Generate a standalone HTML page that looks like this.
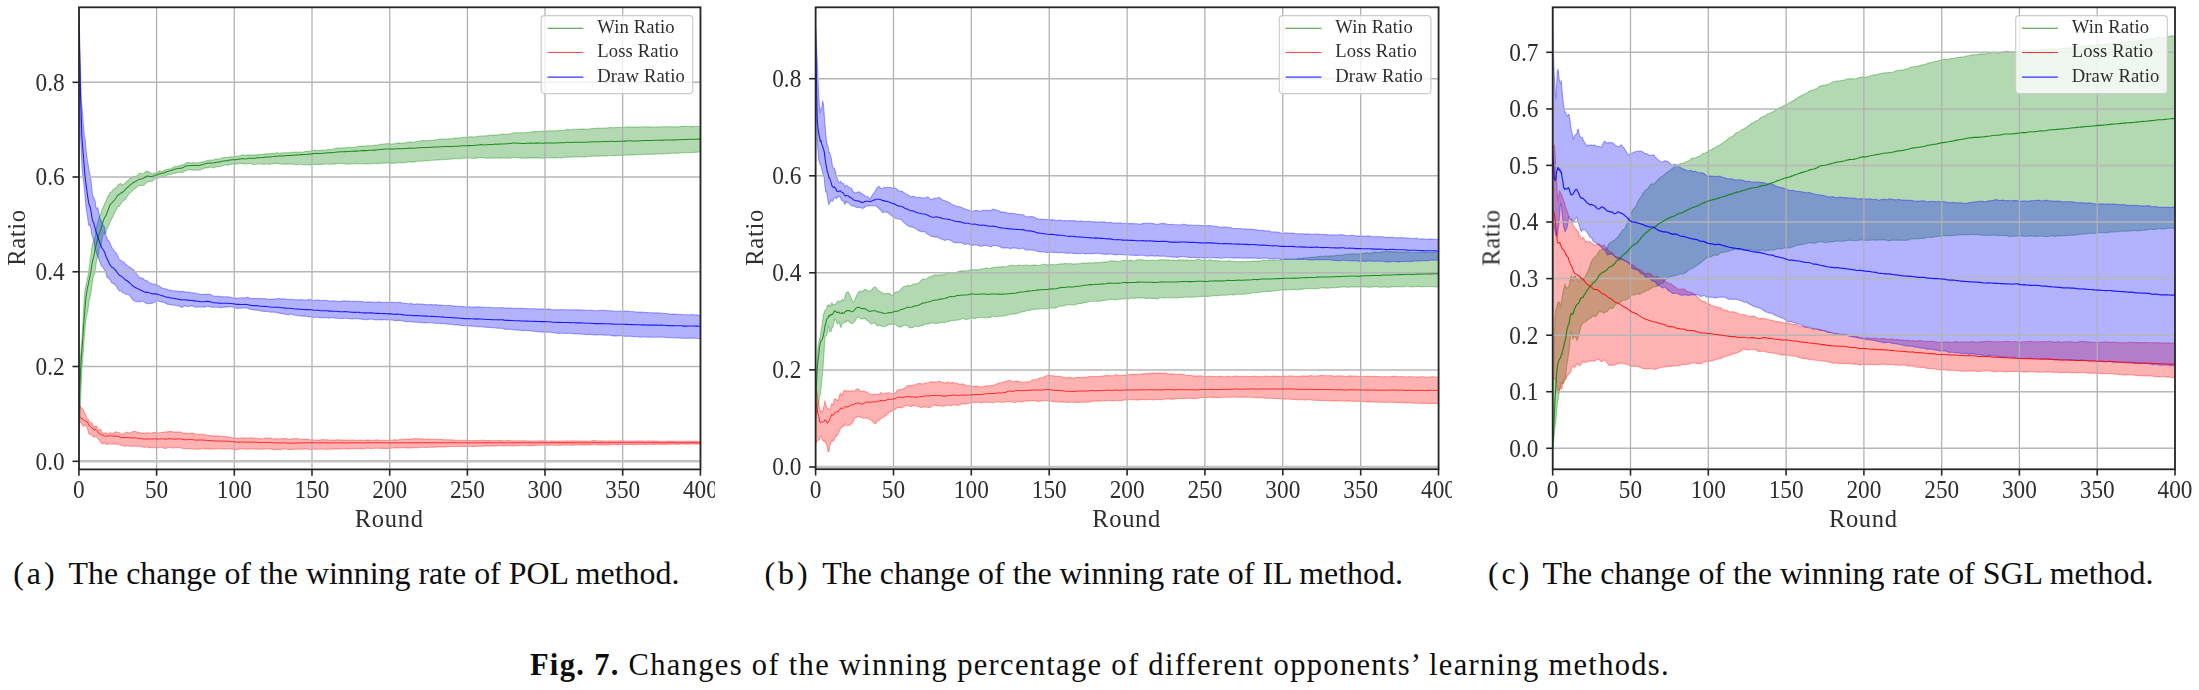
<!DOCTYPE html>
<html><head><meta charset="utf-8"><title>Fig. 7</title>
<style>
html,body{margin:0;padding:0;background:#fff;}
body{width:2199px;height:690px;position:relative;overflow:hidden;font-family:"Liberation Serif",serif;color:#111;}
svg text{font-family:"Liberation Serif",serif;fill:#2e2e2e;}
.tk{font-size:23.3px;}
.al{font-size:24.5px;letter-spacing:0.7px;}
.lg{font-size:18.6px;letter-spacing:0.15px;}
.cap{position:absolute;white-space:pre;font-size:31.9px;line-height:1;color:#0d0d0d;top:557.6px;}
.lab{letter-spacing:3px;}
.main{position:absolute;white-space:pre;font-size:30.5px;line-height:1;color:#0d0d0d;letter-spacing:1.32px;top:649.5px;}
</style></head><body>
<svg width="2199" height="690" viewBox="0 0 2199 690" style="position:absolute;left:0;top:0">
<rect width="100%" height="100%" fill="#fff"/>
<defs><filter id="soft" x="0" y="0" width="100%" height="100%" filterUnits="userSpaceOnUse" color-interpolation-filters="sRGB"><feGaussianBlur stdDeviation="0.45"/></filter></defs>
<g filter="url(#soft)">
<clipPath id="ax1"><rect x="79.0" y="7.3" width="621.5" height="462.1"/></clipPath>
<clipPath id="img1"><rect x="0" y="0" width="715" height="545"/></clipPath>
<g clip-path="url(#img1)">
<g clip-path="url(#ax1)">
<path d="M78.9,419.2 L79.7,379.6 L80.5,356.1 L81.2,347.5 L82.0,338.2 L82.8,324.2 L83.6,308.3 L84.3,296.0 L85.1,289.9 L85.9,286.1 L86.7,282.2 L87.4,277.9 L88.2,275.7 L89.0,269.0 L89.8,263.4 L90.6,258.2 L91.3,250.9 L92.1,245.8 L92.9,242.4 L93.7,239.6 L94.4,238.7 L95.2,236.8 L96.0,231.1 L96.8,225.8 L97.5,222.9 L98.3,220.1 L99.1,217.2 L99.9,215.8 L100.7,214.3 L101.4,211.8 L102.2,209.2 L103.0,207.7 L103.8,205.7 L104.5,204.2 L105.3,202.2 L106.1,201.0 L106.9,198.7 L107.6,196.7 L108.4,195.3 L109.2,194.8 L110.0,192.4 L111.5,191.9 L113.1,189.5 L114.6,188.6 L116.2,187.7 L117.7,185.3 L119.3,184.1 L120.9,183.6 L122.4,185.1 L124.0,184.1 L125.5,182.6 L127.1,181.2 L128.6,180.0 L130.2,178.1 L131.7,177.9 L133.3,176.6 L134.8,176.4 L136.4,176.2 L137.9,174.7 L139.5,173.3 L141.1,173.5 L142.6,174.0 L144.2,172.9 L145.7,171.6 L147.3,171.4 L148.8,171.7 L150.4,172.8 L151.9,173.9 L153.5,173.3 L155.0,173.0 L156.6,173.1 L158.1,172.1 L159.7,170.5 L161.3,171.9 L162.8,171.2 L164.4,170.2 L165.9,169.8 L167.5,169.3 L169.0,169.1 L170.6,169.0 L172.1,168.1 L173.7,166.9 L175.2,166.4 L176.8,166.2 L178.3,166.2 L179.9,165.6 L181.5,165.1 L183.0,164.9 L184.6,164.1 L186.1,163.0 L187.7,162.2 L189.2,162.9 L190.8,162.8 L192.3,162.5 L193.9,162.7 L195.4,163.3 L197.0,162.8 L198.5,162.8 L200.1,162.4 L201.7,161.8 L203.2,162.1 L204.8,161.4 L206.3,160.8 L207.9,160.4 L209.4,160.2 L211.0,160.0 L212.5,160.0 L214.1,159.7 L215.6,159.1 L217.2,158.9 L218.7,159.0 L220.3,158.8 L221.8,157.9 L223.4,157.5 L225.0,157.2 L226.5,157.5 L228.1,157.6 L229.6,156.8 L231.2,156.8 L232.7,156.7 L234.3,156.8 L235.8,156.4 L237.4,156.4 L238.9,156.2 L240.5,155.5 L242.0,155.1 L243.6,155.1 L245.2,155.3 L246.7,155.0 L248.3,155.1 L249.8,155.1 L251.4,155.0 L252.9,155.1 L254.5,155.1 L256.0,155.1 L257.6,154.6 L259.1,154.6 L260.7,154.5 L262.2,154.4 L263.8,154.1 L265.4,153.7 L266.9,153.7 L268.5,153.7 L270.0,153.9 L271.6,153.6 L273.1,153.4 L274.7,153.3 L276.2,152.9 L277.8,152.7 L279.3,153.5 L280.9,153.1 L282.4,152.8 L284.0,152.7 L285.6,152.8 L287.1,152.7 L288.7,152.7 L290.2,152.4 L291.8,152.4 L293.3,152.2 L294.9,152.1 L296.4,151.9 L298.0,152.5 L299.5,152.0 L301.1,152.0 L302.6,152.3 L304.2,151.8 L305.8,151.3 L307.3,151.5 L308.9,151.4 L310.4,151.1 L312.0,150.6 L313.5,150.4 L315.1,150.2 L316.6,150.4 L318.2,150.5 L319.7,150.6 L321.3,150.2 L322.8,150.1 L324.4,150.2 L326.0,150.2 L327.5,149.6 L329.1,149.5 L330.6,149.4 L332.2,149.2 L333.7,149.0 L335.3,148.5 L336.8,148.1 L338.4,148.3 L339.9,148.1 L341.5,148.1 L343.0,147.8 L344.6,147.7 L346.2,147.9 L347.7,147.5 L349.3,147.4 L350.8,147.2 L352.4,147.2 L353.9,147.2 L355.5,147.2 L357.0,146.8 L358.6,146.3 L360.1,146.2 L361.7,146.0 L363.2,146.1 L364.8,146.2 L366.4,146.1 L367.9,145.6 L369.5,145.7 L371.0,145.7 L372.6,145.7 L374.1,145.1 L375.7,145.2 L377.2,145.0 L378.8,144.8 L380.3,144.4 L381.9,144.1 L383.4,144.3 L385.0,143.9 L386.6,143.8 L388.1,143.6 L389.7,143.7 L391.2,144.0 L392.8,143.9 L394.3,143.7 L395.9,143.5 L397.4,143.1 L399.0,142.9 L400.5,143.1 L402.1,143.2 L403.6,143.1 L405.2,142.9 L406.8,142.4 L408.3,142.0 L409.9,142.1 L411.4,142.1 L413.0,142.2 L414.5,142.1 L416.1,141.5 L417.6,141.5 L419.2,141.4 L420.7,140.9 L422.3,140.6 L423.8,140.6 L425.4,140.7 L427.0,140.6 L428.5,140.7 L430.1,140.2 L431.6,140.2 L433.2,140.2 L434.7,139.9 L436.3,139.8 L437.8,139.5 L439.4,139.1 L440.9,139.1 L442.5,139.0 L444.0,139.0 L445.6,138.9 L447.2,139.0 L448.7,138.9 L450.3,138.9 L451.8,138.7 L453.4,138.3 L454.9,138.1 L456.5,138.0 L458.0,138.1 L459.6,138.0 L461.1,137.7 L462.7,137.4 L464.2,137.2 L465.8,137.2 L467.4,137.1 L468.9,136.9 L470.5,136.9 L472.0,136.8 L473.6,137.0 L475.1,136.9 L476.7,136.5 L478.2,136.2 L479.8,136.0 L481.3,136.0 L482.9,136.0 L484.4,135.9 L486.0,136.0 L487.5,135.6 L489.1,135.4 L490.7,135.4 L492.2,135.1 L493.8,135.1 L495.3,135.0 L496.9,135.2 L498.4,134.8 L500.0,134.8 L501.5,134.2 L503.1,134.1 L504.6,134.2 L506.2,134.4 L507.7,134.3 L509.3,133.9 L510.9,133.7 L512.4,133.3 L514.0,132.8 L515.5,132.8 L517.1,132.8 L518.6,132.8 L520.2,132.8 L521.7,132.8 L523.3,132.7 L524.8,132.8 L526.4,132.5 L527.9,132.3 L529.5,132.2 L531.1,132.0 L532.6,131.7 L534.2,131.6 L535.7,131.6 L537.3,131.5 L538.8,131.4 L540.4,131.2 L541.9,131.3 L543.5,131.3 L545.0,131.3 L546.6,131.1 L548.1,130.8 L549.7,130.8 L551.3,130.9 L552.8,130.8 L554.4,130.8 L555.9,130.9 L557.5,130.6 L559.0,130.3 L560.6,130.3 L562.1,130.5 L563.7,130.5 L565.2,129.9 L566.8,129.4 L568.3,129.6 L569.9,129.9 L571.5,129.8 L573.0,129.3 L574.6,129.3 L576.1,129.3 L577.7,129.1 L579.2,129.2 L580.8,129.1 L582.3,129.1 L583.9,129.1 L585.4,129.2 L587.0,129.0 L588.5,129.0 L590.1,129.0 L591.7,128.5 L593.2,128.4 L594.8,128.6 L596.3,128.4 L597.9,128.0 L599.4,128.3 L601.0,128.3 L602.5,128.1 L604.1,128.0 L605.6,128.0 L607.2,128.0 L608.7,127.8 L610.3,127.6 L611.9,127.5 L613.4,127.7 L615.0,127.5 L616.5,127.6 L618.1,127.4 L619.6,127.5 L621.2,127.3 L622.7,127.3 L624.3,127.3 L625.8,127.3 L627.4,126.9 L628.9,126.9 L630.5,127.0 L632.1,127.1 L633.6,127.1 L635.2,126.9 L636.7,127.0 L638.3,127.1 L639.8,127.0 L641.4,127.0 L642.9,126.9 L644.5,126.9 L646.0,126.8 L647.6,126.9 L649.1,126.7 L650.7,126.9 L652.3,127.0 L653.8,126.9 L655.4,127.0 L656.9,127.1 L658.5,126.9 L660.0,127.0 L661.6,126.8 L663.1,126.7 L664.7,126.7 L666.2,126.5 L667.8,126.7 L669.3,126.7 L670.9,126.6 L672.5,126.9 L674.0,126.9 L675.6,126.9 L677.1,126.9 L678.7,126.9 L680.2,126.7 L681.8,126.4 L683.3,126.3 L684.9,126.4 L686.4,126.4 L688.0,126.4 L689.5,126.6 L691.1,126.6 L692.7,126.6 L694.2,126.5 L695.8,126.4 L697.3,126.5 L698.9,126.5 L700.4,126.5 L700.4,152.0 L698.9,152.0 L697.3,152.3 L695.8,152.3 L694.2,152.4 L692.7,152.5 L691.1,152.5 L689.5,152.5 L688.0,152.5 L686.4,152.7 L684.9,152.7 L683.3,152.7 L681.8,152.8 L680.2,153.0 L678.7,153.1 L677.1,153.2 L675.6,153.4 L674.0,153.1 L672.5,153.2 L670.9,153.3 L669.3,153.4 L667.8,153.6 L666.2,153.8 L664.7,153.8 L663.1,153.9 L661.6,153.9 L660.0,153.7 L658.5,153.6 L656.9,153.9 L655.4,154.1 L653.8,154.1 L652.3,154.2 L650.7,154.4 L649.1,154.3 L647.6,154.2 L646.0,154.1 L644.5,154.3 L642.9,154.4 L641.4,154.7 L639.8,154.6 L638.3,154.6 L636.7,154.8 L635.2,154.8 L633.6,154.9 L632.1,154.9 L630.5,154.8 L628.9,154.9 L627.4,154.8 L625.8,155.1 L624.3,155.2 L622.7,155.6 L621.2,155.5 L619.6,155.5 L618.1,155.2 L616.5,155.6 L615.0,155.6 L613.4,155.6 L611.9,155.5 L610.3,155.5 L608.7,155.5 L607.2,155.9 L605.6,155.9 L604.1,155.9 L602.5,156.0 L601.0,156.0 L599.4,156.1 L597.9,156.1 L596.3,156.1 L594.8,156.1 L593.2,156.2 L591.7,156.1 L590.1,156.4 L588.5,156.5 L587.0,156.6 L585.4,157.0 L583.9,156.9 L582.3,156.8 L580.8,156.8 L579.2,157.0 L577.7,156.9 L576.1,157.0 L574.6,157.0 L573.0,156.9 L571.5,157.1 L569.9,157.1 L568.3,157.1 L566.8,157.0 L565.2,157.5 L563.7,157.7 L562.1,157.6 L560.6,157.6 L559.0,157.7 L557.5,157.8 L555.9,157.9 L554.4,157.9 L552.8,157.8 L551.3,157.8 L549.7,158.0 L548.1,157.8 L546.6,157.7 L545.0,157.9 L543.5,158.1 L541.9,158.2 L540.4,158.0 L538.8,157.9 L537.3,157.9 L535.7,157.9 L534.2,157.9 L532.6,157.9 L531.1,157.9 L529.5,157.9 L527.9,157.9 L526.4,157.9 L524.8,158.2 L523.3,158.1 L521.7,158.1 L520.2,157.9 L518.6,157.8 L517.1,157.6 L515.5,157.6 L514.0,157.3 L512.4,157.5 L510.9,158.0 L509.3,158.1 L507.7,158.0 L506.2,158.1 L504.6,158.0 L503.1,157.9 L501.5,157.9 L500.0,158.2 L498.4,158.1 L496.9,158.0 L495.3,157.8 L493.8,158.2 L492.2,158.1 L490.7,158.1 L489.1,158.0 L487.5,158.1 L486.0,158.3 L484.4,158.0 L482.9,157.6 L481.3,157.5 L479.8,157.6 L478.2,157.8 L476.7,158.1 L475.1,158.1 L473.6,158.3 L472.0,158.2 L470.5,158.0 L468.9,157.8 L467.4,158.0 L465.8,158.0 L464.2,158.1 L462.7,158.1 L461.1,158.6 L459.6,158.8 L458.0,158.8 L456.5,158.7 L454.9,158.8 L453.4,159.0 L451.8,159.0 L450.3,159.1 L448.7,159.3 L447.2,159.4 L445.6,159.3 L444.0,159.6 L442.5,159.8 L440.9,159.8 L439.4,159.9 L437.8,160.0 L436.3,159.9 L434.7,160.1 L433.2,160.2 L431.6,160.3 L430.1,160.5 L428.5,160.6 L427.0,160.5 L425.4,160.8 L423.8,160.9 L422.3,161.0 L420.7,161.3 L419.2,161.2 L417.6,161.2 L416.1,161.5 L414.5,161.9 L413.0,161.9 L411.4,162.1 L409.9,161.9 L408.3,161.9 L406.8,162.3 L405.2,162.4 L403.6,162.8 L402.1,162.9 L400.5,162.8 L399.0,162.6 L397.4,162.7 L395.9,162.9 L394.3,163.3 L392.8,163.3 L391.2,163.4 L389.7,163.2 L388.1,162.8 L386.6,163.0 L385.0,163.1 L383.4,163.3 L381.9,163.0 L380.3,163.2 L378.8,163.6 L377.2,163.6 L375.7,163.5 L374.1,163.2 L372.6,163.8 L371.0,163.8 L369.5,163.6 L367.9,163.7 L366.4,163.9 L364.8,163.7 L363.2,163.7 L361.7,163.5 L360.1,163.6 L358.6,163.8 L357.0,163.9 L355.5,163.8 L353.9,163.6 L352.4,163.7 L350.8,164.0 L349.3,164.3 L347.7,164.1 L346.2,164.0 L344.6,163.6 L343.0,163.7 L341.5,163.5 L339.9,163.5 L338.4,163.5 L336.8,163.5 L335.3,163.9 L333.7,163.9 L332.2,164.1 L330.6,164.3 L329.1,164.3 L327.5,163.8 L326.0,164.0 L324.4,164.2 L322.8,164.3 L321.3,164.4 L319.7,164.5 L318.2,164.4 L316.6,164.3 L315.1,164.6 L313.5,164.5 L312.0,164.5 L310.4,164.9 L308.9,164.6 L307.3,164.5 L305.8,164.7 L304.2,164.7 L302.6,164.5 L301.1,164.3 L299.5,164.1 L298.0,164.6 L296.4,164.6 L294.9,164.5 L293.3,164.1 L291.8,164.2 L290.2,163.8 L288.7,164.2 L287.1,164.0 L285.6,164.3 L284.0,164.3 L282.4,164.1 L280.9,164.0 L279.3,164.0 L277.8,163.4 L276.2,163.3 L274.7,163.4 L273.1,163.6 L271.6,163.8 L270.0,164.3 L268.5,164.2 L266.9,163.8 L265.4,164.1 L263.8,164.6 L262.2,164.0 L260.7,164.0 L259.1,164.0 L257.6,163.8 L256.0,164.2 L254.5,164.5 L252.9,164.4 L251.4,163.7 L249.8,163.2 L248.3,163.6 L246.7,164.0 L245.2,163.9 L243.6,163.6 L242.0,163.4 L240.5,163.2 L238.9,163.5 L237.4,163.9 L235.8,164.3 L234.3,163.9 L232.7,164.0 L231.2,164.6 L229.6,164.5 L228.1,165.3 L226.5,165.0 L225.0,164.8 L223.4,165.5 L221.8,166.1 L220.3,166.6 L218.7,166.5 L217.2,166.7 L215.6,167.0 L214.1,167.7 L212.5,167.6 L211.0,166.9 L209.4,167.2 L207.9,167.8 L206.3,167.9 L204.8,167.8 L203.2,168.7 L201.7,169.3 L200.1,169.9 L198.5,170.1 L197.0,170.2 L195.4,170.2 L193.9,169.9 L192.3,170.2 L190.8,169.6 L189.2,169.6 L187.7,170.1 L186.1,170.7 L184.6,171.1 L183.0,172.4 L181.5,172.8 L179.9,172.3 L178.3,172.2 L176.8,172.8 L175.2,173.5 L173.7,173.3 L172.1,173.9 L170.6,174.5 L169.0,174.7 L167.5,174.9 L165.9,175.9 L164.4,177.4 L162.8,176.8 L161.3,177.2 L159.7,177.5 L158.1,178.1 L156.6,177.8 L155.0,178.7 L153.5,180.0 L151.9,181.2 L150.4,181.5 L148.8,181.4 L147.3,181.8 L145.7,183.3 L144.2,185.0 L142.6,185.6 L141.1,185.3 L139.5,185.6 L137.9,186.2 L136.4,187.7 L134.8,188.8 L133.3,189.6 L131.7,191.6 L130.2,192.6 L128.6,194.5 L127.1,196.6 L125.5,199.4 L124.0,200.3 L122.4,201.5 L120.9,203.6 L119.3,206.5 L117.7,206.8 L116.2,209.9 L114.6,212.7 L113.1,216.0 L111.5,219.3 L110.0,222.1 L109.2,224.4 L108.4,225.4 L107.6,228.1 L106.9,228.7 L106.1,232.2 L105.3,233.6 L104.5,234.4 L103.8,233.1 L103.0,234.6 L102.2,239.1 L101.4,243.5 L100.7,246.3 L99.9,247.5 L99.1,248.9 L98.3,254.3 L97.5,258.1 L96.8,258.8 L96.0,264.2 L95.2,270.5 L94.4,274.4 L93.7,275.6 L92.9,278.3 L92.1,284.4 L91.3,289.6 L90.6,295.1 L89.8,297.9 L89.0,301.3 L88.2,308.2 L87.4,311.8 L86.7,315.8 L85.9,319.1 L85.1,327.2 L84.3,337.1 L83.6,346.9 L82.8,358.6 L82.0,367.8 L81.2,385.0 L80.5,404.5 L79.7,425.4 L78.9,442.2Z" fill="#008000" fill-opacity="0.3" stroke="#008000" stroke-opacity="0.35" stroke-width="1.1" stroke-linejoin="round"/>
<path d="M78.9,401.8 L79.7,404.4 L80.5,406.6 L81.2,407.5 L82.0,408.6 L82.8,408.9 L83.6,411.0 L84.3,412.5 L85.1,413.7 L85.9,415.7 L86.7,418.2 L87.4,419.1 L88.2,419.3 L89.0,422.2 L89.8,421.6 L90.6,422.3 L91.3,422.9 L92.1,423.3 L92.9,425.5 L93.7,425.7 L94.4,427.5 L95.2,426.7 L96.0,425.8 L96.8,426.5 L97.5,428.7 L98.3,430.4 L99.1,429.7 L99.9,429.7 L100.7,429.2 L101.4,431.6 L102.2,432.5 L103.0,433.5 L103.8,433.1 L104.5,433.0 L105.3,432.9 L106.1,432.8 L106.9,434.0 L107.6,433.9 L108.4,433.9 L109.2,433.1 L110.0,432.7 L111.5,433.0 L113.1,433.2 L114.6,432.4 L116.2,431.8 L117.7,432.5 L119.3,432.7 L120.9,434.0 L122.4,434.5 L124.0,433.5 L125.5,432.7 L127.1,432.1 L128.6,433.0 L130.2,432.7 L131.7,432.3 L133.3,431.5 L134.8,431.3 L136.4,431.9 L137.9,432.3 L139.5,432.6 L141.1,433.1 L142.6,433.0 L144.2,433.1 L145.7,433.0 L147.3,432.8 L148.8,433.0 L150.4,433.3 L151.9,433.0 L153.5,432.6 L155.0,432.3 L156.6,432.7 L158.1,433.1 L159.7,432.8 L161.3,432.5 L162.8,432.1 L164.4,432.2 L165.9,431.8 L167.5,431.9 L169.0,431.6 L170.6,431.6 L172.1,431.5 L173.7,432.2 L175.2,431.9 L176.8,432.1 L178.3,432.0 L179.9,431.9 L181.5,432.2 L183.0,432.9 L184.6,433.5 L186.1,433.0 L187.7,433.5 L189.2,433.3 L190.8,433.0 L192.3,432.9 L193.9,433.6 L195.4,434.3 L197.0,434.4 L198.5,434.5 L200.1,434.2 L201.7,434.2 L203.2,434.2 L204.8,434.6 L206.3,435.3 L207.9,435.2 L209.4,435.5 L211.0,435.6 L212.5,435.8 L214.1,436.1 L215.6,436.1 L217.2,435.8 L218.7,435.9 L220.3,436.3 L221.8,436.5 L223.4,436.6 L225.0,436.8 L226.5,436.5 L228.1,436.7 L229.6,437.0 L231.2,437.6 L232.7,437.8 L234.3,437.9 L235.8,438.3 L237.4,438.1 L238.9,438.2 L240.5,437.9 L242.0,438.0 L243.6,437.9 L245.2,438.1 L246.7,438.3 L248.3,438.2 L249.8,437.8 L251.4,437.7 L252.9,438.1 L254.5,438.3 L256.0,438.2 L257.6,438.2 L259.1,438.6 L260.7,438.9 L262.2,438.7 L263.8,438.5 L265.4,438.0 L266.9,438.1 L268.5,438.2 L270.0,438.1 L271.6,438.5 L273.1,439.0 L274.7,438.9 L276.2,438.5 L277.8,438.7 L279.3,438.9 L280.9,438.8 L282.4,438.7 L284.0,438.5 L285.6,438.6 L287.1,438.9 L288.7,439.2 L290.2,439.1 L291.8,438.7 L293.3,438.9 L294.9,438.5 L296.4,438.5 L298.0,438.7 L299.5,439.0 L301.1,439.2 L302.6,439.3 L304.2,439.4 L305.8,439.3 L307.3,439.4 L308.9,439.5 L310.4,439.8 L312.0,440.0 L313.5,439.9 L315.1,440.0 L316.6,440.0 L318.2,440.1 L319.7,440.1 L321.3,439.8 L322.8,439.6 L324.4,439.7 L326.0,439.9 L327.5,439.8 L329.1,440.0 L330.6,440.0 L332.2,440.1 L333.7,440.0 L335.3,440.1 L336.8,439.9 L338.4,439.8 L339.9,439.9 L341.5,440.1 L343.0,440.1 L344.6,440.1 L346.2,440.1 L347.7,440.0 L349.3,440.2 L350.8,440.0 L352.4,440.0 L353.9,440.1 L355.5,440.3 L357.0,440.4 L358.6,440.4 L360.1,440.1 L361.7,440.2 L363.2,440.4 L364.8,440.3 L366.4,440.1 L367.9,440.1 L369.5,440.1 L371.0,440.2 L372.6,440.4 L374.1,440.2 L375.7,440.0 L377.2,439.9 L378.8,440.1 L380.3,440.2 L381.9,440.3 L383.4,440.2 L385.0,440.3 L386.6,440.4 L388.1,440.5 L389.7,440.4 L391.2,440.3 L392.8,440.0 L394.3,439.8 L395.9,439.9 L397.4,440.0 L399.0,439.7 L400.5,439.5 L402.1,439.3 L403.6,439.3 L405.2,439.3 L406.8,439.1 L408.3,439.2 L409.9,439.1 L411.4,439.0 L413.0,438.7 L414.5,438.8 L416.1,438.6 L417.6,438.8 L419.2,438.8 L420.7,438.9 L422.3,438.9 L423.8,439.1 L425.4,439.2 L427.0,439.2 L428.5,439.1 L430.1,439.2 L431.6,439.2 L433.2,439.4 L434.7,439.5 L436.3,439.4 L437.8,439.4 L439.4,439.5 L440.9,439.4 L442.5,439.6 L444.0,439.7 L445.6,439.8 L447.2,439.7 L448.7,439.8 L450.3,439.9 L451.8,439.9 L453.4,439.9 L454.9,440.2 L456.5,440.3 L458.0,440.3 L459.6,440.2 L461.1,440.2 L462.7,440.3 L464.2,440.3 L465.8,440.4 L467.4,440.4 L468.9,440.5 L470.5,440.5 L472.0,440.5 L473.6,440.6 L475.1,440.5 L476.7,440.5 L478.2,440.4 L479.8,440.5 L481.3,440.4 L482.9,440.4 L484.4,440.4 L486.0,440.5 L487.5,440.6 L489.1,440.6 L490.7,440.6 L492.2,440.7 L493.8,440.7 L495.3,440.5 L496.9,440.5 L498.4,440.5 L500.0,440.6 L501.5,440.6 L503.1,440.8 L504.6,440.8 L506.2,440.8 L507.7,440.5 L509.3,440.5 L510.9,440.7 L512.4,440.9 L514.0,440.8 L515.5,440.9 L517.1,440.7 L518.6,440.8 L520.2,440.8 L521.7,440.7 L523.3,440.7 L524.8,440.7 L526.4,440.9 L527.9,440.9 L529.5,440.9 L531.1,441.0 L532.6,441.1 L534.2,441.0 L535.7,441.0 L537.3,440.9 L538.8,440.9 L540.4,440.9 L541.9,440.7 L543.5,440.9 L545.0,441.0 L546.6,441.1 L548.1,441.0 L549.7,441.0 L551.3,440.9 L552.8,441.0 L554.4,441.0 L555.9,441.0 L557.5,441.2 L559.0,441.1 L560.6,441.0 L562.1,441.0 L563.7,441.0 L565.2,441.0 L566.8,440.8 L568.3,440.9 L569.9,441.1 L571.5,440.9 L573.0,440.8 L574.6,440.9 L576.1,440.9 L577.7,440.9 L579.2,441.0 L580.8,440.8 L582.3,441.0 L583.9,441.1 L585.4,441.0 L587.0,441.1 L588.5,441.2 L590.1,441.0 L591.7,440.7 L593.2,440.5 L594.8,440.6 L596.3,440.8 L597.9,441.0 L599.4,440.9 L601.0,441.1 L602.5,440.9 L604.1,441.0 L605.6,441.0 L607.2,441.0 L608.7,441.1 L610.3,440.9 L611.9,441.0 L613.4,440.9 L615.0,441.0 L616.5,441.0 L618.1,440.9 L619.6,440.8 L621.2,440.9 L622.7,440.8 L624.3,441.0 L625.8,441.1 L627.4,441.2 L628.9,441.0 L630.5,441.0 L632.1,441.1 L633.6,441.1 L635.2,441.1 L636.7,441.1 L638.3,440.9 L639.8,440.9 L641.4,441.0 L642.9,441.0 L644.5,441.3 L646.0,441.2 L647.6,440.9 L649.1,440.9 L650.7,441.0 L652.3,441.1 L653.8,441.0 L655.4,441.1 L656.9,441.1 L658.5,441.2 L660.0,441.3 L661.6,441.3 L663.1,441.2 L664.7,441.2 L666.2,441.2 L667.8,441.1 L669.3,441.1 L670.9,441.2 L672.5,441.1 L674.0,441.2 L675.6,441.4 L677.1,441.4 L678.7,441.2 L680.2,441.2 L681.8,441.3 L683.3,441.3 L684.9,441.2 L686.4,441.4 L688.0,441.4 L689.5,441.4 L691.1,441.3 L692.7,441.3 L694.2,441.3 L695.8,441.3 L697.3,441.6 L698.9,441.5 L700.4,441.4 L700.4,443.9 L698.9,444.1 L697.3,444.1 L695.8,444.1 L694.2,444.0 L692.7,443.9 L691.1,443.9 L689.5,444.1 L688.0,444.2 L686.4,444.2 L684.9,444.1 L683.3,444.0 L681.8,444.0 L680.2,444.1 L678.7,444.3 L677.1,444.4 L675.6,444.2 L674.0,444.2 L672.5,444.2 L670.9,444.2 L669.3,444.2 L667.8,444.3 L666.2,444.4 L664.7,444.4 L663.1,444.4 L661.6,444.4 L660.0,444.4 L658.5,444.3 L656.9,444.2 L655.4,444.4 L653.8,444.4 L652.3,444.4 L650.7,444.3 L649.1,444.3 L647.6,444.4 L646.0,444.6 L644.5,444.4 L642.9,444.5 L641.4,444.5 L639.8,444.5 L638.3,444.5 L636.7,444.7 L635.2,444.7 L633.6,444.8 L632.1,444.7 L630.5,444.5 L628.9,444.5 L627.4,444.7 L625.8,444.6 L624.3,444.6 L622.7,444.5 L621.2,444.6 L619.6,444.7 L618.1,444.9 L616.5,444.8 L615.0,444.7 L613.4,444.6 L611.9,444.8 L610.3,444.8 L608.7,445.0 L607.2,445.1 L605.6,445.0 L604.1,445.0 L602.5,444.9 L601.0,444.8 L599.4,444.9 L597.9,445.0 L596.3,444.6 L594.8,444.5 L593.2,444.6 L591.7,444.9 L590.1,444.9 L588.5,444.9 L587.0,445.0 L585.4,445.1 L583.9,444.9 L582.3,444.9 L580.8,444.9 L579.2,444.9 L577.7,445.0 L576.1,445.0 L574.6,445.1 L573.0,445.3 L571.5,445.2 L569.9,445.0 L568.3,445.0 L566.8,445.0 L565.2,445.0 L563.7,444.9 L562.1,445.0 L560.6,445.4 L559.0,445.3 L557.5,445.1 L555.9,445.1 L554.4,445.2 L552.8,445.0 L551.3,445.0 L549.7,445.1 L548.1,445.1 L546.6,445.4 L545.0,445.3 L543.5,445.2 L541.9,445.1 L540.4,445.2 L538.8,445.3 L537.3,445.3 L535.7,445.4 L534.2,445.5 L532.6,445.6 L531.1,445.6 L529.5,445.6 L527.9,445.5 L526.4,445.6 L524.8,445.5 L523.3,445.3 L521.7,445.3 L520.2,445.4 L518.6,445.7 L517.1,445.6 L515.5,445.8 L514.0,446.0 L512.4,445.9 L510.9,445.8 L509.3,445.7 L507.7,445.7 L506.2,445.8 L504.6,445.9 L503.1,446.0 L501.5,445.7 L500.0,445.7 L498.4,445.8 L496.9,445.9 L495.3,446.0 L493.8,445.9 L492.2,445.9 L490.7,445.9 L489.1,446.1 L487.5,445.9 L486.0,445.7 L484.4,445.9 L482.9,446.1 L481.3,446.2 L479.8,446.2 L478.2,446.0 L476.7,446.2 L475.1,446.4 L473.6,446.4 L472.0,446.5 L470.5,446.3 L468.9,446.3 L467.4,446.4 L465.8,446.4 L464.2,446.3 L462.7,446.4 L461.1,446.4 L459.6,446.4 L458.0,446.4 L456.5,446.4 L454.9,446.6 L453.4,446.5 L451.8,446.4 L450.3,446.5 L448.7,446.6 L447.2,446.7 L445.6,446.9 L444.0,446.9 L442.5,446.8 L440.9,446.9 L439.4,447.0 L437.8,446.9 L436.3,447.1 L434.7,447.2 L433.2,447.2 L431.6,447.1 L430.1,447.2 L428.5,447.3 L427.0,447.4 L425.4,447.4 L423.8,447.3 L422.3,447.3 L420.7,447.3 L419.2,447.5 L417.6,447.7 L416.1,447.7 L414.5,447.6 L413.0,447.5 L411.4,447.9 L409.9,447.8 L408.3,447.9 L406.8,447.9 L405.2,447.7 L403.6,447.7 L402.1,447.8 L400.5,447.8 L399.0,448.0 L397.4,447.9 L395.9,447.8 L394.3,447.9 L392.8,448.0 L391.2,448.2 L389.7,448.3 L388.1,448.4 L386.6,448.3 L385.0,448.4 L383.4,448.4 L381.9,448.4 L380.3,448.3 L378.8,448.3 L377.2,448.2 L375.7,448.3 L374.1,448.3 L372.6,448.5 L371.0,448.6 L369.5,448.4 L367.9,448.1 L366.4,448.3 L364.8,448.5 L363.2,448.8 L361.7,448.8 L360.1,448.4 L358.6,448.6 L357.0,448.8 L355.5,448.8 L353.9,448.7 L352.4,448.5 L350.8,448.5 L349.3,448.9 L347.7,448.9 L346.2,449.0 L344.6,448.7 L343.0,448.8 L341.5,449.0 L339.9,448.9 L338.4,448.8 L336.8,448.9 L335.3,448.9 L333.7,449.0 L332.2,449.1 L330.6,449.0 L329.1,449.3 L327.5,449.3 L326.0,449.4 L324.4,449.2 L322.8,449.0 L321.3,449.0 L319.7,449.3 L318.2,449.5 L316.6,449.1 L315.1,449.0 L313.5,449.2 L312.0,449.4 L310.4,449.5 L308.9,449.3 L307.3,449.2 L305.8,449.0 L304.2,448.9 L302.6,449.1 L301.1,449.3 L299.5,449.3 L298.0,449.3 L296.4,449.1 L294.9,449.0 L293.3,449.5 L291.8,449.3 L290.2,449.4 L288.7,449.5 L287.1,449.3 L285.6,449.0 L284.0,449.0 L282.4,449.3 L280.9,449.4 L279.3,449.6 L277.8,449.4 L276.2,449.2 L274.7,449.6 L273.1,449.5 L271.6,449.1 L270.0,448.9 L268.5,449.0 L266.9,449.0 L265.4,449.0 L263.8,449.1 L262.2,449.1 L260.7,449.3 L259.1,449.2 L257.6,449.1 L256.0,449.1 L254.5,449.1 L252.9,448.9 L251.4,449.0 L249.8,449.1 L248.3,449.0 L246.7,449.1 L245.2,449.3 L243.6,448.7 L242.0,448.6 L240.5,448.6 L238.9,449.2 L237.4,449.4 L235.8,449.7 L234.3,449.4 L232.7,448.9 L231.2,448.9 L229.6,448.8 L228.1,448.6 L226.5,448.8 L225.0,449.0 L223.4,448.9 L221.8,448.7 L220.3,448.7 L218.7,448.7 L217.2,448.7 L215.6,449.0 L214.1,449.0 L212.5,448.9 L211.0,448.9 L209.4,449.2 L207.9,449.0 L206.3,449.0 L204.8,448.6 L203.2,448.3 L201.7,448.6 L200.1,449.1 L198.5,449.1 L197.0,449.3 L195.4,449.3 L193.9,449.0 L192.3,448.8 L190.8,448.8 L189.2,448.5 L187.7,449.0 L186.1,448.8 L184.6,448.6 L183.0,448.4 L181.5,448.0 L179.9,447.7 L178.3,447.6 L176.8,447.7 L175.2,447.7 L173.7,448.0 L172.1,447.9 L170.6,447.5 L169.0,447.1 L167.5,448.0 L165.9,448.2 L164.4,448.4 L162.8,447.6 L161.3,447.2 L159.7,447.1 L158.1,447.9 L156.6,448.1 L155.0,447.6 L153.5,447.8 L151.9,447.8 L150.4,447.6 L148.8,447.5 L147.3,446.9 L145.7,447.0 L144.2,447.5 L142.6,447.0 L141.1,446.7 L139.5,446.2 L137.9,446.1 L136.4,446.1 L134.8,446.1 L133.3,446.1 L131.7,446.5 L130.2,446.1 L128.6,445.7 L127.1,445.5 L125.5,446.2 L124.0,446.0 L122.4,445.6 L120.9,444.9 L119.3,444.5 L117.7,444.3 L116.2,443.9 L114.6,444.1 L113.1,444.1 L111.5,443.7 L110.0,444.0 L109.2,444.0 L108.4,443.9 L107.6,444.0 L106.9,444.5 L106.1,444.4 L105.3,443.9 L104.5,442.4 L103.8,442.6 L103.0,444.0 L102.2,443.6 L101.4,443.0 L100.7,442.2 L99.9,441.4 L99.1,439.6 L98.3,439.3 L97.5,438.2 L96.8,436.9 L96.0,435.5 L95.2,436.6 L94.4,437.3 L93.7,436.5 L92.9,436.7 L92.1,434.8 L91.3,435.1 L90.6,434.7 L89.8,434.2 L89.0,433.9 L88.2,430.8 L87.4,429.2 L86.7,426.3 L85.9,426.1 L85.1,424.2 L84.3,425.4 L83.6,426.5 L82.8,425.4 L82.0,424.7 L81.2,422.3 L80.5,421.7 L79.7,422.3 L78.9,423.3Z" fill="#ff0000" fill-opacity="0.3" stroke="#ff0000" stroke-opacity="0.35" stroke-width="1.1" stroke-linejoin="round"/>
<path d="M78.9,9.5 L79.7,39.0 L80.5,72.3 L81.2,100.2 L82.0,107.5 L82.8,116.8 L83.6,127.3 L84.3,135.6 L85.1,138.8 L85.9,147.6 L86.7,155.8 L87.4,160.4 L88.2,164.8 L89.0,170.4 L89.8,174.3 L90.6,176.9 L91.3,183.3 L92.1,191.7 L92.9,196.9 L93.7,197.1 L94.4,198.9 L95.2,201.5 L96.0,207.8 L96.8,208.9 L97.5,207.6 L98.3,209.8 L99.1,213.7 L99.9,218.4 L100.7,219.7 L101.4,221.1 L102.2,223.8 L103.0,225.3 L103.8,225.7 L104.5,227.3 L105.3,232.9 L106.1,236.2 L106.9,237.1 L107.6,240.6 L108.4,240.3 L109.2,241.5 L110.0,242.9 L111.5,247.0 L113.1,249.3 L114.6,251.4 L116.2,252.9 L117.7,256.0 L119.3,259.6 L120.9,260.5 L122.4,261.4 L124.0,262.0 L125.5,264.3 L127.1,265.3 L128.6,266.6 L130.2,267.5 L131.7,268.5 L133.3,270.0 L134.8,271.0 L136.4,273.5 L137.9,275.7 L139.5,277.5 L141.1,277.9 L142.6,278.1 L144.2,279.6 L145.7,280.7 L147.3,280.7 L148.8,282.5 L150.4,283.1 L151.9,284.0 L153.5,283.9 L155.0,284.1 L156.6,284.8 L158.1,285.5 L159.7,286.3 L161.3,287.8 L162.8,288.3 L164.4,288.7 L165.9,288.8 L167.5,289.6 L169.0,290.5 L170.6,290.1 L172.1,290.8 L173.7,290.8 L175.2,290.9 L176.8,291.1 L178.3,291.6 L179.9,291.4 L181.5,291.6 L183.0,291.2 L184.6,291.8 L186.1,292.1 L187.7,292.0 L189.2,292.0 L190.8,292.7 L192.3,292.7 L193.9,293.0 L195.4,292.9 L197.0,293.7 L198.5,293.9 L200.1,294.3 L201.7,294.6 L203.2,294.4 L204.8,294.4 L206.3,293.9 L207.9,294.4 L209.4,294.4 L211.0,294.8 L212.5,295.7 L214.1,296.3 L215.6,296.2 L217.2,296.3 L218.7,296.1 L220.3,296.9 L221.8,296.6 L223.4,296.8 L225.0,296.8 L226.5,296.7 L228.1,296.8 L229.6,297.1 L231.2,297.2 L232.7,297.7 L234.3,298.1 L235.8,298.1 L237.4,298.0 L238.9,298.0 L240.5,297.8 L242.0,297.7 L243.6,298.1 L245.2,297.7 L246.7,297.3 L248.3,297.4 L249.8,298.2 L251.4,298.7 L252.9,298.6 L254.5,298.6 L256.0,298.5 L257.6,298.5 L259.1,298.6 L260.7,298.6 L262.2,298.5 L263.8,298.7 L265.4,298.5 L266.9,299.0 L268.5,299.2 L270.0,299.1 L271.6,299.5 L273.1,299.1 L274.7,299.1 L276.2,298.8 L277.8,298.8 L279.3,298.6 L280.9,299.1 L282.4,298.7 L284.0,298.8 L285.6,299.3 L287.1,299.2 L288.7,299.6 L290.2,299.5 L291.8,299.4 L293.3,299.6 L294.9,299.7 L296.4,299.7 L298.0,299.9 L299.5,299.9 L301.1,299.5 L302.6,299.7 L304.2,300.0 L305.8,300.0 L307.3,299.8 L308.9,299.6 L310.4,299.6 L312.0,300.1 L313.5,300.6 L315.1,300.3 L316.6,300.1 L318.2,300.0 L319.7,300.4 L321.3,300.5 L322.8,300.3 L324.4,300.3 L326.0,300.5 L327.5,300.6 L329.1,301.1 L330.6,301.0 L332.2,300.9 L333.7,300.8 L335.3,301.1 L336.8,301.2 L338.4,301.3 L339.9,301.6 L341.5,301.3 L343.0,300.9 L344.6,300.8 L346.2,301.0 L347.7,301.1 L349.3,301.0 L350.8,301.4 L352.4,301.6 L353.9,301.1 L355.5,301.3 L357.0,301.4 L358.6,301.4 L360.1,301.6 L361.7,301.5 L363.2,301.8 L364.8,302.2 L366.4,302.1 L367.9,301.9 L369.5,301.8 L371.0,302.2 L372.6,302.0 L374.1,302.2 L375.7,302.3 L377.2,302.1 L378.8,301.8 L380.3,302.1 L381.9,302.2 L383.4,302.5 L385.0,302.2 L386.6,302.2 L388.1,302.3 L389.7,302.3 L391.2,302.3 L392.8,302.4 L394.3,302.4 L395.9,302.7 L397.4,302.4 L399.0,302.4 L400.5,302.6 L402.1,302.9 L403.6,303.5 L405.2,303.4 L406.8,303.5 L408.3,303.7 L409.9,303.8 L411.4,303.5 L413.0,304.1 L414.5,304.4 L416.1,303.9 L417.6,303.9 L419.2,304.2 L420.7,304.0 L422.3,304.1 L423.8,304.3 L425.4,304.6 L427.0,304.5 L428.5,304.7 L430.1,304.6 L431.6,304.6 L433.2,304.7 L434.7,304.7 L436.3,304.6 L437.8,304.9 L439.4,305.1 L440.9,305.1 L442.5,305.2 L444.0,305.5 L445.6,305.5 L447.2,305.7 L448.7,305.4 L450.3,305.5 L451.8,305.8 L453.4,306.1 L454.9,306.1 L456.5,306.3 L458.0,306.3 L459.6,306.4 L461.1,306.6 L462.7,306.6 L464.2,306.8 L465.8,306.9 L467.4,306.8 L468.9,306.7 L470.5,306.9 L472.0,307.0 L473.6,307.1 L475.1,306.9 L476.7,307.0 L478.2,306.7 L479.8,306.9 L481.3,307.0 L482.9,307.4 L484.4,307.4 L486.0,307.5 L487.5,307.5 L489.1,307.4 L490.7,307.6 L492.2,307.8 L493.8,307.7 L495.3,307.7 L496.9,307.7 L498.4,307.8 L500.0,307.7 L501.5,307.6 L503.1,307.7 L504.6,308.0 L506.2,308.1 L507.7,307.9 L509.3,308.0 L510.9,308.1 L512.4,308.2 L514.0,308.4 L515.5,308.4 L517.1,308.5 L518.6,308.4 L520.2,308.4 L521.7,308.3 L523.3,308.5 L524.8,308.5 L526.4,308.6 L527.9,308.7 L529.5,308.7 L531.1,308.8 L532.6,308.8 L534.2,308.8 L535.7,308.8 L537.3,309.1 L538.8,309.1 L540.4,309.0 L541.9,308.9 L543.5,309.0 L545.0,308.9 L546.6,309.1 L548.1,309.1 L549.7,309.1 L551.3,309.6 L552.8,309.7 L554.4,309.7 L555.9,309.9 L557.5,309.9 L559.0,309.8 L560.6,309.7 L562.1,309.6 L563.7,309.7 L565.2,309.8 L566.8,309.8 L568.3,309.7 L569.9,309.8 L571.5,309.9 L573.0,309.8 L574.6,309.9 L576.1,309.9 L577.7,309.8 L579.2,310.1 L580.8,309.9 L582.3,310.0 L583.9,310.1 L585.4,310.3 L587.0,310.3 L588.5,310.3 L590.1,310.2 L591.7,310.3 L593.2,310.6 L594.8,310.7 L596.3,310.7 L597.9,310.7 L599.4,310.4 L601.0,310.3 L602.5,310.3 L604.1,310.4 L605.6,310.4 L607.2,310.7 L608.7,310.8 L610.3,310.8 L611.9,310.8 L613.4,311.0 L615.0,311.2 L616.5,311.3 L618.1,311.2 L619.6,311.3 L621.2,311.0 L622.7,311.0 L624.3,311.1 L625.8,311.2 L627.4,311.1 L628.9,311.4 L630.5,311.5 L632.1,311.6 L633.6,311.7 L635.2,311.8 L636.7,312.2 L638.3,312.1 L639.8,312.1 L641.4,312.1 L642.9,312.3 L644.5,312.4 L646.0,312.5 L647.6,312.6 L649.1,312.7 L650.7,312.8 L652.3,312.7 L653.8,312.9 L655.4,312.9 L656.9,312.8 L658.5,313.1 L660.0,313.0 L661.6,313.0 L663.1,313.2 L664.7,313.4 L666.2,313.5 L667.8,313.7 L669.3,313.9 L670.9,314.2 L672.5,314.1 L674.0,314.0 L675.6,314.1 L677.1,314.2 L678.7,314.3 L680.2,314.4 L681.8,314.5 L683.3,314.7 L684.9,314.7 L686.4,314.8 L688.0,314.9 L689.5,314.7 L691.1,314.6 L692.7,314.8 L694.2,314.8 L695.8,314.9 L697.3,315.1 L698.9,315.3 L700.4,315.5 L700.4,338.6 L698.9,338.5 L697.3,338.5 L695.8,338.3 L694.2,338.2 L692.7,338.2 L691.1,338.1 L689.5,338.1 L688.0,338.3 L686.4,338.5 L684.9,338.2 L683.3,338.3 L681.8,338.2 L680.2,338.0 L678.7,337.8 L677.1,338.0 L675.6,338.0 L674.0,337.8 L672.5,337.7 L670.9,337.7 L669.3,337.8 L667.8,337.8 L666.2,337.5 L664.7,337.3 L663.1,337.2 L661.6,337.1 L660.0,337.0 L658.5,337.1 L656.9,337.1 L655.4,337.3 L653.8,337.3 L652.3,337.2 L650.7,337.1 L649.1,337.1 L647.6,337.3 L646.0,337.1 L644.5,336.8 L642.9,337.0 L641.4,337.1 L639.8,337.1 L638.3,336.8 L636.7,336.7 L635.2,336.6 L633.6,336.7 L632.1,336.4 L630.5,336.3 L628.9,336.2 L627.4,336.3 L625.8,336.4 L624.3,336.2 L622.7,336.0 L621.2,335.6 L619.6,335.8 L618.1,336.0 L616.5,336.0 L615.0,335.9 L613.4,335.9 L611.9,335.6 L610.3,335.3 L608.7,335.1 L607.2,335.1 L605.6,335.0 L604.1,335.1 L602.5,334.9 L601.0,334.8 L599.4,334.8 L597.9,334.9 L596.3,334.9 L594.8,335.0 L593.2,335.0 L591.7,334.8 L590.1,334.4 L588.5,334.4 L587.0,334.6 L585.4,334.5 L583.9,334.3 L582.3,334.3 L580.8,334.0 L579.2,333.9 L577.7,334.0 L576.1,334.0 L574.6,333.7 L573.0,333.6 L571.5,333.4 L569.9,333.3 L568.3,333.3 L566.8,333.4 L565.2,333.4 L563.7,333.3 L562.1,333.1 L560.6,333.2 L559.0,333.4 L557.5,333.3 L555.9,333.0 L554.4,333.0 L552.8,332.8 L551.3,332.6 L549.7,332.1 L548.1,332.0 L546.6,332.1 L545.0,332.1 L543.5,332.1 L541.9,331.9 L540.4,331.9 L538.8,331.6 L537.3,331.6 L535.7,331.5 L534.2,331.3 L532.6,331.1 L531.1,331.0 L529.5,330.8 L527.9,330.6 L526.4,330.5 L524.8,330.4 L523.3,330.6 L521.7,330.4 L520.2,330.2 L518.6,330.0 L517.1,330.1 L515.5,330.0 L514.0,329.8 L512.4,329.7 L510.9,329.5 L509.3,329.1 L507.7,329.2 L506.2,329.4 L504.6,329.1 L503.1,328.5 L501.5,328.3 L500.0,328.3 L498.4,328.3 L496.9,328.1 L495.3,328.0 L493.8,327.8 L492.2,327.8 L490.7,327.6 L489.1,327.5 L487.5,327.4 L486.0,327.3 L484.4,327.1 L482.9,327.0 L481.3,326.7 L479.8,326.8 L478.2,326.5 L476.7,326.7 L475.1,326.3 L473.6,326.3 L472.0,326.1 L470.5,326.1 L468.9,325.9 L467.4,325.8 L465.8,325.7 L464.2,325.8 L462.7,325.6 L461.1,325.4 L459.6,325.2 L458.0,324.9 L456.5,324.8 L454.9,325.0 L453.4,324.8 L451.8,324.3 L450.3,324.2 L448.7,324.3 L447.2,324.3 L445.6,323.8 L444.0,323.7 L442.5,323.6 L440.9,323.8 L439.4,323.3 L437.8,323.2 L436.3,323.4 L434.7,323.3 L433.2,323.0 L431.6,322.8 L430.1,322.8 L428.5,322.7 L427.0,322.6 L425.4,322.9 L423.8,322.6 L422.3,322.6 L420.7,322.4 L419.2,322.4 L417.6,322.2 L416.1,322.1 L414.5,322.1 L413.0,322.2 L411.4,321.6 L409.9,321.6 L408.3,321.8 L406.8,321.7 L405.2,321.4 L403.6,321.3 L402.1,320.7 L400.5,320.4 L399.0,320.4 L397.4,320.4 L395.9,320.7 L394.3,320.4 L392.8,320.0 L391.2,319.7 L389.7,320.0 L388.1,320.0 L386.6,319.9 L385.0,319.6 L383.4,319.7 L381.9,319.9 L380.3,319.9 L378.8,319.4 L377.2,319.8 L375.7,319.9 L374.1,319.8 L372.6,319.2 L371.0,319.1 L369.5,319.2 L367.9,319.4 L366.4,319.6 L364.8,319.6 L363.2,319.4 L361.7,319.1 L360.1,319.1 L358.6,318.8 L357.0,318.7 L355.5,318.8 L353.9,318.8 L352.4,318.9 L350.8,318.8 L349.3,318.6 L347.7,318.4 L346.2,318.3 L344.6,318.3 L343.0,318.4 L341.5,318.5 L339.9,318.8 L338.4,318.3 L336.8,318.1 L335.3,318.2 L333.7,317.8 L332.2,317.8 L330.6,318.0 L329.1,318.2 L327.5,317.8 L326.0,317.6 L324.4,317.5 L322.8,317.6 L321.3,317.6 L319.7,317.7 L318.2,317.2 L316.6,317.0 L315.1,317.3 L313.5,317.5 L312.0,317.1 L310.4,316.8 L308.9,316.9 L307.3,316.5 L305.8,316.1 L304.2,315.9 L302.6,316.2 L301.1,315.9 L299.5,315.8 L298.0,315.8 L296.4,315.3 L294.9,315.2 L293.3,315.0 L291.8,314.3 L290.2,314.2 L288.7,314.6 L287.1,314.6 L285.6,314.2 L284.0,313.9 L282.4,313.7 L280.9,313.4 L279.3,313.1 L277.8,313.0 L276.2,312.2 L274.7,312.3 L273.1,312.0 L271.6,312.1 L270.0,312.1 L268.5,311.8 L266.9,311.3 L265.4,311.4 L263.8,311.5 L262.2,311.1 L260.7,311.1 L259.1,310.5 L257.6,310.3 L256.0,310.3 L254.5,310.0 L252.9,309.7 L251.4,309.4 L249.8,309.3 L248.3,308.5 L246.7,307.9 L245.2,308.0 L243.6,308.0 L242.0,308.3 L240.5,308.2 L238.9,308.1 L237.4,308.5 L235.8,307.9 L234.3,307.3 L232.7,307.3 L231.2,306.8 L229.6,306.7 L228.1,306.9 L226.5,307.1 L225.0,306.9 L223.4,307.3 L221.8,307.4 L220.3,307.7 L218.7,306.9 L217.2,307.3 L215.6,307.1 L214.1,307.3 L212.5,307.4 L211.0,307.0 L209.4,306.4 L207.9,306.2 L206.3,306.3 L204.8,307.2 L203.2,306.9 L201.7,306.7 L200.1,307.0 L198.5,306.7 L197.0,307.2 L195.4,306.9 L193.9,306.7 L192.3,305.6 L190.8,305.9 L189.2,306.4 L187.7,306.5 L186.1,305.9 L184.6,305.7 L183.0,306.7 L181.5,307.4 L179.9,306.2 L178.3,305.8 L176.8,305.8 L175.2,305.6 L173.7,304.8 L172.1,305.0 L170.6,304.6 L169.0,304.4 L167.5,304.3 L165.9,303.4 L164.4,302.6 L162.8,302.0 L161.3,302.1 L159.7,301.5 L158.1,301.0 L156.6,300.5 L155.0,301.8 L153.5,302.8 L151.9,303.3 L150.4,303.4 L148.8,303.6 L147.3,303.4 L145.7,303.1 L144.2,302.1 L142.6,301.0 L141.1,301.3 L139.5,302.1 L137.9,301.8 L136.4,301.7 L134.8,300.9 L133.3,300.2 L131.7,298.4 L130.2,296.2 L128.6,294.7 L127.1,294.2 L125.5,294.3 L124.0,293.1 L122.4,292.4 L120.9,290.5 L119.3,290.7 L117.7,288.8 L116.2,285.9 L114.6,284.3 L113.1,283.4 L111.5,282.6 L110.0,279.3 L109.2,279.2 L108.4,277.1 L107.6,277.9 L106.9,277.0 L106.1,273.8 L105.3,271.2 L104.5,269.4 L103.8,269.0 L103.0,267.3 L102.2,266.0 L101.4,266.0 L100.7,264.0 L99.9,262.0 L99.1,260.1 L98.3,257.6 L97.5,255.9 L96.8,254.1 L96.0,251.7 L95.2,248.8 L94.4,244.5 L93.7,239.9 L92.9,237.8 L92.1,236.2 L91.3,231.9 L90.6,226.8 L89.8,224.3 L89.0,226.0 L88.2,221.9 L87.4,215.4 L86.7,212.0 L85.9,206.3 L85.1,196.4 L84.3,188.1 L83.6,181.1 L82.8,176.3 L82.0,166.5 L81.2,149.4 L80.5,134.3 L79.7,109.9 L78.9,33.6Z" fill="#0000ff" fill-opacity="0.3" stroke="#0000ff" stroke-opacity="0.35" stroke-width="1.1" stroke-linejoin="round"/>
<line x1="78.9" x2="78.9" y1="7.3" y2="469.4" stroke="#b0b0b0" stroke-width="1.25"/>
<line x1="156.6" x2="156.6" y1="7.3" y2="469.4" stroke="#b0b0b0" stroke-width="1.25"/>
<line x1="234.3" x2="234.3" y1="7.3" y2="469.4" stroke="#b0b0b0" stroke-width="1.25"/>
<line x1="312.0" x2="312.0" y1="7.3" y2="469.4" stroke="#b0b0b0" stroke-width="1.25"/>
<line x1="389.7" x2="389.7" y1="7.3" y2="469.4" stroke="#b0b0b0" stroke-width="1.25"/>
<line x1="467.4" x2="467.4" y1="7.3" y2="469.4" stroke="#b0b0b0" stroke-width="1.25"/>
<line x1="545.0" x2="545.0" y1="7.3" y2="469.4" stroke="#b0b0b0" stroke-width="1.25"/>
<line x1="622.7" x2="622.7" y1="7.3" y2="469.4" stroke="#b0b0b0" stroke-width="1.25"/>
<line x1="700.4" x2="700.4" y1="7.3" y2="469.4" stroke="#b0b0b0" stroke-width="1.25"/>
<line x1="79.0" x2="700.5" y1="461.3" y2="461.3" stroke="#c2c2c2" stroke-width="2.4"/>
<line x1="79.0" x2="700.5" y1="366.5" y2="366.5" stroke="#b6b6b6" stroke-width="1.5"/>
<line x1="79.0" x2="700.5" y1="271.8" y2="271.8" stroke="#b6b6b6" stroke-width="1.5"/>
<line x1="79.0" x2="700.5" y1="177.0" y2="177.0" stroke="#b6b6b6" stroke-width="1.5"/>
<line x1="79.0" x2="700.5" y1="82.3" y2="82.3" stroke="#b6b6b6" stroke-width="1.5"/>
<path d="M78.9,435.9 L79.7,391.6 L80.5,372.6 L81.2,360.1 L82.0,349.5 L82.8,338.2 L83.6,326.6 L84.3,316.8 L85.1,308.0 L85.9,297.8 L86.7,292.5 L87.4,288.2 L88.2,285.0 L89.0,280.7 L89.8,276.8 L90.6,273.2 L91.3,268.9 L92.1,263.8 L92.9,259.4 L93.7,256.8 L94.4,253.6 L95.2,249.2 L96.0,245.3 L96.8,241.6 L97.5,239.1 L98.3,236.3 L99.1,233.9 L99.9,232.1 L100.7,230.2 L101.4,227.6 L102.2,224.3 L103.0,221.9 L103.8,219.4 L104.5,218.1 L105.3,216.4 L106.1,215.6 L106.9,213.3 L107.6,211.3 L108.4,209.0 L109.2,207.2 L110.0,204.7 L111.5,203.4 L113.1,201.5 L114.6,199.8 L116.2,197.7 L117.7,195.3 L119.3,194.5 L120.9,192.9 L122.4,192.3 L124.0,190.9 L125.5,189.4 L127.1,187.7 L128.6,186.5 L130.2,184.9 L131.7,183.8 L133.3,182.5 L134.8,181.8 L136.4,181.1 L137.9,180.1 L139.5,179.3 L141.1,179.0 L142.6,178.6 L144.2,177.8 L145.7,176.8 L147.3,176.1 L148.8,176.3 L150.4,176.6 L151.9,176.5 L153.5,176.0 L155.0,175.5 L156.6,174.9 L158.1,174.5 L159.7,173.7 L161.3,173.8 L162.8,173.1 L164.4,173.0 L165.9,172.1 L167.5,171.6 L169.0,171.1 L170.6,170.7 L172.1,170.2 L173.7,169.4 L175.2,169.1 L176.8,168.8 L178.3,168.6 L179.9,168.3 L181.5,168.2 L183.0,167.6 L184.6,166.6 L186.1,166.1 L187.7,165.7 L189.2,165.8 L190.8,165.5 L192.3,165.6 L193.9,165.4 L195.4,165.5 L197.0,165.5 L198.5,165.4 L200.1,165.3 L201.7,164.8 L203.2,164.4 L204.8,163.8 L206.3,163.6 L207.9,163.3 L209.4,163.0 L211.0,162.9 L212.5,162.9 L214.1,162.7 L215.6,162.4 L217.2,162.2 L218.7,162.0 L220.3,161.9 L221.8,161.3 L223.4,160.9 L225.0,160.8 L226.5,160.8 L228.1,160.8 L229.6,160.1 L231.2,160.0 L232.7,159.8 L234.3,159.8 L235.8,159.7 L237.4,159.3 L238.9,159.2 L240.5,158.8 L242.0,158.7 L243.6,158.8 L245.2,158.9 L246.7,158.7 L248.3,158.3 L249.8,158.2 L251.4,158.3 L252.9,158.4 L254.5,158.2 L256.0,158.0 L257.6,157.6 L259.1,157.7 L260.7,157.7 L262.2,157.6 L263.8,157.4 L265.4,157.0 L266.9,157.0 L268.5,156.9 L270.0,156.9 L271.6,156.7 L273.1,156.6 L274.7,156.3 L276.2,156.2 L277.8,156.0 L279.3,156.1 L280.9,156.0 L282.4,156.1 L284.0,155.8 L285.6,155.8 L287.1,155.4 L288.7,155.5 L290.2,155.3 L291.8,155.4 L293.3,155.1 L294.9,155.2 L296.4,154.8 L298.0,154.9 L299.5,154.7 L301.1,154.6 L302.6,154.6 L304.2,154.5 L305.8,154.4 L307.3,154.3 L308.9,154.1 L310.4,154.1 L312.0,153.9 L313.5,153.6 L315.1,153.4 L316.6,153.3 L318.2,153.4 L319.7,153.5 L321.3,153.4 L322.8,153.3 L324.4,153.1 L326.0,153.0 L327.5,152.8 L329.1,152.8 L330.6,152.6 L332.2,152.7 L333.7,152.5 L335.3,152.3 L336.8,152.0 L338.4,152.0 L339.9,151.8 L341.5,151.7 L343.0,151.7 L344.6,151.6 L346.2,151.7 L347.7,151.5 L349.3,151.5 L350.8,151.3 L352.4,151.2 L353.9,151.1 L355.5,151.1 L357.0,151.1 L358.6,150.9 L360.1,150.8 L361.7,150.6 L363.2,150.6 L364.8,150.6 L366.4,150.6 L367.9,150.4 L369.5,150.3 L371.0,150.2 L372.6,150.2 L374.1,150.1 L375.7,150.1 L377.2,149.8 L378.8,149.8 L380.3,149.5 L381.9,149.3 L383.4,149.3 L385.0,149.0 L386.6,149.0 L388.1,148.9 L389.7,149.0 L391.2,149.1 L392.8,149.1 L394.3,149.0 L395.9,148.8 L397.4,148.7 L399.0,148.7 L400.5,148.8 L402.1,148.7 L403.6,148.6 L405.2,148.5 L406.8,148.4 L408.3,148.2 L409.9,148.1 L411.4,148.2 L413.0,148.2 L414.5,148.2 L416.1,147.9 L417.6,147.8 L419.2,147.8 L420.7,147.7 L422.3,147.5 L423.8,147.4 L425.4,147.5 L427.0,147.4 L428.5,147.4 L430.1,147.3 L431.6,147.3 L433.2,147.1 L434.7,147.0 L436.3,147.0 L437.8,146.9 L439.4,146.7 L440.9,146.7 L442.5,146.7 L444.0,146.6 L445.6,146.5 L447.2,146.5 L448.7,146.6 L450.3,146.5 L451.8,146.4 L453.4,146.4 L454.9,146.3 L456.5,146.2 L458.0,146.2 L459.6,146.1 L461.1,146.0 L462.7,145.8 L464.2,145.8 L465.8,145.7 L467.4,145.7 L468.9,145.6 L470.5,145.6 L472.0,145.5 L473.6,145.5 L475.1,145.3 L476.7,145.2 L478.2,144.9 L479.8,144.7 L481.3,144.6 L482.9,144.8 L484.4,144.9 L486.0,144.8 L487.5,144.7 L489.1,144.6 L490.7,144.5 L492.2,144.4 L493.8,144.3 L495.3,144.1 L496.9,144.2 L498.4,144.1 L500.0,144.1 L501.5,143.9 L503.1,143.9 L504.6,143.9 L506.2,143.8 L507.7,143.7 L509.3,143.6 L510.9,143.4 L512.4,143.1 L514.0,143.0 L515.5,143.1 L517.1,143.2 L518.6,143.3 L520.2,143.3 L521.7,143.5 L523.3,143.4 L524.8,143.4 L526.4,143.3 L527.9,143.2 L529.5,143.1 L531.1,143.1 L532.6,143.2 L534.2,143.2 L535.7,143.1 L537.3,143.1 L538.8,143.1 L540.4,143.0 L541.9,143.2 L543.5,143.2 L545.0,143.1 L546.6,143.0 L548.1,143.0 L549.7,143.1 L551.3,143.0 L552.8,142.9 L554.4,142.9 L555.9,142.9 L557.5,142.9 L559.0,142.8 L560.6,142.8 L562.1,142.8 L563.7,142.8 L565.2,142.5 L566.8,142.3 L568.3,142.3 L569.9,142.4 L571.5,142.5 L573.0,142.3 L574.6,142.2 L576.1,142.2 L577.7,142.2 L579.2,142.2 L580.8,142.2 L582.3,142.2 L583.9,142.2 L585.4,142.3 L587.0,142.1 L588.5,142.0 L590.1,141.9 L591.7,141.9 L593.2,141.8 L594.8,141.7 L596.3,141.7 L597.9,141.7 L599.4,141.7 L601.0,141.7 L602.5,141.6 L604.1,141.5 L605.6,141.5 L607.2,141.5 L608.7,141.4 L610.3,141.3 L611.9,141.3 L613.4,141.5 L615.0,141.4 L616.5,141.4 L618.1,141.2 L619.6,141.3 L621.2,141.2 L622.7,141.3 L624.3,141.1 L625.8,141.1 L627.4,140.9 L628.9,140.8 L630.5,140.8 L632.1,140.9 L633.6,140.9 L635.2,140.9 L636.7,140.9 L638.3,140.9 L639.8,140.7 L641.4,140.7 L642.9,140.5 L644.5,140.5 L646.0,140.4 L647.6,140.5 L649.1,140.4 L650.7,140.4 L652.3,140.4 L653.8,140.3 L655.4,140.3 L656.9,140.3 L658.5,140.2 L660.0,140.2 L661.6,140.1 L663.1,140.2 L664.7,140.1 L666.2,140.0 L667.8,140.0 L669.3,140.0 L670.9,139.9 L672.5,139.9 L674.0,139.8 L675.6,139.9 L677.1,139.8 L678.7,139.8 L680.2,139.7 L681.8,139.6 L683.3,139.5 L684.9,139.4 L686.4,139.4 L688.0,139.3 L689.5,139.3 L691.1,139.3 L692.7,139.4 L694.2,139.3 L695.8,139.3 L697.3,139.2 L698.9,139.1 L700.4,139.1" fill="none" stroke="#008000" stroke-width="1.05" stroke-linejoin="round" stroke-opacity="0.85"/>
<path d="M78.9,418.0 L79.7,418.2 L80.5,417.2 L81.2,417.8 L82.0,419.1 L82.8,419.3 L83.6,420.4 L84.3,420.5 L85.1,420.7 L85.9,421.3 L86.7,421.0 L87.4,422.7 L88.2,423.3 L89.0,425.4 L89.8,425.8 L90.6,426.6 L91.3,427.6 L92.1,427.9 L92.9,428.9 L93.7,428.9 L94.4,430.1 L95.2,429.5 L96.0,429.6 L96.8,430.6 L97.5,431.5 L98.3,432.9 L99.1,432.9 L99.9,433.8 L100.7,434.2 L101.4,435.0 L102.2,434.8 L103.0,435.4 L103.8,435.6 L104.5,436.1 L105.3,436.1 L106.1,436.0 L106.9,436.3 L107.6,435.9 L108.4,436.1 L109.2,435.8 L110.0,435.8 L111.5,435.9 L113.1,436.1 L114.6,436.2 L116.2,436.0 L117.7,436.3 L119.3,436.9 L120.9,437.3 L122.4,437.5 L124.0,437.4 L125.5,437.6 L127.1,437.4 L128.6,437.6 L130.2,437.8 L131.7,438.0 L133.3,437.8 L134.8,437.7 L136.4,437.9 L137.9,438.3 L139.5,438.3 L141.1,438.7 L142.6,438.9 L144.2,439.1 L145.7,439.2 L147.3,439.0 L148.8,439.0 L150.4,438.9 L151.9,439.0 L153.5,438.9 L155.0,438.8 L156.6,439.0 L158.1,439.1 L159.7,438.9 L161.3,438.9 L162.8,438.8 L164.4,439.2 L165.9,439.1 L167.5,439.0 L169.0,438.6 L170.6,438.8 L172.1,438.9 L173.7,439.3 L175.2,439.1 L176.8,439.1 L178.3,438.9 L179.9,438.9 L181.5,439.1 L183.0,439.3 L184.6,439.7 L186.1,439.7 L187.7,439.8 L189.2,439.4 L190.8,439.4 L192.3,439.4 L193.9,439.9 L195.4,440.1 L197.0,440.1 L198.5,440.0 L200.1,440.0 L201.7,440.0 L203.2,440.0 L204.8,440.2 L206.3,440.4 L207.9,440.5 L209.4,440.6 L211.0,440.6 L212.5,440.8 L214.1,440.9 L215.6,441.0 L217.2,441.0 L218.7,441.0 L220.3,441.1 L221.8,441.1 L223.4,441.2 L225.0,441.2 L226.5,441.1 L228.1,441.2 L229.6,441.3 L231.2,441.5 L232.7,441.6 L234.3,441.8 L235.8,442.1 L237.4,442.2 L238.9,442.3 L240.5,442.0 L242.0,442.0 L243.6,441.9 L245.2,442.2 L246.7,442.2 L248.3,442.2 L249.8,442.1 L251.4,442.0 L252.9,442.3 L254.5,442.2 L256.0,442.2 L257.6,442.3 L259.1,442.5 L260.7,442.7 L262.2,442.5 L263.8,442.4 L265.4,442.4 L266.9,442.5 L268.5,442.5 L270.0,442.5 L271.6,442.6 L273.1,442.8 L274.7,442.9 L276.2,442.8 L277.8,442.9 L279.3,442.9 L280.9,443.0 L282.4,442.8 L284.0,442.8 L285.6,442.9 L287.1,443.1 L288.7,443.1 L290.2,443.1 L291.8,443.1 L293.3,443.2 L294.9,443.1 L296.4,443.1 L298.0,442.9 L299.5,442.9 L301.1,442.9 L302.6,442.8 L304.2,442.8 L305.8,442.8 L307.3,442.8 L308.9,442.8 L310.4,442.8 L312.0,442.8 L313.5,442.8 L315.1,442.7 L316.6,442.7 L318.2,442.9 L319.7,442.8 L321.3,442.7 L322.8,442.7 L324.4,442.7 L326.0,442.9 L327.5,442.9 L329.1,442.9 L330.6,442.8 L332.2,442.8 L333.7,442.8 L335.3,442.9 L336.8,442.8 L338.4,442.8 L339.9,442.8 L341.5,442.8 L343.0,442.8 L344.6,442.8 L346.2,442.9 L347.7,442.9 L349.3,442.9 L350.8,442.7 L352.4,442.7 L353.9,442.7 L355.5,442.8 L357.0,442.8 L358.6,442.8 L360.1,442.7 L361.7,442.9 L363.2,443.0 L364.8,442.9 L366.4,442.7 L367.9,442.6 L369.5,442.7 L371.0,442.8 L372.6,442.8 L374.1,442.7 L375.7,442.7 L377.2,442.7 L378.8,442.7 L380.3,442.8 L381.9,442.8 L383.4,442.8 L385.0,442.8 L386.6,442.8 L388.1,442.9 L389.7,442.9 L391.2,442.9 L392.8,442.8 L394.3,442.7 L395.9,442.8 L397.4,442.9 L399.0,442.9 L400.5,442.8 L402.1,442.7 L403.6,442.8 L405.2,442.8 L406.8,442.8 L408.3,442.8 L409.9,442.8 L411.4,442.9 L413.0,442.7 L414.5,442.8 L416.1,442.8 L417.6,442.9 L419.2,442.7 L420.7,442.7 L422.3,442.7 L423.8,442.8 L425.4,442.8 L427.0,442.8 L428.5,442.7 L430.1,442.7 L431.6,442.7 L433.2,442.7 L434.7,442.7 L436.3,442.8 L437.8,442.7 L439.4,442.8 L440.9,442.8 L442.5,442.8 L444.0,442.8 L445.6,442.8 L447.2,442.8 L448.7,442.8 L450.3,442.7 L451.8,442.7 L453.4,442.7 L454.9,442.8 L456.5,442.8 L458.0,442.8 L459.6,442.7 L461.1,442.8 L462.7,442.8 L464.2,442.7 L465.8,442.8 L467.4,442.8 L468.9,442.9 L470.5,442.9 L472.0,442.9 L473.6,442.8 L475.1,442.8 L476.7,442.8 L478.2,442.8 L479.8,442.8 L481.3,442.8 L482.9,442.8 L484.4,442.7 L486.0,442.7 L487.5,442.8 L489.1,442.8 L490.7,442.8 L492.2,442.8 L493.8,442.8 L495.3,442.8 L496.9,442.8 L498.4,442.7 L500.0,442.7 L501.5,442.7 L503.1,442.8 L504.6,442.8 L506.2,442.9 L507.7,442.8 L509.3,442.7 L510.9,442.7 L512.4,442.8 L514.0,442.9 L515.5,442.9 L517.1,442.7 L518.6,442.7 L520.2,442.7 L521.7,442.7 L523.3,442.7 L524.8,442.8 L526.4,442.8 L527.9,442.7 L529.5,442.8 L531.1,442.9 L532.6,443.0 L534.2,442.9 L535.7,442.8 L537.3,442.8 L538.8,442.8 L540.4,442.7 L541.9,442.6 L543.5,442.7 L545.0,442.8 L546.6,442.9 L548.1,442.8 L549.7,442.7 L551.3,442.6 L552.8,442.7 L554.4,442.8 L555.9,442.7 L557.5,442.8 L559.0,442.8 L560.6,442.8 L562.1,442.7 L563.7,442.7 L565.2,442.7 L566.8,442.7 L568.3,442.7 L569.9,442.7 L571.5,442.8 L573.0,442.8 L574.6,442.8 L576.1,442.8 L577.7,442.7 L579.2,442.7 L580.8,442.7 L582.3,442.7 L583.9,442.7 L585.4,442.8 L587.0,442.8 L588.5,442.8 L590.1,442.8 L591.7,442.6 L593.2,442.5 L594.8,442.5 L596.3,442.5 L597.9,442.7 L599.4,442.7 L601.0,442.8 L602.5,442.7 L604.1,442.8 L605.6,442.8 L607.2,442.8 L608.7,442.8 L610.3,442.7 L611.9,442.7 L613.4,442.6 L615.0,442.7 L616.5,442.8 L618.1,442.8 L619.6,442.7 L621.2,442.6 L622.7,442.6 L624.3,442.7 L625.8,442.7 L627.4,442.7 L628.9,442.7 L630.5,442.7 L632.1,442.8 L633.6,442.8 L635.2,442.8 L636.7,442.8 L638.3,442.7 L639.8,442.7 L641.4,442.6 L642.9,442.7 L644.5,442.7 L646.0,442.8 L647.6,442.6 L649.1,442.6 L650.7,442.6 L652.3,442.7 L653.8,442.7 L655.4,442.7 L656.9,442.7 L658.5,442.6 L660.0,442.7 L661.6,442.8 L663.1,442.8 L664.7,442.8 L666.2,442.7 L667.8,442.7 L669.3,442.6 L670.9,442.6 L672.5,442.6 L674.0,442.7 L675.6,442.7 L677.1,442.8 L678.7,442.8 L680.2,442.7 L681.8,442.7 L683.3,442.7 L684.9,442.7 L686.4,442.7 L688.0,442.8 L689.5,442.7 L691.1,442.6 L692.7,442.6 L694.2,442.6 L695.8,442.7 L697.3,442.8 L698.9,442.7 L700.4,442.7" fill="none" stroke="#ff0000" stroke-width="0.95" stroke-linejoin="round" stroke-opacity="0.85"/>
<path d="M78.9,18.4 L79.7,56.0 L80.5,92.4 L81.2,115.8 L82.0,139.0 L82.8,148.6 L83.6,158.3 L84.3,168.0 L85.1,177.1 L85.9,183.2 L86.7,189.3 L87.4,194.5 L88.2,199.7 L89.0,204.5 L89.8,206.0 L90.6,209.0 L91.3,213.2 L92.1,218.4 L92.9,221.2 L93.7,222.5 L94.4,225.3 L95.2,228.4 L96.0,231.7 L96.8,233.8 L97.5,236.1 L98.3,238.4 L99.1,240.8 L99.9,243.1 L100.7,244.9 L101.4,247.0 L102.2,248.6 L103.0,249.4 L103.8,250.5 L104.5,252.0 L105.3,254.4 L106.1,256.7 L106.9,258.3 L107.6,260.2 L108.4,261.2 L109.2,263.6 L110.0,264.8 L111.5,267.0 L113.1,267.7 L114.6,269.3 L116.2,271.0 L117.7,273.1 L119.3,275.3 L120.9,275.9 L122.4,277.2 L124.0,278.4 L125.5,280.1 L127.1,280.8 L128.6,282.0 L130.2,283.4 L131.7,284.8 L133.3,286.3 L134.8,287.2 L136.4,288.1 L137.9,288.7 L139.5,289.4 L141.1,290.3 L142.6,290.9 L144.2,291.7 L145.7,292.4 L147.3,292.1 L148.8,292.7 L150.4,293.0 L151.9,293.8 L153.5,293.9 L155.0,293.8 L156.6,293.9 L158.1,294.5 L159.7,295.1 L161.3,295.6 L162.8,295.8 L164.4,296.5 L165.9,296.9 L167.5,297.2 L169.0,297.5 L170.6,297.9 L172.1,298.2 L173.7,298.2 L175.2,298.6 L176.8,298.7 L178.3,299.3 L179.9,299.4 L181.5,299.9 L183.0,299.8 L184.6,299.8 L186.1,299.9 L187.7,300.3 L189.2,300.4 L190.8,300.5 L192.3,300.4 L193.9,300.9 L195.4,300.9 L197.0,301.3 L198.5,301.3 L200.1,301.6 L201.7,301.7 L203.2,301.7 L204.8,301.8 L206.3,301.4 L207.9,301.4 L209.4,301.6 L211.0,302.1 L212.5,302.6 L214.1,302.8 L215.6,302.7 L217.2,303.0 L218.7,302.9 L220.3,303.4 L221.8,303.2 L223.4,303.3 L225.0,303.2 L226.5,303.3 L228.1,303.3 L229.6,303.5 L231.2,303.5 L232.7,303.8 L234.3,303.9 L235.8,304.2 L237.4,304.4 L238.9,304.4 L240.5,304.5 L242.0,304.5 L243.6,304.5 L245.2,304.4 L246.7,304.5 L248.3,304.7 L249.8,305.1 L251.4,305.5 L252.9,305.6 L254.5,305.6 L256.0,305.6 L257.6,305.8 L259.1,306.0 L260.7,306.3 L262.2,306.3 L263.8,306.5 L265.4,306.3 L266.9,306.5 L268.5,306.8 L270.0,307.0 L271.6,307.2 L273.1,307.2 L274.7,307.3 L276.2,307.1 L277.8,307.3 L279.3,307.3 L280.9,307.7 L282.4,307.8 L284.0,307.9 L285.6,308.1 L287.1,308.2 L288.7,308.3 L290.2,308.3 L291.8,308.5 L293.3,308.8 L294.9,309.0 L296.4,309.0 L298.0,309.1 L299.5,309.2 L301.1,309.3 L302.6,309.5 L304.2,309.5 L305.8,309.6 L307.3,309.5 L308.9,309.6 L310.4,309.7 L312.0,309.8 L313.5,310.2 L315.1,310.3 L316.6,310.2 L318.2,310.3 L319.7,310.5 L321.3,310.7 L322.8,310.7 L324.4,310.7 L326.0,310.8 L327.5,310.8 L329.1,311.1 L330.6,311.1 L332.2,311.2 L333.7,311.2 L335.3,311.3 L336.8,311.3 L338.4,311.5 L339.9,311.8 L341.5,311.8 L343.0,311.7 L344.6,311.6 L346.2,311.7 L347.7,311.8 L349.3,312.0 L350.8,312.2 L352.4,312.3 L353.9,312.4 L355.5,312.4 L357.0,312.3 L358.6,312.3 L360.1,312.6 L361.7,312.7 L363.2,312.9 L364.8,312.9 L366.4,312.9 L367.9,313.0 L369.5,312.8 L371.0,312.9 L372.6,312.9 L374.1,313.3 L375.7,313.4 L377.2,313.4 L378.8,313.3 L380.3,313.5 L381.9,313.5 L383.4,313.6 L385.0,313.6 L386.6,313.8 L388.1,313.9 L389.7,313.9 L391.2,313.9 L392.8,314.1 L394.3,314.2 L395.9,314.4 L397.4,314.1 L399.0,314.2 L400.5,314.3 L402.1,314.6 L403.6,314.9 L405.2,315.0 L406.8,315.3 L408.3,315.3 L409.9,315.3 L411.4,315.4 L413.0,315.7 L414.5,315.6 L416.1,315.6 L417.6,315.6 L419.2,315.8 L420.7,315.9 L422.3,316.0 L423.8,315.9 L425.4,316.1 L427.0,316.0 L428.5,316.2 L430.1,316.3 L431.6,316.4 L433.2,316.4 L434.7,316.5 L436.3,316.6 L437.8,316.7 L439.4,316.8 L440.9,317.0 L442.5,316.9 L444.0,317.1 L445.6,317.2 L447.2,317.5 L448.7,317.5 L450.3,317.5 L451.8,317.6 L453.4,317.8 L454.9,317.9 L456.5,318.0 L458.0,318.0 L459.6,318.2 L461.1,318.3 L462.7,318.4 L464.2,318.6 L465.8,318.6 L467.4,318.7 L468.9,318.6 L470.5,318.8 L472.0,318.8 L473.6,319.0 L475.1,318.9 L476.7,319.1 L478.2,318.9 L479.8,319.0 L481.3,319.0 L482.9,319.2 L484.4,319.3 L486.0,319.5 L487.5,319.5 L489.1,319.5 L490.7,319.6 L492.2,319.7 L493.8,319.8 L495.3,319.8 L496.9,319.8 L498.4,319.9 L500.0,319.8 L501.5,319.8 L503.1,319.9 L504.6,320.2 L506.2,320.4 L507.7,320.4 L509.3,320.4 L510.9,320.5 L512.4,320.5 L514.0,320.7 L515.5,320.7 L517.1,320.7 L518.6,320.7 L520.2,320.9 L521.7,321.0 L523.3,321.0 L524.8,321.0 L526.4,321.1 L527.9,321.1 L529.5,321.2 L531.1,321.2 L532.6,321.3 L534.2,321.4 L535.7,321.4 L537.3,321.5 L538.8,321.5 L540.4,321.6 L541.9,321.5 L543.5,321.6 L545.0,321.6 L546.6,321.7 L548.1,321.8 L549.7,321.8 L551.3,322.0 L552.8,322.2 L554.4,322.3 L555.9,322.4 L557.5,322.5 L559.0,322.4 L560.6,322.4 L562.1,322.5 L563.7,322.5 L565.2,322.5 L566.8,322.5 L568.3,322.5 L569.9,322.6 L571.5,322.7 L573.0,322.8 L574.6,322.8 L576.1,322.9 L577.7,322.9 L579.2,322.9 L580.8,322.8 L582.3,323.0 L583.9,323.0 L585.4,323.2 L587.0,323.2 L588.5,323.2 L590.1,323.3 L591.7,323.4 L593.2,323.5 L594.8,323.6 L596.3,323.6 L597.9,323.6 L599.4,323.5 L601.0,323.6 L602.5,323.6 L604.1,323.7 L605.6,323.7 L607.2,323.8 L608.7,323.8 L610.3,323.9 L611.9,324.0 L613.4,324.1 L615.0,324.2 L616.5,324.3 L618.1,324.3 L619.6,324.3 L621.2,324.2 L622.7,324.2 L624.3,324.3 L625.8,324.4 L627.4,324.4 L628.9,324.5 L630.5,324.6 L632.1,324.6 L633.6,324.7 L635.2,324.6 L636.7,324.8 L638.3,324.8 L639.8,324.8 L641.4,324.9 L642.9,324.9 L644.5,324.9 L646.0,325.0 L647.6,325.1 L649.1,325.1 L650.7,325.0 L652.3,325.1 L653.8,325.1 L655.4,325.1 L656.9,325.1 L658.5,325.2 L660.0,325.1 L661.6,325.1 L663.1,325.2 L664.7,325.3 L666.2,325.5 L667.8,325.6 L669.3,325.6 L670.9,325.7 L672.5,325.6 L674.0,325.7 L675.6,325.7 L677.1,325.8 L678.7,325.7 L680.2,325.8 L681.8,325.8 L683.3,326.1 L684.9,326.1 L686.4,326.1 L688.0,326.0 L689.5,326.0 L691.1,326.0 L692.7,326.0 L694.2,326.0 L695.8,326.1 L697.3,326.1 L698.9,326.2 L700.4,326.3" fill="none" stroke="#0000ff" stroke-width="1.1" stroke-linejoin="round" stroke-opacity="0.85"/>
</g>
<rect x="79.0" y="7.3" width="621.5" height="462.1" fill="none" stroke="#262626" stroke-width="1.8"/>
<line x1="78.9" x2="78.9" y1="469.4" y2="475.7" stroke="#262626" stroke-width="1.6"/>
<text class="tk" transform="translate(78.9,497.7) scale(1,1.08)" text-anchor="middle">0</text>
<line x1="156.6" x2="156.6" y1="469.4" y2="475.7" stroke="#262626" stroke-width="1.6"/>
<text class="tk" transform="translate(156.6,497.7) scale(1,1.08)" text-anchor="middle">50</text>
<line x1="234.3" x2="234.3" y1="469.4" y2="475.7" stroke="#262626" stroke-width="1.6"/>
<text class="tk" transform="translate(234.3,497.7) scale(1,1.08)" text-anchor="middle">100</text>
<line x1="312.0" x2="312.0" y1="469.4" y2="475.7" stroke="#262626" stroke-width="1.6"/>
<text class="tk" transform="translate(312.0,497.7) scale(1,1.08)" text-anchor="middle">150</text>
<line x1="389.7" x2="389.7" y1="469.4" y2="475.7" stroke="#262626" stroke-width="1.6"/>
<text class="tk" transform="translate(389.7,497.7) scale(1,1.08)" text-anchor="middle">200</text>
<line x1="467.4" x2="467.4" y1="469.4" y2="475.7" stroke="#262626" stroke-width="1.6"/>
<text class="tk" transform="translate(467.4,497.7) scale(1,1.08)" text-anchor="middle">250</text>
<line x1="545.0" x2="545.0" y1="469.4" y2="475.7" stroke="#262626" stroke-width="1.6"/>
<text class="tk" transform="translate(545.0,497.7) scale(1,1.08)" text-anchor="middle">300</text>
<line x1="622.7" x2="622.7" y1="469.4" y2="475.7" stroke="#262626" stroke-width="1.6"/>
<text class="tk" transform="translate(622.7,497.7) scale(1,1.08)" text-anchor="middle">350</text>
<line x1="700.4" x2="700.4" y1="469.4" y2="475.7" stroke="#262626" stroke-width="1.6"/>
<text class="tk" transform="translate(700.4,497.7) scale(1,1.08)" text-anchor="middle">400</text>
<line x1="72.5" x2="79.0" y1="461.3" y2="461.3" stroke="#262626" stroke-width="1.6"/>
<text class="tk" transform="translate(64.7,469.6) scale(1,1.06)" text-anchor="end">0.0</text>
<line x1="72.5" x2="79.0" y1="366.5" y2="366.5" stroke="#262626" stroke-width="1.6"/>
<text class="tk" transform="translate(64.7,374.8) scale(1,1.06)" text-anchor="end">0.2</text>
<line x1="72.5" x2="79.0" y1="271.8" y2="271.8" stroke="#262626" stroke-width="1.6"/>
<text class="tk" transform="translate(64.7,280.1) scale(1,1.06)" text-anchor="end">0.4</text>
<line x1="72.5" x2="79.0" y1="177.0" y2="177.0" stroke="#262626" stroke-width="1.6"/>
<text class="tk" transform="translate(64.7,185.3) scale(1,1.06)" text-anchor="end">0.6</text>
<line x1="72.5" x2="79.0" y1="82.3" y2="82.3" stroke="#262626" stroke-width="1.6"/>
<text class="tk" transform="translate(64.7,90.6) scale(1,1.06)" text-anchor="end">0.8</text>
<text class="al" x="389.2" y="526.6" text-anchor="middle">Round</text>
<text class="al" transform="translate(25.0,237.5) rotate(-90)" text-anchor="middle">Ratio</text>
<rect x="541.2" y="15.6" width="151.6" height="78" rx="3.5" fill="#fff" fill-opacity="0.8" stroke="#cccccc" stroke-width="1.2"/>
<line x1="547.5" x2="583.4" y1="28.2" y2="28.2" stroke="#008000" stroke-width="1.05" stroke-opacity="0.8"/>
<text class="lg" x="597.2" y="33.2">Win Ratio</text>
<line x1="547.5" x2="583.4" y1="52.4" y2="52.4" stroke="#ff0000" stroke-width="0.95" stroke-opacity="0.8"/>
<text class="lg" x="597.2" y="57.4">Loss Ratio</text>
<line x1="547.5" x2="583.4" y1="77.1" y2="77.1" stroke="#0000ff" stroke-width="1.1" stroke-opacity="0.8"/>
<text class="lg" x="597.2" y="82.1">Draw Ratio</text>
</g>
<clipPath id="ax2"><rect x="815.6" y="7.3" width="623.0" height="461.9"/></clipPath>
<clipPath id="img2"><rect x="722" y="0" width="729.5" height="545"/></clipPath>
<g clip-path="url(#img2)">
<g clip-path="url(#ax2)">
<path d="M815.6,391.6 L816.4,375.2 L817.2,362.5 L817.9,346.3 L818.7,343.3 L819.5,339.5 L820.3,336.2 L821.1,330.4 L821.8,327.4 L822.6,321.3 L823.4,314.1 L824.2,313.1 L824.9,310.3 L825.7,310.6 L826.5,308.9 L827.3,305.4 L828.1,305.8 L828.8,304.6 L829.6,306.0 L830.4,306.6 L831.2,304.0 L832.0,302.4 L832.7,305.3 L833.5,304.2 L834.3,304.3 L835.1,304.3 L835.8,304.2 L836.6,302.5 L837.4,301.9 L838.2,300.6 L839.0,301.5 L839.7,302.3 L840.5,301.4 L841.3,300.8 L842.1,299.4 L842.9,300.3 L843.6,300.2 L844.4,299.6 L845.2,295.6 L846.0,293.3 L846.7,292.2 L848.3,291.9 L849.9,295.0 L851.4,299.0 L853.0,302.3 L854.5,300.9 L856.1,296.7 L857.6,293.3 L859.2,291.6 L860.8,291.4 L862.3,291.6 L863.9,290.0 L865.4,289.1 L867.0,290.7 L868.5,290.9 L870.1,291.3 L871.7,289.8 L873.2,287.8 L874.8,286.9 L876.3,288.0 L877.9,290.4 L879.4,290.9 L881.0,292.2 L882.6,292.9 L884.1,294.1 L885.7,293.6 L887.2,293.3 L888.8,293.2 L890.4,294.2 L891.9,295.2 L893.5,295.3 L895.0,292.6 L896.6,291.7 L898.1,291.8 L899.7,290.6 L901.3,288.7 L902.8,287.3 L904.4,286.5 L905.9,286.2 L907.5,285.1 L909.0,285.9 L910.6,285.7 L912.2,284.7 L913.7,284.0 L915.3,283.9 L916.8,283.6 L918.4,283.2 L919.9,281.7 L921.5,280.0 L923.1,279.1 L924.6,279.3 L926.2,279.2 L927.7,277.9 L929.3,276.9 L930.8,276.7 L932.4,275.6 L934.0,275.3 L935.5,274.8 L937.1,275.0 L938.6,275.1 L940.2,274.9 L941.7,274.9 L943.3,274.4 L944.9,274.4 L946.4,273.5 L948.0,273.0 L949.5,272.7 L951.1,272.3 L952.6,272.8 L954.2,273.0 L955.8,272.7 L957.3,271.9 L958.9,271.4 L960.4,271.1 L962.0,271.1 L963.5,270.9 L965.1,270.7 L966.7,270.7 L968.2,270.7 L969.8,270.0 L971.3,269.5 L972.9,269.5 L974.4,269.8 L976.0,269.6 L977.6,269.9 L979.1,269.7 L980.7,269.0 L982.2,268.8 L983.8,268.7 L985.3,268.3 L986.9,267.9 L988.5,268.5 L990.0,268.8 L991.6,267.8 L993.1,267.6 L994.7,267.4 L996.2,266.9 L997.8,267.0 L999.4,266.9 L1000.9,267.1 L1002.5,266.6 L1004.0,266.7 L1005.6,266.9 L1007.1,266.5 L1008.7,265.8 L1010.3,265.5 L1011.8,265.2 L1013.4,265.4 L1014.9,265.9 L1016.5,265.8 L1018.0,265.0 L1019.6,265.3 L1021.2,265.2 L1022.7,265.5 L1024.3,265.4 L1025.8,264.9 L1027.4,265.2 L1029.0,265.8 L1030.5,265.6 L1032.1,265.2 L1033.6,265.0 L1035.2,265.1 L1036.7,265.3 L1038.3,265.5 L1039.9,265.2 L1041.4,264.8 L1043.0,264.3 L1044.5,264.4 L1046.1,264.6 L1047.6,264.9 L1049.2,264.7 L1050.8,264.6 L1052.3,264.4 L1053.9,264.8 L1055.4,264.8 L1057.0,264.6 L1058.5,264.5 L1060.1,263.8 L1061.7,263.9 L1063.2,263.9 L1064.8,263.6 L1066.3,263.6 L1067.9,263.8 L1069.4,263.7 L1071.0,263.5 L1072.6,264.1 L1074.1,264.1 L1075.7,263.7 L1077.2,263.7 L1078.8,263.9 L1080.3,263.5 L1081.9,263.4 L1083.5,262.8 L1085.0,263.2 L1086.6,263.1 L1088.1,262.9 L1089.7,262.8 L1091.2,263.0 L1092.8,263.1 L1094.4,262.7 L1095.9,262.4 L1097.5,262.7 L1099.0,262.5 L1100.6,262.4 L1102.1,262.0 L1103.7,262.0 L1105.3,262.1 L1106.8,261.8 L1108.4,261.5 L1109.9,261.0 L1111.5,260.9 L1113.0,260.9 L1114.6,261.1 L1116.2,261.4 L1117.7,261.4 L1119.3,261.5 L1120.8,261.0 L1122.4,260.9 L1123.9,260.3 L1125.5,260.5 L1127.1,260.4 L1128.6,260.6 L1130.2,260.2 L1131.7,260.4 L1133.3,260.9 L1134.8,261.0 L1136.4,260.1 L1138.0,259.8 L1139.5,259.7 L1141.1,259.6 L1142.6,260.1 L1144.2,260.4 L1145.7,260.4 L1147.3,260.4 L1148.9,260.5 L1150.4,260.3 L1152.0,260.4 L1153.5,260.4 L1155.1,260.8 L1156.6,260.6 L1158.2,260.1 L1159.8,259.8 L1161.3,259.7 L1162.9,259.8 L1164.4,259.9 L1166.0,260.0 L1167.5,260.1 L1169.1,260.1 L1170.7,260.2 L1172.2,260.2 L1173.8,260.0 L1175.3,260.3 L1176.9,260.5 L1178.5,259.8 L1180.0,259.9 L1181.6,260.0 L1183.1,260.1 L1184.7,260.2 L1186.2,260.1 L1187.8,260.1 L1189.4,260.3 L1190.9,260.3 L1192.5,260.2 L1194.0,260.2 L1195.6,260.0 L1197.1,259.5 L1198.7,259.4 L1200.3,259.8 L1201.8,260.2 L1203.4,260.1 L1204.9,260.3 L1206.5,260.5 L1208.0,260.5 L1209.6,259.8 L1211.2,259.9 L1212.7,260.5 L1214.3,260.7 L1215.8,260.4 L1217.4,260.7 L1218.9,260.6 L1220.5,261.2 L1222.1,261.0 L1223.6,261.0 L1225.2,261.0 L1226.7,261.2 L1228.3,260.7 L1229.8,260.9 L1231.4,261.2 L1233.0,261.2 L1234.5,261.4 L1236.1,261.6 L1237.6,261.7 L1239.2,261.6 L1240.7,261.7 L1242.3,261.4 L1243.9,261.7 L1245.4,261.8 L1247.0,261.4 L1248.5,261.4 L1250.1,261.6 L1251.6,261.4 L1253.2,261.1 L1254.8,261.1 L1256.3,261.2 L1257.9,261.1 L1259.4,261.0 L1261.0,260.8 L1262.5,260.4 L1264.1,260.3 L1265.7,260.3 L1267.2,260.2 L1268.8,260.1 L1270.3,260.0 L1271.9,260.2 L1273.4,260.0 L1275.0,260.0 L1276.6,260.4 L1278.1,260.2 L1279.7,260.0 L1281.2,259.7 L1282.8,259.6 L1284.3,259.3 L1285.9,259.1 L1287.5,259.1 L1289.0,259.2 L1290.6,259.5 L1292.1,259.3 L1293.7,259.2 L1295.2,259.0 L1296.8,258.8 L1298.4,258.4 L1299.9,258.4 L1301.5,258.5 L1303.0,258.1 L1304.6,257.7 L1306.1,257.7 L1307.7,257.7 L1309.3,257.5 L1310.8,257.3 L1312.4,257.2 L1313.9,257.1 L1315.5,257.1 L1317.1,256.9 L1318.6,256.5 L1320.2,256.3 L1321.7,256.4 L1323.3,256.2 L1324.8,256.0 L1326.4,256.0 L1328.0,256.1 L1329.5,256.1 L1331.1,255.8 L1332.6,256.0 L1334.2,255.8 L1335.7,255.6 L1337.3,255.1 L1338.9,255.3 L1340.4,255.4 L1342.0,255.3 L1343.5,254.7 L1345.1,254.4 L1346.6,254.3 L1348.2,254.3 L1349.8,254.1 L1351.3,253.9 L1352.9,253.8 L1354.4,253.9 L1356.0,254.1 L1357.5,254.0 L1359.1,253.9 L1360.7,253.8 L1362.2,253.5 L1363.8,253.2 L1365.3,252.8 L1366.9,252.8 L1368.4,253.3 L1370.0,253.2 L1371.6,252.9 L1373.1,252.3 L1374.7,252.1 L1376.2,252.1 L1377.8,252.5 L1379.3,252.5 L1380.9,252.1 L1382.5,251.8 L1384.0,251.5 L1385.6,251.5 L1387.1,251.7 L1388.7,251.8 L1390.2,251.6 L1391.8,251.6 L1393.4,251.9 L1394.9,251.9 L1396.5,251.7 L1398.0,251.9 L1399.6,252.0 L1401.1,252.0 L1402.7,252.1 L1404.3,252.0 L1405.8,251.9 L1407.4,252.0 L1408.9,251.9 L1410.5,252.3 L1412.0,252.5 L1413.6,252.5 L1415.2,252.3 L1416.7,252.0 L1418.3,252.0 L1419.8,252.1 L1421.4,252.5 L1422.9,252.0 L1424.5,252.1 L1426.1,252.4 L1427.6,252.4 L1429.2,252.5 L1430.7,252.4 L1432.3,252.6 L1433.8,252.3 L1435.4,252.5 L1437.0,252.7 L1438.5,253.0 L1438.5,286.8 L1437.0,286.6 L1435.4,286.9 L1433.8,286.7 L1432.3,286.8 L1430.7,286.5 L1429.2,286.5 L1427.6,286.5 L1426.1,286.5 L1424.5,286.4 L1422.9,286.6 L1421.4,286.9 L1419.8,286.4 L1418.3,286.4 L1416.7,286.4 L1415.2,286.7 L1413.6,286.8 L1412.0,286.9 L1410.5,286.8 L1408.9,286.6 L1407.4,286.3 L1405.8,286.3 L1404.3,286.8 L1402.7,287.0 L1401.1,286.8 L1399.6,286.6 L1398.0,286.7 L1396.5,286.6 L1394.9,286.6 L1393.4,286.7 L1391.8,286.9 L1390.2,287.1 L1388.7,287.3 L1387.1,287.3 L1385.6,286.9 L1384.0,286.8 L1382.5,287.1 L1380.9,287.3 L1379.3,287.1 L1377.8,286.8 L1376.2,286.7 L1374.7,286.8 L1373.1,286.9 L1371.6,287.0 L1370.0,287.3 L1368.4,287.3 L1366.9,286.9 L1365.3,287.0 L1363.8,286.9 L1362.2,286.7 L1360.7,286.7 L1359.1,287.1 L1357.5,286.8 L1356.0,286.9 L1354.4,286.9 L1352.9,286.7 L1351.3,286.9 L1349.8,287.1 L1348.2,287.3 L1346.6,287.2 L1345.1,286.8 L1343.5,286.9 L1342.0,287.1 L1340.4,287.1 L1338.9,287.4 L1337.3,287.4 L1335.7,287.6 L1334.2,287.7 L1332.6,287.7 L1331.1,287.4 L1329.5,288.0 L1328.0,288.3 L1326.4,288.1 L1324.8,287.9 L1323.3,287.7 L1321.7,287.8 L1320.2,288.2 L1318.6,288.4 L1317.1,288.6 L1315.5,288.8 L1313.9,288.7 L1312.4,288.7 L1310.8,288.5 L1309.3,288.4 L1307.7,288.7 L1306.1,288.8 L1304.6,288.8 L1303.0,288.9 L1301.5,289.3 L1299.9,289.4 L1298.4,289.7 L1296.8,289.6 L1295.2,289.2 L1293.7,289.7 L1292.1,289.6 L1290.6,289.7 L1289.0,289.8 L1287.5,289.8 L1285.9,289.9 L1284.3,290.0 L1282.8,290.0 L1281.2,289.9 L1279.7,290.3 L1278.1,290.6 L1276.6,290.7 L1275.0,290.8 L1273.4,291.0 L1271.9,291.1 L1270.3,291.5 L1268.8,291.4 L1267.2,291.4 L1265.7,291.6 L1264.1,291.7 L1262.5,291.7 L1261.0,291.9 L1259.4,292.2 L1257.9,292.5 L1256.3,292.7 L1254.8,292.6 L1253.2,292.8 L1251.6,293.0 L1250.1,293.2 L1248.5,293.7 L1247.0,293.8 L1245.4,294.1 L1243.9,294.2 L1242.3,294.1 L1240.7,294.2 L1239.2,294.1 L1237.6,294.3 L1236.1,294.4 L1234.5,294.8 L1233.0,294.9 L1231.4,294.8 L1229.8,294.7 L1228.3,294.7 L1226.7,295.1 L1225.2,295.2 L1223.6,295.3 L1222.1,295.1 L1220.5,295.5 L1218.9,295.3 L1217.4,295.6 L1215.8,295.4 L1214.3,295.7 L1212.7,295.7 L1211.2,296.0 L1209.6,296.2 L1208.0,296.4 L1206.5,296.4 L1204.9,296.4 L1203.4,296.3 L1201.8,296.4 L1200.3,296.6 L1198.7,296.7 L1197.1,296.5 L1195.6,296.8 L1194.0,297.2 L1192.5,297.2 L1190.9,297.2 L1189.4,297.3 L1187.8,297.0 L1186.2,296.8 L1184.7,297.3 L1183.1,297.5 L1181.6,297.2 L1180.0,297.5 L1178.5,297.6 L1176.9,297.9 L1175.3,298.0 L1173.8,297.8 L1172.2,297.5 L1170.7,297.7 L1169.1,297.8 L1167.5,297.7 L1166.0,297.8 L1164.4,297.9 L1162.9,297.8 L1161.3,297.6 L1159.8,297.8 L1158.2,298.6 L1156.6,298.9 L1155.1,298.4 L1153.5,298.4 L1152.0,298.5 L1150.4,298.1 L1148.9,298.3 L1147.3,298.4 L1145.7,298.6 L1144.2,298.0 L1142.6,297.8 L1141.1,297.9 L1139.5,298.1 L1138.0,298.0 L1136.4,297.9 L1134.8,298.3 L1133.3,298.3 L1131.7,298.1 L1130.2,298.3 L1128.6,299.0 L1127.1,298.6 L1125.5,298.6 L1123.9,298.4 L1122.4,299.1 L1120.8,299.3 L1119.3,299.3 L1117.7,299.3 L1116.2,299.9 L1114.6,299.7 L1113.0,299.6 L1111.5,299.4 L1109.9,299.2 L1108.4,299.6 L1106.8,299.9 L1105.3,300.3 L1103.7,300.5 L1102.1,300.5 L1100.6,301.2 L1099.0,301.3 L1097.5,301.2 L1095.9,301.0 L1094.4,301.3 L1092.8,301.5 L1091.2,301.3 L1089.7,301.3 L1088.1,302.1 L1086.6,302.3 L1085.0,302.4 L1083.5,302.8 L1081.9,303.5 L1080.3,303.4 L1078.8,303.5 L1077.2,304.0 L1075.7,304.6 L1074.1,304.8 L1072.6,305.1 L1071.0,304.8 L1069.4,304.6 L1067.9,304.6 L1066.3,305.0 L1064.8,305.6 L1063.2,306.0 L1061.7,306.1 L1060.1,305.7 L1058.5,306.5 L1057.0,307.3 L1055.4,307.9 L1053.9,308.1 L1052.3,308.0 L1050.8,308.0 L1049.2,308.1 L1047.6,308.7 L1046.1,308.7 L1044.5,309.0 L1043.0,308.8 L1041.4,308.7 L1039.9,308.6 L1038.3,309.2 L1036.7,309.1 L1035.2,309.2 L1033.6,309.4 L1032.1,309.6 L1030.5,310.2 L1029.0,310.4 L1027.4,310.2 L1025.8,310.9 L1024.3,311.4 L1022.7,311.7 L1021.2,312.0 L1019.6,312.7 L1018.0,313.1 L1016.5,313.7 L1014.9,313.9 L1013.4,314.1 L1011.8,314.0 L1010.3,314.3 L1008.7,314.7 L1007.1,315.3 L1005.6,315.4 L1004.0,316.0 L1002.5,316.2 L1000.9,316.0 L999.4,316.1 L997.8,316.5 L996.2,316.6 L994.7,316.7 L993.1,316.1 L991.6,316.6 L990.0,317.4 L988.5,317.6 L986.9,317.7 L985.3,317.6 L983.8,317.7 L982.2,317.5 L980.7,317.2 L979.1,317.5 L977.6,317.8 L976.0,318.2 L974.4,318.8 L972.9,317.7 L971.3,318.0 L969.8,318.5 L968.2,318.9 L966.7,319.6 L965.1,319.3 L963.5,318.5 L962.0,318.8 L960.4,319.4 L958.9,319.8 L957.3,320.1 L955.8,320.3 L954.2,320.4 L952.6,320.5 L951.1,320.8 L949.5,321.4 L948.0,321.4 L946.4,322.0 L944.9,322.8 L943.3,322.5 L941.7,322.5 L940.2,322.4 L938.6,323.1 L937.1,323.4 L935.5,323.3 L934.0,323.4 L932.4,322.8 L930.8,323.1 L929.3,323.4 L927.7,324.2 L926.2,323.7 L924.6,324.4 L923.1,325.4 L921.5,325.6 L919.9,326.2 L918.4,326.6 L916.8,326.3 L915.3,326.1 L913.7,327.0 L912.2,327.8 L910.6,327.6 L909.0,327.4 L907.5,325.5 L905.9,325.3 L904.4,325.3 L902.8,325.7 L901.3,326.9 L899.7,327.1 L898.1,326.2 L896.6,325.2 L895.0,324.5 L893.5,323.8 L891.9,324.1 L890.4,324.8 L888.8,324.1 L887.2,325.6 L885.7,326.2 L884.1,326.5 L882.6,326.7 L881.0,325.9 L879.4,324.8 L877.9,326.0 L876.3,324.9 L874.8,323.1 L873.2,322.8 L871.7,324.1 L870.1,323.2 L868.5,321.0 L867.0,320.6 L865.4,318.7 L863.9,318.4 L862.3,319.0 L860.8,319.0 L859.2,317.1 L857.6,317.1 L856.1,319.0 L854.5,321.6 L853.0,323.2 L851.4,323.5 L849.9,322.5 L848.3,320.8 L846.7,320.5 L846.0,322.2 L845.2,321.2 L844.4,322.6 L843.6,322.9 L842.9,323.0 L842.1,323.4 L841.3,326.9 L840.5,327.2 L839.7,323.5 L839.0,321.7 L838.2,323.3 L837.4,324.1 L836.6,322.4 L835.8,320.4 L835.1,318.5 L834.3,320.7 L833.5,324.5 L832.7,327.3 L832.0,327.9 L831.2,331.1 L830.4,330.9 L829.6,331.8 L828.8,325.7 L828.1,325.9 L827.3,332.6 L826.5,335.2 L825.7,336.2 L824.9,336.8 L824.2,349.8 L823.4,361.9 L822.6,372.8 L821.8,379.5 L821.1,387.2 L820.3,394.9 L819.5,397.1 L818.7,401.8 L817.9,405.9 L817.2,410.8 L816.4,415.5 L815.6,420.4Z" fill="#008000" fill-opacity="0.3" stroke="#008000" stroke-opacity="0.35" stroke-width="1.1" stroke-linejoin="round"/>
<path d="M815.6,388.7 L816.4,388.9 L817.2,393.1 L817.9,399.5 L818.7,401.4 L819.5,409.0 L820.3,411.5 L821.1,410.3 L821.8,412.9 L822.6,411.1 L823.4,407.9 L824.2,405.2 L824.9,400.7 L825.7,404.8 L826.5,406.6 L827.3,408.2 L828.1,409.1 L828.8,408.9 L829.6,409.7 L830.4,408.7 L831.2,405.3 L832.0,403.7 L832.7,404.9 L833.5,403.3 L834.3,399.7 L835.1,398.6 L835.8,399.3 L836.6,400.2 L837.4,399.9 L838.2,400.5 L839.0,397.2 L839.7,394.7 L840.5,393.2 L841.3,395.3 L842.1,394.5 L842.9,393.6 L843.6,391.2 L844.4,390.5 L845.2,390.0 L846.0,391.7 L846.7,391.1 L848.3,390.8 L849.9,391.4 L851.4,390.7 L853.0,391.7 L854.5,390.8 L856.1,389.4 L857.6,388.7 L859.2,390.0 L860.8,391.6 L862.3,391.2 L863.9,391.0 L865.4,391.7 L867.0,392.1 L868.5,393.7 L870.1,393.9 L871.7,394.8 L873.2,394.3 L874.8,394.0 L876.3,394.3 L877.9,394.3 L879.4,394.0 L881.0,392.4 L882.6,393.9 L884.1,393.4 L885.7,393.4 L887.2,392.7 L888.8,392.7 L890.4,393.2 L891.9,393.5 L893.5,394.2 L895.0,393.3 L896.6,391.3 L898.1,389.7 L899.7,389.5 L901.3,389.7 L902.8,389.1 L904.4,388.5 L905.9,387.0 L907.5,385.7 L909.0,385.6 L910.6,385.5 L912.2,385.6 L913.7,385.1 L915.3,384.8 L916.8,383.9 L918.4,383.6 L919.9,383.5 L921.5,383.7 L923.1,383.9 L924.6,383.4 L926.2,382.9 L927.7,382.7 L929.3,382.7 L930.8,381.6 L932.4,381.9 L934.0,382.0 L935.5,381.9 L937.1,382.0 L938.6,381.3 L940.2,381.5 L941.7,382.2 L943.3,382.7 L944.9,383.3 L946.4,382.2 L948.0,382.1 L949.5,382.7 L951.1,382.9 L952.6,382.4 L954.2,382.8 L955.8,383.0 L957.3,383.5 L958.9,384.1 L960.4,384.2 L962.0,383.9 L963.5,384.2 L965.1,385.0 L966.7,385.8 L968.2,385.8 L969.8,385.8 L971.3,386.3 L972.9,386.3 L974.4,386.4 L976.0,386.1 L977.6,386.5 L979.1,386.6 L980.7,386.9 L982.2,387.1 L983.8,386.5 L985.3,386.1 L986.9,385.7 L988.5,385.9 L990.0,385.8 L991.6,385.6 L993.1,385.6 L994.7,385.0 L996.2,384.0 L997.8,383.6 L999.4,383.0 L1000.9,382.7 L1002.5,382.3 L1004.0,382.1 L1005.6,381.3 L1007.1,381.1 L1008.7,380.5 L1010.3,380.4 L1011.8,381.5 L1013.4,381.7 L1014.9,381.4 L1016.5,381.1 L1018.0,381.4 L1019.6,381.5 L1021.2,382.0 L1022.7,382.2 L1024.3,382.2 L1025.8,381.8 L1027.4,382.0 L1029.0,381.9 L1030.5,381.3 L1032.1,380.3 L1033.6,379.6 L1035.2,379.7 L1036.7,379.9 L1038.3,378.7 L1039.9,377.9 L1041.4,378.0 L1043.0,377.4 L1044.5,376.8 L1046.1,375.9 L1047.6,375.4 L1049.2,375.2 L1050.8,375.7 L1052.3,375.8 L1053.9,375.9 L1055.4,376.2 L1057.0,376.2 L1058.5,376.3 L1060.1,376.5 L1061.7,376.7 L1063.2,377.3 L1064.8,377.6 L1066.3,377.9 L1067.9,377.7 L1069.4,377.2 L1071.0,377.4 L1072.6,378.0 L1074.1,378.2 L1075.7,377.5 L1077.2,377.3 L1078.8,377.5 L1080.3,377.6 L1081.9,377.4 L1083.5,377.4 L1085.0,377.1 L1086.6,377.0 L1088.1,376.9 L1089.7,376.6 L1091.2,376.5 L1092.8,376.4 L1094.4,376.5 L1095.9,376.6 L1097.5,376.5 L1099.0,376.3 L1100.6,376.2 L1102.1,376.3 L1103.7,375.9 L1105.3,375.6 L1106.8,375.5 L1108.4,375.6 L1109.9,375.6 L1111.5,376.0 L1113.0,375.8 L1114.6,375.2 L1116.2,374.6 L1117.7,375.2 L1119.3,375.5 L1120.8,375.5 L1122.4,375.4 L1123.9,375.2 L1125.5,375.0 L1127.1,375.0 L1128.6,374.8 L1130.2,374.6 L1131.7,374.3 L1133.3,374.6 L1134.8,374.3 L1136.4,374.4 L1138.0,374.2 L1139.5,374.2 L1141.1,374.0 L1142.6,373.7 L1144.2,373.9 L1145.7,373.6 L1147.3,373.6 L1148.9,373.4 L1150.4,373.2 L1152.0,373.1 L1153.5,373.1 L1155.1,373.1 L1156.6,373.4 L1158.2,372.9 L1159.8,373.1 L1161.3,373.4 L1162.9,373.2 L1164.4,373.1 L1166.0,373.3 L1167.5,373.7 L1169.1,373.9 L1170.7,373.9 L1172.2,373.8 L1173.8,374.1 L1175.3,374.4 L1176.9,374.5 L1178.5,374.4 L1180.0,374.0 L1181.6,374.2 L1183.1,374.4 L1184.7,374.8 L1186.2,375.2 L1187.8,375.5 L1189.4,375.5 L1190.9,375.2 L1192.5,375.7 L1194.0,376.1 L1195.6,376.1 L1197.1,376.1 L1198.7,375.8 L1200.3,375.9 L1201.8,375.9 L1203.4,376.3 L1204.9,376.6 L1206.5,376.6 L1208.0,376.4 L1209.6,376.3 L1211.2,376.3 L1212.7,376.4 L1214.3,376.5 L1215.8,376.5 L1217.4,376.7 L1218.9,376.4 L1220.5,376.2 L1222.1,376.4 L1223.6,376.7 L1225.2,376.7 L1226.7,376.4 L1228.3,376.4 L1229.8,376.5 L1231.4,376.9 L1233.0,376.5 L1234.5,376.1 L1236.1,376.0 L1237.6,376.4 L1239.2,376.6 L1240.7,376.7 L1242.3,376.4 L1243.9,376.5 L1245.4,376.4 L1247.0,376.5 L1248.5,376.6 L1250.1,376.5 L1251.6,376.3 L1253.2,376.2 L1254.8,376.4 L1256.3,376.4 L1257.9,376.6 L1259.4,376.6 L1261.0,376.8 L1262.5,376.5 L1264.1,376.2 L1265.7,376.1 L1267.2,376.3 L1268.8,376.5 L1270.3,376.5 L1271.9,376.2 L1273.4,376.0 L1275.0,376.1 L1276.6,376.4 L1278.1,376.3 L1279.7,376.4 L1281.2,376.6 L1282.8,376.4 L1284.3,376.1 L1285.9,376.2 L1287.5,376.2 L1289.0,376.0 L1290.6,375.9 L1292.1,376.1 L1293.7,376.3 L1295.2,376.3 L1296.8,376.4 L1298.4,376.6 L1299.9,376.3 L1301.5,376.1 L1303.0,375.9 L1304.6,376.0 L1306.1,376.1 L1307.7,376.1 L1309.3,375.9 L1310.8,375.6 L1312.4,375.8 L1313.9,376.0 L1315.5,376.0 L1317.1,375.9 L1318.6,375.9 L1320.2,375.6 L1321.7,375.4 L1323.3,375.5 L1324.8,375.7 L1326.4,375.7 L1328.0,375.8 L1329.5,375.8 L1331.1,375.6 L1332.6,375.9 L1334.2,376.2 L1335.7,376.1 L1337.3,375.9 L1338.9,375.9 L1340.4,375.9 L1342.0,375.9 L1343.5,376.2 L1345.1,376.3 L1346.6,376.5 L1348.2,376.1 L1349.8,375.9 L1351.3,376.1 L1352.9,376.0 L1354.4,376.0 L1356.0,376.1 L1357.5,376.3 L1359.1,376.5 L1360.7,376.6 L1362.2,376.5 L1363.8,376.3 L1365.3,376.3 L1366.9,376.5 L1368.4,376.4 L1370.0,376.3 L1371.6,376.5 L1373.1,376.6 L1374.7,376.4 L1376.2,376.5 L1377.8,376.5 L1379.3,376.5 L1380.9,376.5 L1382.5,376.7 L1384.0,376.9 L1385.6,376.6 L1387.1,376.7 L1388.7,376.7 L1390.2,376.7 L1391.8,376.5 L1393.4,376.3 L1394.9,376.4 L1396.5,376.4 L1398.0,376.6 L1399.6,376.7 L1401.1,376.5 L1402.7,376.7 L1404.3,376.8 L1405.8,376.9 L1407.4,377.0 L1408.9,376.6 L1410.5,376.7 L1412.0,376.9 L1413.6,376.8 L1415.2,376.7 L1416.7,377.0 L1418.3,377.1 L1419.8,376.9 L1421.4,376.8 L1422.9,376.7 L1424.5,377.0 L1426.1,377.3 L1427.6,377.1 L1429.2,377.2 L1430.7,376.9 L1432.3,376.7 L1433.8,376.7 L1435.4,377.0 L1437.0,377.0 L1438.5,376.8 L1438.5,403.6 L1437.0,403.6 L1435.4,403.4 L1433.8,403.2 L1432.3,403.6 L1430.7,403.4 L1429.2,403.5 L1427.6,403.4 L1426.1,403.3 L1424.5,403.3 L1422.9,403.4 L1421.4,403.2 L1419.8,403.2 L1418.3,403.3 L1416.7,403.2 L1415.2,403.3 L1413.6,403.1 L1412.0,402.9 L1410.5,402.6 L1408.9,402.7 L1407.4,403.0 L1405.8,402.9 L1404.3,402.8 L1402.7,402.7 L1401.1,402.6 L1399.6,402.6 L1398.0,402.6 L1396.5,402.3 L1394.9,402.5 L1393.4,402.5 L1391.8,402.3 L1390.2,402.2 L1388.7,402.2 L1387.1,402.3 L1385.6,402.5 L1384.0,402.4 L1382.5,402.2 L1380.9,402.3 L1379.3,402.2 L1377.8,402.1 L1376.2,402.3 L1374.7,402.3 L1373.1,402.0 L1371.6,401.8 L1370.0,401.9 L1368.4,401.9 L1366.9,401.9 L1365.3,401.6 L1363.8,401.5 L1362.2,401.4 L1360.7,401.5 L1359.1,401.5 L1357.5,401.3 L1356.0,401.3 L1354.4,401.4 L1352.9,401.2 L1351.3,401.1 L1349.8,401.0 L1348.2,400.9 L1346.6,401.0 L1345.1,401.3 L1343.5,401.3 L1342.0,401.0 L1340.4,400.7 L1338.9,400.7 L1337.3,401.0 L1335.7,400.9 L1334.2,400.9 L1332.6,401.0 L1331.1,400.7 L1329.5,400.6 L1328.0,400.5 L1326.4,400.5 L1324.8,400.4 L1323.3,400.5 L1321.7,400.5 L1320.2,400.3 L1318.6,400.4 L1317.1,400.2 L1315.5,400.2 L1313.9,400.3 L1312.4,400.2 L1310.8,399.7 L1309.3,399.6 L1307.7,399.8 L1306.1,400.0 L1304.6,399.9 L1303.0,399.6 L1301.5,399.6 L1299.9,399.6 L1298.4,399.8 L1296.8,399.7 L1295.2,399.4 L1293.7,399.5 L1292.1,399.5 L1290.6,399.2 L1289.0,399.0 L1287.5,399.0 L1285.9,399.1 L1284.3,399.0 L1282.8,399.1 L1281.2,399.0 L1279.7,398.8 L1278.1,398.6 L1276.6,398.5 L1275.0,398.5 L1273.4,398.5 L1271.9,398.5 L1270.3,398.3 L1268.8,398.2 L1267.2,398.2 L1265.7,398.2 L1264.1,397.9 L1262.5,397.7 L1261.0,397.7 L1259.4,397.7 L1257.9,397.6 L1256.3,397.5 L1254.8,397.7 L1253.2,397.5 L1251.6,397.3 L1250.1,397.2 L1248.5,397.3 L1247.0,397.3 L1245.4,397.1 L1243.9,397.1 L1242.3,397.0 L1240.7,397.3 L1239.2,397.1 L1237.6,397.2 L1236.1,397.2 L1234.5,397.0 L1233.0,397.0 L1231.4,397.3 L1229.8,397.2 L1228.3,397.3 L1226.7,397.2 L1225.2,397.3 L1223.6,397.0 L1222.1,397.2 L1220.5,397.5 L1218.9,397.5 L1217.4,397.7 L1215.8,397.5 L1214.3,397.4 L1212.7,397.4 L1211.2,397.1 L1209.6,397.1 L1208.0,397.4 L1206.5,397.4 L1204.9,397.4 L1203.4,397.5 L1201.8,397.2 L1200.3,397.4 L1198.7,397.9 L1197.1,398.6 L1195.6,398.7 L1194.0,398.5 L1192.5,398.4 L1190.9,398.3 L1189.4,398.1 L1187.8,398.3 L1186.2,398.4 L1184.7,398.4 L1183.1,398.4 L1181.6,398.6 L1180.0,398.5 L1178.5,398.5 L1176.9,398.8 L1175.3,398.9 L1173.8,399.1 L1172.2,399.2 L1170.7,399.2 L1169.1,399.0 L1167.5,399.0 L1166.0,398.8 L1164.4,399.0 L1162.9,399.4 L1161.3,399.6 L1159.8,399.6 L1158.2,399.4 L1156.6,399.5 L1155.1,399.7 L1153.5,400.0 L1152.0,399.7 L1150.4,399.5 L1148.9,399.4 L1147.3,399.6 L1145.7,399.8 L1144.2,399.7 L1142.6,399.3 L1141.1,399.5 L1139.5,399.9 L1138.0,399.9 L1136.4,399.9 L1134.8,399.7 L1133.3,399.7 L1131.7,399.4 L1130.2,399.6 L1128.6,399.7 L1127.1,399.8 L1125.5,400.0 L1123.9,400.0 L1122.4,400.3 L1120.8,400.8 L1119.3,400.6 L1117.7,400.5 L1116.2,400.2 L1114.6,400.7 L1113.0,400.9 L1111.5,401.0 L1109.9,400.5 L1108.4,400.3 L1106.8,400.7 L1105.3,400.9 L1103.7,400.6 L1102.1,400.8 L1100.6,401.1 L1099.0,401.1 L1097.5,400.9 L1095.9,401.0 L1094.4,401.1 L1092.8,400.9 L1091.2,401.4 L1089.7,402.0 L1088.1,402.2 L1086.6,402.1 L1085.0,401.7 L1083.5,402.2 L1081.9,402.2 L1080.3,402.3 L1078.8,402.4 L1077.2,402.1 L1075.7,402.4 L1074.1,402.2 L1072.6,402.1 L1071.0,402.2 L1069.4,402.3 L1067.9,402.4 L1066.3,402.1 L1064.8,402.0 L1063.2,402.2 L1061.7,401.9 L1060.1,401.9 L1058.5,401.7 L1057.0,401.4 L1055.4,401.8 L1053.9,401.8 L1052.3,401.4 L1050.8,401.2 L1049.2,401.1 L1047.6,400.8 L1046.1,400.6 L1044.5,400.5 L1043.0,400.5 L1041.4,400.9 L1039.9,401.0 L1038.3,401.4 L1036.7,401.2 L1035.2,400.8 L1033.6,400.7 L1032.1,400.6 L1030.5,400.8 L1029.0,400.9 L1027.4,401.2 L1025.8,401.1 L1024.3,401.3 L1022.7,401.6 L1021.2,402.0 L1019.6,401.8 L1018.0,401.6 L1016.5,402.0 L1014.9,402.6 L1013.4,402.3 L1011.8,402.0 L1010.3,401.4 L1008.7,401.5 L1007.1,401.5 L1005.6,401.8 L1004.0,402.2 L1002.5,402.4 L1000.9,402.3 L999.4,401.8 L997.8,402.0 L996.2,401.5 L994.7,402.3 L993.1,402.6 L991.6,402.5 L990.0,402.3 L988.5,402.2 L986.9,402.1 L985.3,402.3 L983.8,402.3 L982.2,402.8 L980.7,403.0 L979.1,402.3 L977.6,402.2 L976.0,402.4 L974.4,402.6 L972.9,402.3 L971.3,402.3 L969.8,403.0 L968.2,403.5 L966.7,403.7 L965.1,403.9 L963.5,403.4 L962.0,403.6 L960.4,404.7 L958.9,405.1 L957.3,405.6 L955.8,404.9 L954.2,404.4 L952.6,405.1 L951.1,405.7 L949.5,405.2 L948.0,405.3 L946.4,405.3 L944.9,406.0 L943.3,406.2 L941.7,406.3 L940.2,405.8 L938.6,405.5 L937.1,406.1 L935.5,405.4 L934.0,405.0 L932.4,405.8 L930.8,406.7 L929.3,407.7 L927.7,407.2 L926.2,407.2 L924.6,406.6 L923.1,407.0 L921.5,407.8 L919.9,407.1 L918.4,406.3 L916.8,406.0 L915.3,406.0 L913.7,405.5 L912.2,405.9 L910.6,406.8 L909.0,406.0 L907.5,405.0 L905.9,405.5 L904.4,406.3 L902.8,407.2 L901.3,408.0 L899.7,407.4 L898.1,407.3 L896.6,408.3 L895.0,409.4 L893.5,409.7 L891.9,411.0 L890.4,411.9 L888.8,412.2 L887.2,414.3 L885.7,416.2 L884.1,416.1 L882.6,417.8 L881.0,418.6 L879.4,420.0 L877.9,420.8 L876.3,422.9 L874.8,423.7 L873.2,421.9 L871.7,420.4 L870.1,419.6 L868.5,418.8 L867.0,417.7 L865.4,418.3 L863.9,418.3 L862.3,417.7 L860.8,417.6 L859.2,416.3 L857.6,416.4 L856.1,417.5 L854.5,418.5 L853.0,422.1 L851.4,423.5 L849.9,425.1 L848.3,425.8 L846.7,425.6 L846.0,424.8 L845.2,423.6 L844.4,425.8 L843.6,425.3 L842.9,426.9 L842.1,426.9 L841.3,427.5 L840.5,428.3 L839.7,430.5 L839.0,431.7 L838.2,433.7 L837.4,434.7 L836.6,436.5 L835.8,435.6 L835.1,437.4 L834.3,439.4 L833.5,441.1 L832.7,441.1 L832.0,439.5 L831.2,441.8 L830.4,444.2 L829.6,447.7 L828.8,451.8 L828.1,451.7 L827.3,447.3 L826.5,443.6 L825.7,443.0 L824.9,440.4 L824.2,441.4 L823.4,440.9 L822.6,439.9 L821.8,438.1 L821.1,435.3 L820.3,436.3 L819.5,439.7 L818.7,439.9 L817.9,440.6 L817.2,440.8 L816.4,442.7 L815.6,440.8Z" fill="#ff0000" fill-opacity="0.3" stroke="#ff0000" stroke-opacity="0.35" stroke-width="1.1" stroke-linejoin="round"/>
<path d="M815.6,24.5 L816.4,43.3 L817.2,59.1 L817.9,76.5 L818.7,93.5 L819.5,105.7 L820.3,112.9 L821.1,108.8 L821.8,107.3 L822.6,100.8 L823.4,103.8 L824.2,114.1 L824.9,123.2 L825.7,132.5 L826.5,140.7 L827.3,145.3 L828.1,146.0 L828.8,152.6 L829.6,152.4 L830.4,155.1 L831.2,157.9 L832.0,163.3 L832.7,166.7 L833.5,168.0 L834.3,168.2 L835.1,170.4 L835.8,173.1 L836.6,177.3 L837.4,178.3 L838.2,181.1 L839.0,182.5 L839.7,182.8 L840.5,181.1 L841.3,182.6 L842.1,183.6 L842.9,183.4 L843.6,183.3 L844.4,186.0 L845.2,187.1 L846.0,185.2 L846.7,185.2 L848.3,186.7 L849.9,188.0 L851.4,188.0 L853.0,191.5 L854.5,192.9 L856.1,192.8 L857.6,192.1 L859.2,191.8 L860.8,193.0 L862.3,194.0 L863.9,194.7 L865.4,196.3 L867.0,196.5 L868.5,197.2 L870.1,199.4 L871.7,196.1 L873.2,193.9 L874.8,191.7 L876.3,189.0 L877.9,186.9 L879.4,186.6 L881.0,188.5 L882.6,188.9 L884.1,187.2 L885.7,187.7 L887.2,187.4 L888.8,187.3 L890.4,187.3 L891.9,188.4 L893.5,187.8 L895.0,187.9 L896.6,188.7 L898.1,190.3 L899.7,191.4 L901.3,190.9 L902.8,191.7 L904.4,193.0 L905.9,193.9 L907.5,194.6 L909.0,195.8 L910.6,197.0 L912.2,196.6 L913.7,196.2 L915.3,197.0 L916.8,197.7 L918.4,197.4 L919.9,197.3 L921.5,198.0 L923.1,197.8 L924.6,198.0 L926.2,197.4 L927.7,196.7 L929.3,198.2 L930.8,199.6 L932.4,199.5 L934.0,198.3 L935.5,198.3 L937.1,198.0 L938.6,197.4 L940.2,198.0 L941.7,199.4 L943.3,200.3 L944.9,200.7 L946.4,201.3 L948.0,202.0 L949.5,202.5 L951.1,204.2 L952.6,204.7 L954.2,205.2 L955.8,206.0 L957.3,206.8 L958.9,206.5 L960.4,207.0 L962.0,207.5 L963.5,208.5 L965.1,209.0 L966.7,209.5 L968.2,209.9 L969.8,210.4 L971.3,211.0 L972.9,211.4 L974.4,210.5 L976.0,210.6 L977.6,210.8 L979.1,211.1 L980.7,211.4 L982.2,210.4 L983.8,210.2 L985.3,210.3 L986.9,210.4 L988.5,210.6 L990.0,210.5 L991.6,210.1 L993.1,209.3 L994.7,209.6 L996.2,209.8 L997.8,210.6 L999.4,210.9 L1000.9,212.1 L1002.5,212.0 L1004.0,212.1 L1005.6,212.2 L1007.1,213.1 L1008.7,213.3 L1010.3,213.6 L1011.8,213.4 L1013.4,213.5 L1014.9,213.8 L1016.5,214.1 L1018.0,214.2 L1019.6,214.3 L1021.2,214.7 L1022.7,214.7 L1024.3,215.6 L1025.8,216.7 L1027.4,216.8 L1029.0,216.9 L1030.5,216.6 L1032.1,216.6 L1033.6,217.1 L1035.2,217.8 L1036.7,218.5 L1038.3,218.9 L1039.9,219.2 L1041.4,219.0 L1043.0,219.2 L1044.5,219.4 L1046.1,219.5 L1047.6,219.5 L1049.2,219.7 L1050.8,219.9 L1052.3,219.6 L1053.9,220.0 L1055.4,220.4 L1057.0,220.5 L1058.5,220.0 L1060.1,219.9 L1061.7,220.4 L1063.2,220.8 L1064.8,220.6 L1066.3,220.8 L1067.9,220.7 L1069.4,220.6 L1071.0,220.5 L1072.6,220.7 L1074.1,220.6 L1075.7,221.0 L1077.2,221.4 L1078.8,221.2 L1080.3,221.0 L1081.9,220.9 L1083.5,221.4 L1085.0,221.7 L1086.6,221.3 L1088.1,221.3 L1089.7,221.4 L1091.2,221.6 L1092.8,221.7 L1094.4,221.9 L1095.9,221.8 L1097.5,222.3 L1099.0,221.8 L1100.6,222.2 L1102.1,221.9 L1103.7,221.7 L1105.3,222.1 L1106.8,222.7 L1108.4,222.8 L1109.9,222.3 L1111.5,222.5 L1113.0,223.0 L1114.6,223.0 L1116.2,223.1 L1117.7,223.0 L1119.3,222.9 L1120.8,222.8 L1122.4,223.6 L1123.9,223.5 L1125.5,223.3 L1127.1,223.3 L1128.6,223.6 L1130.2,223.6 L1131.7,223.5 L1133.3,223.6 L1134.8,223.8 L1136.4,223.7 L1138.0,223.9 L1139.5,224.2 L1141.1,224.1 L1142.6,223.6 L1144.2,223.4 L1145.7,223.3 L1147.3,223.2 L1148.9,223.4 L1150.4,223.3 L1152.0,223.6 L1153.5,223.6 L1155.1,224.0 L1156.6,224.2 L1158.2,224.2 L1159.8,223.8 L1161.3,223.6 L1162.9,223.4 L1164.4,223.6 L1166.0,223.7 L1167.5,224.2 L1169.1,224.5 L1170.7,224.6 L1172.2,224.4 L1173.8,224.5 L1175.3,224.7 L1176.9,224.7 L1178.5,224.7 L1180.0,225.0 L1181.6,224.7 L1183.1,224.4 L1184.7,224.4 L1186.2,224.7 L1187.8,225.1 L1189.4,225.0 L1190.9,225.0 L1192.5,225.3 L1194.0,225.3 L1195.6,225.3 L1197.1,225.3 L1198.7,225.3 L1200.3,225.5 L1201.8,225.6 L1203.4,225.8 L1204.9,225.6 L1206.5,225.8 L1208.0,225.6 L1209.6,225.6 L1211.2,225.9 L1212.7,226.3 L1214.3,226.0 L1215.8,226.2 L1217.4,226.6 L1218.9,227.3 L1220.5,227.2 L1222.1,227.0 L1223.6,227.0 L1225.2,226.9 L1226.7,227.1 L1228.3,227.6 L1229.8,227.6 L1231.4,227.7 L1233.0,228.2 L1234.5,228.5 L1236.1,228.6 L1237.6,228.5 L1239.2,228.5 L1240.7,228.5 L1242.3,228.9 L1243.9,229.0 L1245.4,228.8 L1247.0,229.1 L1248.5,229.3 L1250.1,229.0 L1251.6,229.0 L1253.2,229.4 L1254.8,229.6 L1256.3,229.8 L1257.9,230.1 L1259.4,230.3 L1261.0,230.4 L1262.5,230.4 L1264.1,230.6 L1265.7,231.0 L1267.2,230.8 L1268.8,230.8 L1270.3,231.5 L1271.9,231.9 L1273.4,232.0 L1275.0,231.9 L1276.6,232.0 L1278.1,232.2 L1279.7,232.6 L1281.2,233.2 L1282.8,233.2 L1284.3,233.0 L1285.9,232.8 L1287.5,233.0 L1289.0,233.0 L1290.6,233.2 L1292.1,233.1 L1293.7,233.4 L1295.2,233.5 L1296.8,233.7 L1298.4,233.8 L1299.9,233.8 L1301.5,233.7 L1303.0,233.8 L1304.6,234.1 L1306.1,234.1 L1307.7,233.8 L1309.3,234.0 L1310.8,234.3 L1312.4,234.4 L1313.9,234.2 L1315.5,233.9 L1317.1,234.0 L1318.6,234.0 L1320.2,234.4 L1321.7,234.5 L1323.3,234.6 L1324.8,234.5 L1326.4,234.6 L1328.0,234.7 L1329.5,235.0 L1331.1,234.9 L1332.6,234.7 L1334.2,235.0 L1335.7,235.0 L1337.3,235.4 L1338.9,234.8 L1340.4,234.6 L1342.0,234.8 L1343.5,234.9 L1345.1,235.4 L1346.6,235.7 L1348.2,235.8 L1349.8,235.5 L1351.3,235.3 L1352.9,235.4 L1354.4,235.8 L1356.0,235.9 L1357.5,236.0 L1359.1,236.1 L1360.7,235.9 L1362.2,236.1 L1363.8,236.1 L1365.3,236.3 L1366.9,236.1 L1368.4,235.9 L1370.0,236.2 L1371.6,236.4 L1373.1,236.7 L1374.7,236.9 L1376.2,236.5 L1377.8,236.5 L1379.3,236.7 L1380.9,236.7 L1382.5,236.8 L1384.0,236.9 L1385.6,237.4 L1387.1,237.3 L1388.7,237.6 L1390.2,237.3 L1391.8,237.4 L1393.4,237.3 L1394.9,237.8 L1396.5,237.9 L1398.0,237.6 L1399.6,237.7 L1401.1,237.6 L1402.7,237.8 L1404.3,237.9 L1405.8,238.0 L1407.4,237.9 L1408.9,238.3 L1410.5,238.3 L1412.0,238.5 L1413.6,238.5 L1415.2,238.4 L1416.7,238.3 L1418.3,238.7 L1419.8,239.0 L1421.4,238.9 L1422.9,238.8 L1424.5,239.1 L1426.1,239.2 L1427.6,239.2 L1429.2,239.1 L1430.7,239.1 L1432.3,239.1 L1433.8,239.3 L1435.4,239.4 L1437.0,239.5 L1438.5,239.5 L1438.5,260.0 L1437.0,260.2 L1435.4,260.2 L1433.8,260.1 L1432.3,260.1 L1430.7,260.1 L1429.2,260.4 L1427.6,260.6 L1426.1,260.5 L1424.5,260.8 L1422.9,260.7 L1421.4,260.8 L1419.8,260.9 L1418.3,261.0 L1416.7,261.0 L1415.2,261.0 L1413.6,261.1 L1412.0,261.4 L1410.5,261.5 L1408.9,261.6 L1407.4,261.2 L1405.8,261.5 L1404.3,261.4 L1402.7,261.5 L1401.1,261.5 L1399.6,261.9 L1398.0,261.9 L1396.5,261.6 L1394.9,261.5 L1393.4,261.5 L1391.8,261.8 L1390.2,261.5 L1388.7,261.9 L1387.1,261.8 L1385.6,262.0 L1384.0,261.5 L1382.5,261.3 L1380.9,261.3 L1379.3,261.3 L1377.8,261.1 L1376.2,261.2 L1374.7,261.3 L1373.1,261.3 L1371.6,261.2 L1370.0,260.9 L1368.4,260.8 L1366.9,261.1 L1365.3,261.4 L1363.8,261.2 L1362.2,261.1 L1360.7,261.0 L1359.1,261.1 L1357.5,261.1 L1356.0,260.8 L1354.4,260.8 L1352.9,260.9 L1351.3,260.7 L1349.8,260.7 L1348.2,260.8 L1346.6,260.5 L1345.1,260.5 L1343.5,260.2 L1342.0,260.3 L1340.4,260.6 L1338.9,260.6 L1337.3,260.6 L1335.7,260.3 L1334.2,260.4 L1332.6,260.3 L1331.1,260.0 L1329.5,259.8 L1328.0,259.7 L1326.4,259.7 L1324.8,259.8 L1323.3,260.0 L1321.7,259.8 L1320.2,259.6 L1318.6,259.4 L1317.1,259.6 L1315.5,259.5 L1313.9,259.9 L1312.4,260.0 L1310.8,260.0 L1309.3,259.9 L1307.7,259.7 L1306.1,259.2 L1304.6,259.3 L1303.0,259.6 L1301.5,259.4 L1299.9,259.3 L1298.4,259.5 L1296.8,259.5 L1295.2,259.3 L1293.7,259.2 L1292.1,259.1 L1290.6,259.1 L1289.0,259.0 L1287.5,259.2 L1285.9,259.2 L1284.3,259.1 L1282.8,259.1 L1281.2,259.4 L1279.7,258.9 L1278.1,258.8 L1276.6,258.7 L1275.0,258.5 L1273.4,258.9 L1271.9,258.8 L1270.3,258.7 L1268.8,258.5 L1267.2,258.3 L1265.7,258.1 L1264.1,258.0 L1262.5,258.3 L1261.0,258.5 L1259.4,258.5 L1257.9,258.4 L1256.3,258.3 L1254.8,258.1 L1253.2,258.0 L1251.6,258.1 L1250.1,258.0 L1248.5,258.1 L1247.0,258.1 L1245.4,258.1 L1243.9,258.0 L1242.3,258.1 L1240.7,258.0 L1239.2,257.9 L1237.6,258.0 L1236.1,257.9 L1234.5,257.9 L1233.0,258.1 L1231.4,258.0 L1229.8,257.6 L1228.3,257.8 L1226.7,257.7 L1225.2,257.6 L1223.6,257.8 L1222.1,258.3 L1220.5,258.2 L1218.9,258.1 L1217.4,257.8 L1215.8,257.9 L1214.3,257.7 L1212.7,257.8 L1211.2,257.8 L1209.6,257.8 L1208.0,257.6 L1206.5,258.0 L1204.9,257.9 L1203.4,257.9 L1201.8,257.8 L1200.3,257.8 L1198.7,257.6 L1197.1,257.7 L1195.6,257.6 L1194.0,257.4 L1192.5,257.5 L1190.9,257.6 L1189.4,257.4 L1187.8,257.2 L1186.2,257.1 L1184.7,256.7 L1183.1,256.4 L1181.6,256.5 L1180.0,256.9 L1178.5,257.1 L1176.9,257.4 L1175.3,257.3 L1173.8,257.1 L1172.2,256.9 L1170.7,257.0 L1169.1,256.8 L1167.5,256.6 L1166.0,256.2 L1164.4,256.2 L1162.9,256.1 L1161.3,256.3 L1159.8,256.2 L1158.2,255.9 L1156.6,255.9 L1155.1,256.3 L1153.5,255.9 L1152.0,255.6 L1150.4,255.4 L1148.9,256.0 L1147.3,256.2 L1145.7,255.7 L1144.2,255.5 L1142.6,255.2 L1141.1,255.2 L1139.5,255.3 L1138.0,255.4 L1136.4,255.4 L1134.8,255.4 L1133.3,255.3 L1131.7,255.3 L1130.2,255.2 L1128.6,255.0 L1127.1,254.6 L1125.5,254.7 L1123.9,254.6 L1122.4,254.8 L1120.8,254.5 L1119.3,254.3 L1117.7,254.5 L1116.2,254.9 L1114.6,254.8 L1113.0,254.5 L1111.5,254.0 L1109.9,253.8 L1108.4,254.1 L1106.8,254.4 L1105.3,254.1 L1103.7,254.0 L1102.1,254.1 L1100.6,253.8 L1099.0,253.3 L1097.5,253.6 L1095.9,253.0 L1094.4,253.4 L1092.8,253.7 L1091.2,253.8 L1089.7,253.8 L1088.1,253.6 L1086.6,253.5 L1085.0,254.1 L1083.5,253.3 L1081.9,253.3 L1080.3,253.8 L1078.8,253.8 L1077.2,253.6 L1075.7,253.4 L1074.1,253.4 L1072.6,253.2 L1071.0,252.8 L1069.4,253.1 L1067.9,253.4 L1066.3,253.0 L1064.8,252.9 L1063.2,252.8 L1061.7,252.3 L1060.1,252.6 L1058.5,252.8 L1057.0,252.7 L1055.4,252.3 L1053.9,252.5 L1052.3,252.4 L1050.8,252.2 L1049.2,252.3 L1047.6,252.7 L1046.1,252.4 L1044.5,251.7 L1043.0,251.8 L1041.4,252.0 L1039.9,252.0 L1038.3,251.4 L1036.7,251.3 L1035.2,250.8 L1033.6,250.1 L1032.1,250.1 L1030.5,249.9 L1029.0,249.6 L1027.4,250.1 L1025.8,250.3 L1024.3,248.9 L1022.7,248.1 L1021.2,248.6 L1019.6,248.7 L1018.0,248.7 L1016.5,248.1 L1014.9,248.0 L1013.4,248.0 L1011.8,248.1 L1010.3,248.7 L1008.7,248.0 L1007.1,247.9 L1005.6,247.7 L1004.0,248.1 L1002.5,247.9 L1000.9,247.3 L999.4,246.3 L997.8,246.1 L996.2,245.5 L994.7,245.7 L993.1,245.6 L991.6,246.6 L990.0,246.6 L988.5,245.9 L986.9,245.6 L985.3,245.2 L983.8,245.6 L982.2,246.2 L980.7,246.2 L979.1,245.7 L977.6,245.2 L976.0,244.8 L974.4,245.0 L972.9,245.5 L971.3,245.4 L969.8,244.7 L968.2,243.6 L966.7,244.1 L965.1,244.4 L963.5,243.8 L962.0,242.9 L960.4,242.5 L958.9,242.7 L957.3,242.7 L955.8,242.5 L954.2,242.6 L952.6,241.5 L951.1,240.8 L949.5,239.7 L948.0,239.7 L946.4,239.8 L944.9,240.4 L943.3,239.7 L941.7,238.9 L940.2,238.7 L938.6,237.5 L937.1,236.9 L935.5,237.1 L934.0,236.9 L932.4,236.8 L930.8,236.1 L929.3,235.0 L927.7,234.2 L926.2,233.1 L924.6,231.4 L923.1,231.7 L921.5,231.7 L919.9,230.9 L918.4,230.6 L916.8,229.4 L915.3,228.4 L913.7,227.5 L912.2,227.1 L910.6,227.0 L909.0,226.2 L907.5,225.2 L905.9,224.2 L904.4,222.8 L902.8,221.4 L901.3,219.5 L899.7,219.2 L898.1,219.0 L896.6,218.7 L895.0,218.1 L893.5,217.1 L891.9,216.1 L890.4,214.5 L888.8,213.6 L887.2,212.0 L885.7,212.2 L884.1,212.0 L882.6,212.6 L881.0,210.4 L879.4,208.9 L877.9,207.5 L876.3,206.0 L874.8,205.6 L873.2,205.7 L871.7,205.7 L870.1,205.8 L868.5,205.9 L867.0,206.0 L865.4,206.5 L863.9,208.0 L862.3,208.4 L860.8,207.6 L859.2,207.2 L857.6,207.4 L856.1,207.3 L854.5,206.2 L853.0,205.9 L851.4,205.6 L849.9,204.3 L848.3,202.5 L846.7,202.4 L846.0,201.4 L845.2,204.4 L844.4,203.9 L843.6,200.8 L842.9,201.1 L842.1,200.4 L841.3,199.9 L840.5,197.5 L839.7,196.3 L839.0,196.9 L838.2,196.9 L837.4,196.2 L836.6,199.2 L835.8,197.4 L835.1,197.4 L834.3,197.7 L833.5,199.6 L832.7,201.2 L832.0,200.7 L831.2,199.8 L830.4,202.0 L829.6,202.6 L828.8,204.9 L828.1,201.5 L827.3,196.2 L826.5,191.2 L825.7,191.8 L824.9,186.1 L824.2,177.9 L823.4,175.0 L822.6,172.7 L821.8,169.4 L821.1,165.5 L820.3,165.1 L819.5,162.3 L818.7,159.4 L817.9,150.5 L817.2,140.3 L816.4,98.2 L815.6,52.1Z" fill="#0000ff" fill-opacity="0.3" stroke="#0000ff" stroke-opacity="0.35" stroke-width="1.1" stroke-linejoin="round"/>
<line x1="815.6" x2="815.6" y1="7.3" y2="469.2" stroke="#b0b0b0" stroke-width="1.25"/>
<line x1="893.5" x2="893.5" y1="7.3" y2="469.2" stroke="#b0b0b0" stroke-width="1.25"/>
<line x1="971.3" x2="971.3" y1="7.3" y2="469.2" stroke="#b0b0b0" stroke-width="1.25"/>
<line x1="1049.2" x2="1049.2" y1="7.3" y2="469.2" stroke="#b0b0b0" stroke-width="1.25"/>
<line x1="1127.1" x2="1127.1" y1="7.3" y2="469.2" stroke="#b0b0b0" stroke-width="1.25"/>
<line x1="1204.9" x2="1204.9" y1="7.3" y2="469.2" stroke="#b0b0b0" stroke-width="1.25"/>
<line x1="1282.8" x2="1282.8" y1="7.3" y2="469.2" stroke="#b0b0b0" stroke-width="1.25"/>
<line x1="1360.7" x2="1360.7" y1="7.3" y2="469.2" stroke="#b0b0b0" stroke-width="1.25"/>
<line x1="1438.5" x2="1438.5" y1="7.3" y2="469.2" stroke="#b0b0b0" stroke-width="1.25"/>
<line x1="815.6" x2="1438.6" y1="467.0" y2="467.0" stroke="#c2c2c2" stroke-width="2.4"/>
<line x1="815.6" x2="1438.6" y1="369.9" y2="369.9" stroke="#b6b6b6" stroke-width="1.5"/>
<line x1="815.6" x2="1438.6" y1="272.8" y2="272.8" stroke="#b6b6b6" stroke-width="1.5"/>
<line x1="815.6" x2="1438.6" y1="175.8" y2="175.8" stroke="#b6b6b6" stroke-width="1.5"/>
<line x1="815.6" x2="1438.6" y1="78.7" y2="78.7" stroke="#b6b6b6" stroke-width="1.5"/>
<path d="M815.6,407.8 L816.4,387.1 L817.2,368.4 L817.9,361.5 L818.7,355.4 L819.5,347.5 L820.3,343.4 L821.1,340.5 L821.8,340.1 L822.6,338.2 L823.4,335.0 L824.2,331.2 L824.9,326.0 L825.7,324.0 L826.5,319.8 L827.3,318.1 L828.1,317.7 L828.8,315.6 L829.6,316.3 L830.4,314.4 L831.2,315.0 L832.0,314.5 L832.7,314.4 L833.5,312.3 L834.3,311.2 L835.1,310.7 L835.8,311.8 L836.6,312.3 L837.4,312.7 L838.2,312.1 L839.0,312.3 L839.7,313.3 L840.5,313.5 L841.3,313.1 L842.1,312.4 L842.9,313.4 L843.6,313.3 L844.4,313.1 L845.2,311.6 L846.0,311.4 L846.7,310.6 L848.3,310.6 L849.9,310.7 L851.4,311.8 L853.0,311.5 L854.5,309.9 L856.1,308.1 L857.6,307.3 L859.2,307.4 L860.8,308.3 L862.3,308.6 L863.9,308.6 L865.4,308.7 L867.0,310.1 L868.5,310.8 L870.1,311.5 L871.7,311.1 L873.2,310.7 L874.8,310.8 L876.3,311.1 L877.9,312.1 L879.4,312.0 L881.0,312.5 L882.6,312.9 L884.1,313.6 L885.7,313.3 L887.2,312.9 L888.8,312.4 L890.4,312.9 L891.9,312.2 L893.5,312.0 L895.0,311.3 L896.6,311.2 L898.1,311.1 L899.7,310.1 L901.3,309.6 L902.8,309.2 L904.4,308.4 L905.9,307.9 L907.5,307.1 L909.0,307.6 L910.6,307.3 L912.2,306.9 L913.7,306.2 L915.3,305.7 L916.8,305.7 L918.4,305.2 L919.9,304.5 L921.5,303.7 L923.1,303.1 L924.6,302.9 L926.2,302.3 L927.7,302.1 L929.3,301.7 L930.8,301.4 L932.4,300.6 L934.0,300.2 L935.5,300.0 L937.1,300.0 L938.6,299.8 L940.2,299.1 L941.7,299.1 L943.3,298.7 L944.9,298.5 L946.4,297.9 L948.0,297.3 L949.5,296.8 L951.1,296.6 L952.6,296.7 L954.2,296.4 L955.8,296.0 L957.3,295.6 L958.9,295.5 L960.4,295.3 L962.0,295.1 L963.5,295.0 L965.1,295.0 L966.7,294.9 L968.2,294.7 L969.8,294.3 L971.3,294.0 L972.9,293.9 L974.4,294.2 L976.0,294.2 L977.6,294.3 L979.1,294.2 L980.7,294.0 L982.2,293.9 L983.8,294.0 L985.3,294.1 L986.9,294.4 L988.5,294.3 L990.0,294.2 L991.6,294.0 L993.1,294.0 L994.7,294.1 L996.2,294.0 L997.8,294.2 L999.4,294.1 L1000.9,294.2 L1002.5,294.1 L1004.0,294.1 L1005.6,294.0 L1007.1,294.1 L1008.7,293.8 L1010.3,293.6 L1011.8,293.3 L1013.4,293.4 L1014.9,293.3 L1016.5,293.0 L1018.0,292.5 L1019.6,292.2 L1021.2,291.9 L1022.7,291.9 L1024.3,291.7 L1025.8,291.4 L1027.4,291.1 L1029.0,291.1 L1030.5,291.0 L1032.1,290.8 L1033.6,290.4 L1035.2,290.3 L1036.7,290.1 L1038.3,290.1 L1039.9,289.8 L1041.4,289.7 L1043.0,289.4 L1044.5,289.6 L1046.1,289.4 L1047.6,289.4 L1049.2,289.0 L1050.8,288.9 L1052.3,288.8 L1053.9,288.9 L1055.4,288.8 L1057.0,288.5 L1058.5,288.1 L1060.1,287.7 L1061.7,287.6 L1063.2,287.5 L1064.8,287.4 L1066.3,287.1 L1067.9,287.0 L1069.4,287.0 L1071.0,286.9 L1072.6,286.9 L1074.1,286.7 L1075.7,286.5 L1077.2,286.2 L1078.8,286.2 L1080.3,285.9 L1081.9,285.8 L1083.5,285.3 L1085.0,285.3 L1086.6,285.1 L1088.1,284.9 L1089.7,284.6 L1091.2,284.6 L1092.8,284.8 L1094.4,284.6 L1095.9,284.3 L1097.5,284.3 L1099.0,284.2 L1100.6,284.2 L1102.1,283.8 L1103.7,283.9 L1105.3,283.8 L1106.8,283.5 L1108.4,283.2 L1109.9,283.1 L1111.5,283.2 L1113.0,283.3 L1114.6,283.2 L1116.2,283.2 L1117.7,283.1 L1119.3,283.2 L1120.8,282.9 L1122.4,282.8 L1123.9,282.3 L1125.5,282.6 L1127.1,282.6 L1128.6,282.8 L1130.2,282.5 L1131.7,282.4 L1133.3,282.4 L1134.8,282.6 L1136.4,282.3 L1138.0,282.1 L1139.5,282.1 L1141.1,282.0 L1142.6,282.1 L1144.2,282.2 L1145.7,282.3 L1147.3,282.3 L1148.9,282.3 L1150.4,282.2 L1152.0,282.4 L1153.5,282.3 L1155.1,282.5 L1156.6,282.4 L1158.2,282.3 L1159.8,282.0 L1161.3,281.8 L1162.9,281.9 L1164.4,281.9 L1166.0,282.0 L1167.5,281.9 L1169.1,281.9 L1170.7,282.0 L1172.2,282.0 L1173.8,281.9 L1175.3,282.0 L1176.9,282.1 L1178.5,281.8 L1180.0,281.7 L1181.6,281.5 L1183.1,281.6 L1184.7,281.6 L1186.2,281.5 L1187.8,281.6 L1189.4,281.6 L1190.9,281.6 L1192.5,281.6 L1194.0,281.5 L1195.6,281.4 L1197.1,281.2 L1198.7,281.2 L1200.3,281.3 L1201.8,281.3 L1203.4,281.2 L1204.9,281.4 L1206.5,281.4 L1208.0,281.4 L1209.6,281.1 L1211.2,281.0 L1212.7,280.9 L1214.3,280.9 L1215.8,280.7 L1217.4,280.9 L1218.9,280.7 L1220.5,281.0 L1222.1,280.8 L1223.6,280.9 L1225.2,280.7 L1226.7,280.6 L1228.3,280.3 L1229.8,280.4 L1231.4,280.5 L1233.0,280.4 L1234.5,280.4 L1236.1,280.2 L1237.6,280.3 L1239.2,280.1 L1240.7,280.3 L1242.3,280.3 L1243.9,280.3 L1245.4,280.1 L1247.0,280.0 L1248.5,280.0 L1250.1,279.9 L1251.6,279.8 L1253.2,279.6 L1254.8,279.5 L1256.3,279.6 L1257.9,279.6 L1259.4,279.4 L1261.0,279.1 L1262.5,279.0 L1264.1,279.1 L1265.7,279.0 L1267.2,278.9 L1268.8,278.9 L1270.3,278.9 L1271.9,278.9 L1273.4,278.8 L1275.0,278.7 L1276.6,278.7 L1278.1,278.6 L1279.7,278.6 L1281.2,278.4 L1282.8,278.4 L1284.3,278.3 L1285.9,278.3 L1287.5,278.3 L1289.0,278.2 L1290.6,278.2 L1292.1,278.1 L1293.7,278.2 L1295.2,278.1 L1296.8,278.2 L1298.4,278.0 L1299.9,277.9 L1301.5,277.8 L1303.0,277.7 L1304.6,277.7 L1306.1,277.6 L1307.7,277.6 L1309.3,277.4 L1310.8,277.4 L1312.4,277.4 L1313.9,277.4 L1315.5,277.3 L1317.1,277.1 L1318.6,277.1 L1320.2,277.0 L1321.7,277.0 L1323.3,276.9 L1324.8,276.9 L1326.4,277.0 L1328.0,277.0 L1329.5,276.9 L1331.1,276.7 L1332.6,276.8 L1334.2,276.7 L1335.7,276.7 L1337.3,276.4 L1338.9,276.6 L1340.4,276.6 L1342.0,276.5 L1343.5,276.3 L1345.1,276.2 L1346.6,276.2 L1348.2,276.2 L1349.8,276.1 L1351.3,276.0 L1352.9,276.0 L1354.4,276.1 L1356.0,276.2 L1357.5,276.1 L1359.1,276.2 L1360.7,276.1 L1362.2,276.0 L1363.8,275.8 L1365.3,275.8 L1366.9,275.7 L1368.4,275.8 L1370.0,275.7 L1371.6,275.6 L1373.1,275.4 L1374.7,275.4 L1376.2,275.4 L1377.8,275.5 L1379.3,275.5 L1380.9,275.4 L1382.5,275.1 L1384.0,274.9 L1385.6,275.0 L1387.1,275.2 L1388.7,275.1 L1390.2,275.0 L1391.8,274.9 L1393.4,274.8 L1394.9,274.7 L1396.5,274.7 L1398.0,274.7 L1399.6,274.6 L1401.1,274.6 L1402.7,274.5 L1404.3,274.5 L1405.8,274.4 L1407.4,274.3 L1408.9,274.3 L1410.5,274.4 L1412.0,274.4 L1413.6,274.4 L1415.2,274.3 L1416.7,274.1 L1418.3,274.2 L1419.8,274.1 L1421.4,274.2 L1422.9,274.0 L1424.5,274.0 L1426.1,273.9 L1427.6,273.9 L1429.2,274.0 L1430.7,273.8 L1432.3,273.9 L1433.8,273.7 L1435.4,273.8 L1437.0,273.7 L1438.5,273.7" fill="none" stroke="#008000" stroke-width="1.05" stroke-linejoin="round" stroke-opacity="0.85"/>
<path d="M815.6,400.7 L816.4,405.7 L817.2,409.4 L817.9,413.5 L818.7,416.5 L819.5,420.9 L820.3,422.9 L821.1,421.8 L821.8,421.7 L822.6,422.3 L823.4,421.8 L824.2,421.0 L824.9,419.7 L825.7,420.9 L826.5,420.8 L827.3,423.3 L828.1,422.1 L828.8,421.1 L829.6,419.9 L830.4,417.7 L831.2,416.1 L832.0,414.2 L832.7,415.3 L833.5,415.1 L834.3,413.7 L835.1,412.4 L835.8,411.8 L836.6,412.2 L837.4,411.6 L838.2,412.1 L839.0,410.4 L839.7,409.7 L840.5,408.1 L841.3,408.3 L842.1,407.9 L842.9,408.7 L843.6,407.8 L844.4,407.4 L845.2,406.0 L846.0,406.9 L846.7,407.1 L848.3,406.6 L849.9,405.8 L851.4,404.7 L853.0,404.9 L854.5,404.0 L856.1,403.3 L857.6,402.8 L859.2,403.4 L860.8,403.9 L862.3,404.3 L863.9,403.5 L865.4,402.6 L867.0,402.1 L868.5,402.1 L870.1,402.2 L871.7,402.1 L873.2,401.8 L874.8,401.9 L876.3,401.7 L877.9,401.1 L879.4,401.1 L881.0,400.2 L882.6,400.8 L884.1,400.6 L885.7,400.5 L887.2,399.7 L888.8,399.3 L890.4,399.4 L891.9,399.1 L893.5,399.0 L895.0,398.6 L896.6,397.9 L898.1,397.3 L899.7,397.0 L901.3,397.6 L902.8,397.5 L904.4,397.3 L905.9,396.7 L907.5,396.3 L909.0,396.7 L910.6,396.9 L912.2,396.9 L913.7,396.9 L915.3,397.3 L916.8,397.2 L918.4,397.0 L919.9,396.6 L921.5,396.6 L923.1,396.3 L924.6,395.9 L926.2,396.1 L927.7,395.9 L929.3,396.1 L930.8,395.5 L932.4,395.6 L934.0,395.5 L935.5,395.5 L937.1,395.7 L938.6,395.4 L940.2,395.7 L941.7,395.8 L943.3,396.2 L944.9,396.4 L946.4,395.7 L948.0,395.7 L949.5,395.5 L951.1,395.7 L952.6,395.2 L954.2,395.0 L955.8,395.1 L957.3,395.5 L958.9,395.4 L960.4,395.3 L962.0,395.0 L963.5,395.1 L965.1,395.1 L966.7,395.3 L968.2,395.1 L969.8,395.0 L971.3,394.9 L972.9,394.7 L974.4,394.7 L976.0,394.4 L977.6,394.5 L979.1,394.5 L980.7,394.6 L982.2,394.4 L983.8,394.1 L985.3,393.9 L986.9,393.7 L988.5,393.6 L990.0,393.6 L991.6,393.7 L993.1,393.6 L994.7,393.6 L996.2,393.1 L997.8,393.1 L999.4,392.8 L1000.9,393.0 L1002.5,392.8 L1004.0,392.6 L1005.6,392.3 L1007.1,391.7 L1008.7,391.2 L1010.3,391.0 L1011.8,391.4 L1013.4,391.3 L1014.9,391.0 L1016.5,390.4 L1018.0,390.4 L1019.6,390.5 L1021.2,390.6 L1022.7,390.7 L1024.3,390.7 L1025.8,390.5 L1027.4,390.6 L1029.0,390.3 L1030.5,390.2 L1032.1,390.0 L1033.6,390.0 L1035.2,390.0 L1036.7,390.0 L1038.3,390.1 L1039.9,390.0 L1041.4,390.1 L1043.0,390.0 L1044.5,389.7 L1046.1,389.5 L1047.6,389.6 L1049.2,389.6 L1050.8,389.7 L1052.3,390.0 L1053.9,390.3 L1055.4,390.4 L1057.0,390.3 L1058.5,390.4 L1060.1,390.5 L1061.7,390.6 L1063.2,390.9 L1064.8,391.1 L1066.3,391.3 L1067.9,391.2 L1069.4,391.1 L1071.0,391.3 L1072.6,391.5 L1074.1,391.5 L1075.7,391.3 L1077.2,391.1 L1078.8,391.2 L1080.3,391.1 L1081.9,391.1 L1083.5,391.0 L1085.0,390.8 L1086.6,391.1 L1088.1,391.0 L1089.7,390.8 L1091.2,390.6 L1092.8,390.6 L1094.4,390.8 L1095.9,390.7 L1097.5,390.7 L1099.0,390.6 L1100.6,390.6 L1102.1,390.6 L1103.7,390.5 L1105.3,390.4 L1106.8,390.2 L1108.4,390.2 L1109.9,390.2 L1111.5,390.4 L1113.0,390.2 L1114.6,390.2 L1116.2,389.9 L1117.7,390.2 L1119.3,390.3 L1120.8,390.4 L1122.4,390.3 L1123.9,390.1 L1125.5,390.0 L1127.1,389.9 L1128.6,389.9 L1130.2,390.0 L1131.7,389.8 L1133.3,389.9 L1134.8,389.8 L1136.4,390.0 L1138.0,389.9 L1139.5,389.9 L1141.1,389.8 L1142.6,389.7 L1144.2,389.9 L1145.7,389.9 L1147.3,389.8 L1148.9,389.6 L1150.4,389.7 L1152.0,389.8 L1153.5,389.9 L1155.1,389.9 L1156.6,389.9 L1158.2,389.8 L1159.8,389.8 L1161.3,389.9 L1162.9,389.8 L1164.4,389.7 L1166.0,389.6 L1167.5,389.6 L1169.1,389.6 L1170.7,389.7 L1172.2,389.8 L1173.8,389.8 L1175.3,389.9 L1176.9,389.8 L1178.5,389.7 L1180.0,389.6 L1181.6,389.7 L1183.1,389.7 L1184.7,389.7 L1186.2,389.8 L1187.8,389.8 L1189.4,389.7 L1190.9,389.7 L1192.5,389.8 L1194.0,389.9 L1195.6,389.9 L1197.1,390.0 L1198.7,389.7 L1200.3,389.6 L1201.8,389.4 L1203.4,389.5 L1204.9,389.6 L1206.5,389.6 L1208.0,389.4 L1209.6,389.4 L1211.2,389.4 L1212.7,389.5 L1214.3,389.5 L1215.8,389.6 L1217.4,389.7 L1218.9,389.5 L1220.5,389.5 L1222.1,389.4 L1223.6,389.4 L1225.2,389.3 L1226.7,389.2 L1228.3,389.3 L1229.8,389.3 L1231.4,389.4 L1233.0,389.2 L1234.5,389.0 L1236.1,388.8 L1237.6,389.0 L1239.2,389.2 L1240.7,389.3 L1242.3,389.2 L1243.9,389.1 L1245.4,389.0 L1247.0,389.1 L1248.5,389.1 L1250.1,389.0 L1251.6,388.9 L1253.2,388.9 L1254.8,389.1 L1256.3,389.1 L1257.9,389.2 L1259.4,389.1 L1261.0,389.1 L1262.5,388.9 L1264.1,388.9 L1265.7,389.0 L1267.2,389.1 L1268.8,389.1 L1270.3,389.0 L1271.9,388.9 L1273.4,388.9 L1275.0,389.0 L1276.6,389.1 L1278.1,389.0 L1279.7,389.0 L1281.2,389.0 L1282.8,389.0 L1284.3,388.9 L1285.9,388.9 L1287.5,388.9 L1289.0,388.9 L1290.6,388.9 L1292.1,389.0 L1293.7,389.1 L1295.2,389.2 L1296.8,389.3 L1298.4,389.4 L1299.9,389.4 L1301.5,389.3 L1303.0,389.2 L1304.6,389.3 L1306.1,389.5 L1307.7,389.5 L1309.3,389.3 L1310.8,389.2 L1312.4,389.4 L1313.9,389.5 L1315.5,389.5 L1317.1,389.5 L1318.6,389.5 L1320.2,389.5 L1321.7,389.5 L1323.3,389.5 L1324.8,389.5 L1326.4,389.4 L1328.0,389.5 L1329.5,389.6 L1331.1,389.6 L1332.6,389.7 L1334.2,389.7 L1335.7,389.8 L1337.3,389.8 L1338.9,389.7 L1340.4,389.7 L1342.0,389.8 L1343.5,390.0 L1345.1,390.1 L1346.6,390.0 L1348.2,389.8 L1349.8,389.7 L1351.3,389.7 L1352.9,389.8 L1354.4,389.8 L1356.0,389.8 L1357.5,389.8 L1359.1,390.0 L1360.7,390.0 L1362.2,390.0 L1363.8,389.9 L1365.3,389.9 L1366.9,390.1 L1368.4,390.1 L1370.0,390.1 L1371.6,390.1 L1373.1,390.2 L1374.7,390.1 L1376.2,390.1 L1377.8,390.1 L1379.3,390.3 L1380.9,390.2 L1382.5,390.2 L1384.0,390.3 L1385.6,390.2 L1387.1,390.2 L1388.7,390.2 L1390.2,390.1 L1391.8,390.1 L1393.4,390.0 L1394.9,390.1 L1396.5,390.1 L1398.0,390.2 L1399.6,390.2 L1401.1,390.1 L1402.7,390.2 L1404.3,390.4 L1405.8,390.4 L1407.4,390.4 L1408.9,390.2 L1410.5,390.2 L1412.0,390.3 L1413.6,390.4 L1415.2,390.4 L1416.7,390.4 L1418.3,390.4 L1419.8,390.4 L1421.4,390.3 L1422.9,390.3 L1424.5,390.4 L1426.1,390.5 L1427.6,390.4 L1429.2,390.4 L1430.7,390.2 L1432.3,390.3 L1433.8,390.3 L1435.4,390.4 L1437.0,390.3 L1438.5,390.3" fill="none" stroke="#ff0000" stroke-width="0.95" stroke-linejoin="round" stroke-opacity="0.85"/>
<path d="M815.6,29.4 L816.4,79.1 L817.2,120.4 L817.9,127.2 L818.7,133.1 L819.5,137.1 L820.3,141.4 L821.1,140.7 L821.8,144.4 L822.6,146.3 L823.4,148.8 L824.2,151.5 L824.9,157.3 L825.7,163.0 L826.5,167.1 L827.3,171.8 L828.1,173.6 L828.8,177.6 L829.6,177.8 L830.4,180.4 L831.2,182.6 L832.0,185.8 L832.7,186.8 L833.5,187.5 L834.3,186.8 L835.1,188.0 L835.8,188.5 L836.6,190.9 L837.4,191.2 L838.2,191.9 L839.0,191.1 L839.7,191.0 L840.5,190.9 L841.3,192.0 L842.1,192.3 L842.9,192.8 L843.6,193.4 L844.4,195.0 L845.2,196.0 L846.0,195.6 L846.7,195.7 L848.3,195.8 L849.9,197.5 L851.4,197.9 L853.0,199.4 L854.5,200.2 L856.1,200.8 L857.6,200.9 L859.2,201.2 L860.8,202.1 L862.3,202.4 L863.9,202.1 L865.4,201.3 L867.0,201.3 L868.5,201.3 L870.1,201.7 L871.7,201.0 L873.2,200.2 L874.8,199.9 L876.3,199.2 L877.9,199.2 L879.4,199.3 L881.0,199.7 L882.6,200.6 L884.1,200.6 L885.7,201.5 L887.2,201.3 L888.8,201.9 L890.4,202.4 L891.9,203.2 L893.5,203.6 L895.0,204.3 L896.6,205.3 L898.1,205.9 L899.7,206.2 L901.3,206.3 L902.8,207.1 L904.4,208.0 L905.9,208.7 L907.5,209.1 L909.0,210.0 L910.6,210.7 L912.2,210.8 L913.7,211.1 L915.3,211.9 L916.8,212.6 L918.4,213.0 L919.9,213.3 L921.5,213.8 L923.1,214.0 L924.6,214.0 L926.2,214.6 L927.7,215.2 L929.3,216.0 L930.8,216.7 L932.4,217.2 L934.0,217.2 L935.5,217.0 L937.1,216.9 L938.6,217.3 L940.2,217.6 L941.7,218.3 L943.3,218.7 L944.9,219.0 L946.4,219.0 L948.0,219.2 L949.5,219.4 L951.1,220.0 L952.6,220.3 L954.2,221.1 L955.8,221.3 L957.3,221.7 L958.9,221.6 L960.4,221.9 L962.0,222.3 L963.5,222.9 L965.1,223.2 L966.7,223.3 L968.2,223.3 L969.8,223.7 L971.3,224.0 L972.9,224.2 L974.4,224.1 L976.0,224.3 L977.6,224.7 L979.1,225.1 L980.7,225.3 L982.2,225.1 L983.8,225.2 L985.3,225.4 L986.9,225.8 L988.5,226.1 L990.0,226.3 L991.6,226.3 L993.1,226.1 L994.7,226.5 L996.2,226.5 L997.8,227.3 L999.4,227.5 L1000.9,227.9 L1002.5,228.0 L1004.0,228.3 L1005.6,228.2 L1007.1,228.6 L1008.7,228.6 L1010.3,229.1 L1011.8,228.8 L1013.4,229.1 L1014.9,229.3 L1016.5,229.4 L1018.0,229.5 L1019.6,229.5 L1021.2,229.7 L1022.7,229.6 L1024.3,229.9 L1025.8,230.6 L1027.4,230.8 L1029.0,230.9 L1030.5,230.9 L1032.1,231.2 L1033.6,231.6 L1035.2,232.1 L1036.7,232.7 L1038.3,232.9 L1039.9,233.2 L1041.4,233.3 L1043.0,233.6 L1044.5,233.8 L1046.1,234.0 L1047.6,234.3 L1049.2,234.5 L1050.8,234.4 L1052.3,234.3 L1053.9,234.6 L1055.4,234.8 L1057.0,235.1 L1058.5,235.0 L1060.1,235.2 L1061.7,235.3 L1063.2,235.5 L1064.8,235.7 L1066.3,236.0 L1067.9,236.2 L1069.4,236.4 L1071.0,236.2 L1072.6,236.2 L1074.1,236.4 L1075.7,236.7 L1077.2,237.0 L1078.8,236.9 L1080.3,237.0 L1081.9,237.1 L1083.5,237.2 L1085.0,237.5 L1086.6,237.5 L1088.1,237.7 L1089.7,237.6 L1091.2,237.9 L1092.8,238.0 L1094.4,238.1 L1095.9,237.9 L1097.5,238.1 L1099.0,238.1 L1100.6,238.4 L1102.1,238.3 L1103.7,238.5 L1105.3,238.7 L1106.8,238.9 L1108.4,238.9 L1109.9,238.9 L1111.5,239.1 L1113.0,239.5 L1114.6,239.7 L1116.2,239.7 L1117.7,239.6 L1119.3,239.8 L1120.8,239.8 L1122.4,240.1 L1123.9,240.1 L1125.5,240.2 L1127.1,240.1 L1128.6,240.3 L1130.2,240.4 L1131.7,240.4 L1133.3,240.3 L1134.8,240.5 L1136.4,240.7 L1138.0,240.8 L1139.5,240.8 L1141.1,240.7 L1142.6,240.6 L1144.2,240.8 L1145.7,240.9 L1147.3,241.0 L1148.9,240.9 L1150.4,240.8 L1152.0,241.0 L1153.5,241.1 L1155.1,241.4 L1156.6,241.4 L1158.2,241.5 L1159.8,241.5 L1161.3,241.4 L1162.9,241.3 L1164.4,241.4 L1166.0,241.3 L1167.5,241.8 L1169.1,241.9 L1170.7,242.1 L1172.2,242.0 L1173.8,242.1 L1175.3,242.1 L1176.9,242.2 L1178.5,242.1 L1180.0,242.1 L1181.6,242.0 L1183.1,242.0 L1184.7,242.0 L1186.2,242.1 L1187.8,242.3 L1189.4,242.4 L1190.9,242.4 L1192.5,242.4 L1194.0,242.4 L1195.6,242.5 L1197.1,242.6 L1198.7,242.8 L1200.3,242.9 L1201.8,242.9 L1203.4,243.0 L1204.9,242.9 L1206.5,242.9 L1208.0,242.8 L1209.6,242.9 L1211.2,242.9 L1212.7,243.1 L1214.3,243.0 L1215.8,243.2 L1217.4,243.2 L1218.9,243.6 L1220.5,243.8 L1222.1,243.7 L1223.6,243.5 L1225.2,243.6 L1226.7,243.5 L1228.3,243.7 L1229.8,243.6 L1231.4,243.9 L1233.0,244.0 L1234.5,244.0 L1236.1,244.1 L1237.6,244.1 L1239.2,244.1 L1240.7,244.1 L1242.3,244.2 L1243.9,244.4 L1245.4,244.4 L1247.0,244.4 L1248.5,244.6 L1250.1,244.6 L1251.6,244.5 L1253.2,244.5 L1254.8,244.6 L1256.3,244.8 L1257.9,244.9 L1259.4,245.2 L1261.0,245.1 L1262.5,245.0 L1264.1,245.1 L1265.7,245.2 L1267.2,245.4 L1268.8,245.5 L1270.3,245.7 L1271.9,245.8 L1273.4,245.9 L1275.0,245.8 L1276.6,245.8 L1278.1,246.0 L1279.7,246.2 L1281.2,246.4 L1282.8,246.4 L1284.3,246.4 L1285.9,246.4 L1287.5,246.5 L1289.0,246.4 L1290.6,246.5 L1292.1,246.4 L1293.7,246.6 L1295.2,246.8 L1296.8,247.0 L1298.4,247.0 L1299.9,246.9 L1301.5,246.9 L1303.0,247.1 L1304.6,247.1 L1306.1,247.1 L1307.7,247.2 L1309.3,247.3 L1310.8,247.4 L1312.4,247.4 L1313.9,247.3 L1315.5,247.0 L1317.1,247.1 L1318.6,247.2 L1320.2,247.5 L1321.7,247.5 L1323.3,247.6 L1324.8,247.5 L1326.4,247.5 L1328.0,247.5 L1329.5,247.7 L1331.1,247.8 L1332.6,247.8 L1334.2,247.9 L1335.7,247.7 L1337.3,248.0 L1338.9,247.9 L1340.4,247.9 L1342.0,247.8 L1343.5,247.8 L1345.1,248.1 L1346.6,248.2 L1348.2,248.2 L1349.8,248.1 L1351.3,248.2 L1352.9,248.2 L1354.4,248.4 L1356.0,248.6 L1357.5,248.6 L1359.1,248.6 L1360.7,248.6 L1362.2,248.7 L1363.8,248.7 L1365.3,248.8 L1366.9,248.8 L1368.4,248.7 L1370.0,248.7 L1371.6,248.9 L1373.1,249.1 L1374.7,249.1 L1376.2,249.0 L1377.8,249.1 L1379.3,249.1 L1380.9,249.1 L1382.5,249.2 L1384.0,249.3 L1385.6,249.6 L1387.1,249.6 L1388.7,249.7 L1390.2,249.4 L1391.8,249.5 L1393.4,249.4 L1394.9,249.6 L1396.5,249.7 L1398.0,249.7 L1399.6,249.8 L1401.1,249.7 L1402.7,249.8 L1404.3,249.8 L1405.8,250.0 L1407.4,250.1 L1408.9,250.3 L1410.5,250.3 L1412.0,250.3 L1413.6,250.3 L1415.2,250.3 L1416.7,250.3 L1418.3,250.5 L1419.8,250.5 L1421.4,250.6 L1422.9,250.5 L1424.5,250.7 L1426.1,250.7 L1427.6,250.8 L1429.2,250.7 L1430.7,250.7 L1432.3,250.8 L1433.8,250.8 L1435.4,250.9 L1437.0,251.0 L1438.5,251.0" fill="none" stroke="#0000ff" stroke-width="1.1" stroke-linejoin="round" stroke-opacity="0.85"/>
</g>
<rect x="815.6" y="7.3" width="623.0" height="461.9" fill="none" stroke="#262626" stroke-width="1.8"/>
<line x1="815.6" x2="815.6" y1="469.2" y2="475.5" stroke="#262626" stroke-width="1.6"/>
<text class="tk" transform="translate(815.6,497.7) scale(1,1.08)" text-anchor="middle">0</text>
<line x1="893.5" x2="893.5" y1="469.2" y2="475.5" stroke="#262626" stroke-width="1.6"/>
<text class="tk" transform="translate(893.5,497.7) scale(1,1.08)" text-anchor="middle">50</text>
<line x1="971.3" x2="971.3" y1="469.2" y2="475.5" stroke="#262626" stroke-width="1.6"/>
<text class="tk" transform="translate(971.3,497.7) scale(1,1.08)" text-anchor="middle">100</text>
<line x1="1049.2" x2="1049.2" y1="469.2" y2="475.5" stroke="#262626" stroke-width="1.6"/>
<text class="tk" transform="translate(1049.2,497.7) scale(1,1.08)" text-anchor="middle">150</text>
<line x1="1127.1" x2="1127.1" y1="469.2" y2="475.5" stroke="#262626" stroke-width="1.6"/>
<text class="tk" transform="translate(1127.1,497.7) scale(1,1.08)" text-anchor="middle">200</text>
<line x1="1204.9" x2="1204.9" y1="469.2" y2="475.5" stroke="#262626" stroke-width="1.6"/>
<text class="tk" transform="translate(1204.9,497.7) scale(1,1.08)" text-anchor="middle">250</text>
<line x1="1282.8" x2="1282.8" y1="469.2" y2="475.5" stroke="#262626" stroke-width="1.6"/>
<text class="tk" transform="translate(1282.8,497.7) scale(1,1.08)" text-anchor="middle">300</text>
<line x1="1360.7" x2="1360.7" y1="469.2" y2="475.5" stroke="#262626" stroke-width="1.6"/>
<text class="tk" transform="translate(1360.7,497.7) scale(1,1.08)" text-anchor="middle">350</text>
<line x1="1438.5" x2="1438.5" y1="469.2" y2="475.5" stroke="#262626" stroke-width="1.6"/>
<text class="tk" transform="translate(1438.5,497.7) scale(1,1.08)" text-anchor="middle">400</text>
<line x1="809.1" x2="815.6" y1="467.0" y2="467.0" stroke="#262626" stroke-width="1.6"/>
<text class="tk" transform="translate(801.3,475.3) scale(1,1.06)" text-anchor="end">0.0</text>
<line x1="809.1" x2="815.6" y1="369.9" y2="369.9" stroke="#262626" stroke-width="1.6"/>
<text class="tk" transform="translate(801.3,378.2) scale(1,1.06)" text-anchor="end">0.2</text>
<line x1="809.1" x2="815.6" y1="272.8" y2="272.8" stroke="#262626" stroke-width="1.6"/>
<text class="tk" transform="translate(801.3,281.1) scale(1,1.06)" text-anchor="end">0.4</text>
<line x1="809.1" x2="815.6" y1="175.8" y2="175.8" stroke="#262626" stroke-width="1.6"/>
<text class="tk" transform="translate(801.3,184.1) scale(1,1.06)" text-anchor="end">0.6</text>
<line x1="809.1" x2="815.6" y1="78.7" y2="78.7" stroke="#262626" stroke-width="1.6"/>
<text class="tk" transform="translate(801.3,87.0) scale(1,1.06)" text-anchor="end">0.8</text>
<text class="al" x="1126.6" y="526.6" text-anchor="middle">Round</text>
<text class="al" transform="translate(763.3,237.4) rotate(-90)" text-anchor="middle">Ratio</text>
<rect x="1279.3" y="15.6" width="151.6" height="78" rx="3.5" fill="#fff" fill-opacity="0.8" stroke="#cccccc" stroke-width="1.2"/>
<line x1="1285.6" x2="1321.5" y1="28.2" y2="28.2" stroke="#008000" stroke-width="1.05" stroke-opacity="0.8"/>
<text class="lg" x="1335.3" y="33.2">Win Ratio</text>
<line x1="1285.6" x2="1321.5" y1="52.4" y2="52.4" stroke="#ff0000" stroke-width="0.95" stroke-opacity="0.8"/>
<text class="lg" x="1335.3" y="57.4">Loss Ratio</text>
<line x1="1285.6" x2="1321.5" y1="77.1" y2="77.1" stroke="#0000ff" stroke-width="1.1" stroke-opacity="0.8"/>
<text class="lg" x="1335.3" y="82.1">Draw Ratio</text>
</g>
<clipPath id="ax3"><rect x="1552.7" y="7.3" width="622.3" height="462.0"/></clipPath>
<clipPath id="img3"><rect x="1455" y="0" width="744" height="545"/></clipPath>
<g clip-path="url(#img3)">
<g clip-path="url(#ax3)">
<path d="M1552.7,425.0 L1553.5,383.1 L1554.3,349.8 L1555.0,315.7 L1555.8,309.7 L1556.6,307.9 L1557.4,303.7 L1558.1,302.1 L1558.9,302.2 L1559.7,302.1 L1560.5,306.8 L1561.3,304.0 L1562.0,297.4 L1562.8,292.9 L1563.6,289.8 L1564.4,285.6 L1565.1,284.1 L1565.9,288.4 L1566.7,287.4 L1567.5,287.9 L1568.3,286.4 L1569.0,286.3 L1569.8,281.1 L1570.6,277.6 L1571.4,275.5 L1572.1,279.6 L1572.9,281.2 L1573.7,276.7 L1574.5,276.7 L1575.3,275.7 L1576.0,277.8 L1576.8,279.2 L1577.6,279.1 L1578.4,282.2 L1579.1,281.9 L1579.9,278.3 L1580.7,277.5 L1581.5,277.6 L1582.3,278.9 L1583.0,281.0 L1583.8,278.3 L1585.4,276.1 L1586.9,273.1 L1588.5,270.1 L1590.0,264.8 L1591.6,261.2 L1593.2,258.5 L1594.7,257.2 L1596.3,255.9 L1597.8,253.5 L1599.4,250.4 L1600.9,250.0 L1602.5,248.6 L1604.0,249.8 L1605.6,249.3 L1607.2,247.8 L1608.7,244.0 L1610.3,242.8 L1611.8,242.1 L1613.4,240.6 L1614.9,240.0 L1616.5,237.9 L1618.0,237.3 L1619.6,233.9 L1621.2,232.4 L1622.7,229.8 L1624.3,229.4 L1625.8,226.5 L1627.4,222.5 L1628.9,219.1 L1630.5,215.0 L1632.0,211.5 L1633.6,208.6 L1635.2,207.1 L1636.7,204.9 L1638.3,200.8 L1639.8,198.4 L1641.4,196.2 L1642.9,193.4 L1644.5,191.2 L1646.0,189.7 L1647.6,189.1 L1649.2,186.6 L1650.7,184.6 L1652.3,183.8 L1653.8,184.1 L1655.4,182.6 L1656.9,180.9 L1658.5,179.1 L1660.1,177.7 L1661.6,176.7 L1663.2,175.8 L1664.7,174.1 L1666.3,173.0 L1667.8,171.7 L1669.4,170.7 L1670.9,169.6 L1672.5,168.1 L1674.1,166.9 L1675.6,166.2 L1677.2,165.2 L1678.7,164.4 L1680.3,163.5 L1681.8,163.3 L1683.4,163.2 L1684.9,162.2 L1686.5,161.7 L1688.1,161.1 L1689.6,160.6 L1691.2,158.6 L1692.7,158.1 L1694.3,158.0 L1695.8,157.7 L1697.4,156.7 L1698.9,156.3 L1700.5,155.8 L1702.1,153.9 L1703.6,153.6 L1705.2,153.0 L1706.7,152.3 L1708.3,151.3 L1709.8,150.4 L1711.4,149.7 L1712.9,148.6 L1714.5,147.8 L1716.1,146.9 L1717.6,145.9 L1719.2,145.2 L1720.7,144.3 L1722.3,143.2 L1723.8,141.9 L1725.4,141.3 L1726.9,139.8 L1728.5,138.4 L1730.1,137.3 L1731.6,136.8 L1733.2,136.1 L1734.7,134.2 L1736.3,132.8 L1737.8,132.6 L1739.4,131.6 L1741.0,130.4 L1742.5,129.5 L1744.1,128.7 L1745.6,127.6 L1747.2,126.6 L1748.7,125.5 L1750.3,124.5 L1751.8,123.0 L1753.4,122.4 L1755.0,121.6 L1756.5,120.8 L1758.1,120.2 L1759.6,118.8 L1761.2,117.5 L1762.7,116.6 L1764.3,116.6 L1765.8,115.2 L1767.4,114.1 L1769.0,113.8 L1770.5,112.9 L1772.1,112.2 L1773.6,111.6 L1775.2,110.3 L1776.7,109.3 L1778.3,108.5 L1779.8,107.6 L1781.4,107.2 L1783.0,106.2 L1784.5,105.2 L1786.1,104.8 L1787.6,104.0 L1789.2,102.9 L1790.7,102.1 L1792.3,101.0 L1793.8,100.6 L1795.4,99.3 L1797.0,98.4 L1798.5,97.2 L1800.1,96.2 L1801.6,95.4 L1803.2,94.8 L1804.7,93.9 L1806.3,93.3 L1807.9,92.5 L1809.4,90.9 L1811.0,90.4 L1812.5,90.3 L1814.1,89.6 L1815.6,88.9 L1817.2,88.4 L1818.7,86.9 L1820.3,86.1 L1821.9,85.6 L1823.4,85.4 L1825.0,85.2 L1826.5,84.6 L1828.1,84.2 L1829.6,83.7 L1831.2,83.0 L1832.7,82.1 L1834.3,81.5 L1835.9,81.2 L1837.4,81.0 L1839.0,80.9 L1840.5,80.7 L1842.1,80.2 L1843.6,80.1 L1845.2,79.9 L1846.7,78.9 L1848.3,79.0 L1849.9,78.6 L1851.4,78.9 L1853.0,78.7 L1854.5,79.0 L1856.1,78.7 L1857.6,78.1 L1859.2,77.6 L1860.7,77.3 L1862.3,77.0 L1863.9,77.3 L1865.4,77.1 L1867.0,76.9 L1868.5,76.7 L1870.1,76.0 L1871.6,75.4 L1873.2,75.1 L1874.8,74.7 L1876.3,74.6 L1877.9,74.3 L1879.4,73.9 L1881.0,73.5 L1882.5,73.2 L1884.1,72.9 L1885.6,72.8 L1887.2,72.7 L1888.8,72.6 L1890.3,72.5 L1891.9,72.2 L1893.4,72.0 L1895.0,71.3 L1896.5,70.7 L1898.1,70.2 L1899.6,70.3 L1901.2,70.1 L1902.8,70.0 L1904.3,69.4 L1905.9,69.3 L1907.4,68.9 L1909.0,68.0 L1910.5,67.2 L1912.1,66.9 L1913.6,66.7 L1915.2,66.5 L1916.8,66.4 L1918.3,66.1 L1919.9,65.6 L1921.4,64.9 L1923.0,64.9 L1924.5,64.4 L1926.1,64.0 L1927.6,63.2 L1929.2,62.9 L1930.8,62.6 L1932.3,62.2 L1933.9,61.5 L1935.4,61.5 L1937.0,61.2 L1938.5,60.7 L1940.1,60.4 L1941.7,59.7 L1943.2,59.4 L1944.8,59.4 L1946.3,59.3 L1947.9,59.5 L1949.4,58.9 L1951.0,58.5 L1952.5,58.5 L1954.1,58.4 L1955.7,57.8 L1957.2,57.5 L1958.8,57.2 L1960.3,57.1 L1961.9,57.0 L1963.4,56.9 L1965.0,56.5 L1966.5,56.0 L1968.1,55.7 L1969.7,55.6 L1971.2,55.1 L1972.8,54.8 L1974.3,54.7 L1975.9,54.7 L1977.4,54.6 L1979.0,54.2 L1980.5,53.9 L1982.1,54.1 L1983.7,54.1 L1985.2,54.1 L1986.8,53.7 L1988.3,53.3 L1989.9,53.0 L1991.4,52.6 L1993.0,52.5 L1994.5,52.4 L1996.1,52.6 L1997.7,53.1 L1999.2,53.1 L2000.8,52.5 L2002.3,51.9 L2003.9,51.7 L2005.4,51.3 L2007.0,51.3 L2008.5,51.6 L2010.1,52.0 L2011.7,51.8 L2013.2,51.8 L2014.8,51.7 L2016.3,51.6 L2017.9,51.3 L2019.4,51.1 L2021.0,50.7 L2022.6,50.7 L2024.1,51.0 L2025.7,50.9 L2027.2,50.7 L2028.8,50.2 L2030.3,50.2 L2031.9,50.5 L2033.4,50.2 L2035.0,50.2 L2036.6,50.3 L2038.1,49.8 L2039.7,49.7 L2041.2,49.6 L2042.8,49.9 L2044.3,49.8 L2045.9,49.7 L2047.4,49.4 L2049.0,49.2 L2050.6,48.9 L2052.1,48.6 L2053.7,49.2 L2055.2,49.4 L2056.8,49.0 L2058.3,48.8 L2059.9,48.7 L2061.4,48.8 L2063.0,48.4 L2064.6,48.1 L2066.1,48.5 L2067.7,48.3 L2069.2,47.9 L2070.8,47.8 L2072.3,47.6 L2073.9,47.3 L2075.4,47.2 L2077.0,47.0 L2078.6,46.7 L2080.1,46.6 L2081.7,46.6 L2083.2,46.4 L2084.8,46.0 L2086.3,46.1 L2087.9,46.1 L2089.5,45.6 L2091.0,45.8 L2092.6,45.7 L2094.1,45.5 L2095.7,45.2 L2097.2,44.9 L2098.8,44.6 L2100.3,44.5 L2101.9,44.7 L2103.5,44.3 L2105.0,44.0 L2106.6,44.1 L2108.1,43.9 L2109.7,43.5 L2111.2,43.3 L2112.8,43.2 L2114.3,43.1 L2115.9,43.3 L2117.5,43.0 L2119.0,42.8 L2120.6,42.4 L2122.1,42.4 L2123.7,42.1 L2125.2,42.2 L2126.8,42.0 L2128.3,41.5 L2129.9,41.3 L2131.5,41.4 L2133.0,41.3 L2134.6,41.2 L2136.1,41.1 L2137.7,41.0 L2139.2,40.7 L2140.8,40.4 L2142.3,40.1 L2143.9,40.2 L2145.5,39.7 L2147.0,39.8 L2148.6,39.3 L2150.1,39.1 L2151.7,38.8 L2153.2,38.9 L2154.8,38.7 L2156.4,38.1 L2157.9,37.6 L2159.5,37.5 L2161.0,37.7 L2162.6,37.6 L2164.1,37.3 L2165.7,37.0 L2167.2,37.1 L2168.8,36.7 L2170.4,36.1 L2171.9,35.8 L2173.5,36.0 L2175.0,35.6 L2175.0,227.9 L2173.5,228.4 L2171.9,228.1 L2170.4,228.2 L2168.8,228.2 L2167.2,228.2 L2165.7,228.5 L2164.1,228.9 L2162.6,229.0 L2161.0,228.7 L2159.5,228.7 L2157.9,228.8 L2156.4,229.1 L2154.8,229.4 L2153.2,229.4 L2151.7,229.2 L2150.1,229.3 L2148.6,229.4 L2147.0,229.9 L2145.5,230.0 L2143.9,230.3 L2142.3,230.3 L2140.8,230.4 L2139.2,230.7 L2137.7,230.9 L2136.1,230.5 L2134.6,230.4 L2133.0,230.8 L2131.5,230.7 L2129.9,230.7 L2128.3,231.1 L2126.8,231.1 L2125.2,231.3 L2123.7,231.2 L2122.1,231.1 L2120.6,231.0 L2119.0,231.5 L2117.5,231.8 L2115.9,232.0 L2114.3,232.0 L2112.8,232.0 L2111.2,231.8 L2109.7,232.2 L2108.1,232.6 L2106.6,232.7 L2105.0,232.6 L2103.5,232.7 L2101.9,232.8 L2100.3,232.5 L2098.8,232.5 L2097.2,233.0 L2095.7,233.1 L2094.1,233.3 L2092.6,233.6 L2091.0,233.3 L2089.5,233.3 L2087.9,233.6 L2086.3,233.5 L2084.8,233.9 L2083.2,234.1 L2081.7,234.2 L2080.1,234.3 L2078.6,234.6 L2077.0,234.8 L2075.4,234.9 L2073.9,235.2 L2072.3,235.2 L2070.8,235.2 L2069.2,235.3 L2067.7,235.3 L2066.1,235.6 L2064.6,235.5 L2063.0,235.8 L2061.4,236.0 L2059.9,235.9 L2058.3,235.9 L2056.8,236.0 L2055.2,236.5 L2053.7,236.2 L2052.1,235.5 L2050.6,235.7 L2049.0,236.2 L2047.4,236.5 L2045.9,236.5 L2044.3,236.5 L2042.8,236.4 L2041.2,235.8 L2039.7,236.1 L2038.1,236.3 L2036.6,236.3 L2035.0,236.4 L2033.4,236.1 L2031.9,235.8 L2030.3,235.9 L2028.8,236.1 L2027.2,236.2 L2025.7,236.2 L2024.1,236.2 L2022.6,236.1 L2021.0,236.0 L2019.4,236.0 L2017.9,235.9 L2016.3,236.0 L2014.8,236.3 L2013.2,236.3 L2011.7,236.2 L2010.1,236.7 L2008.5,236.3 L2007.0,235.8 L2005.4,235.4 L2003.9,235.4 L2002.3,235.5 L2000.8,235.5 L1999.2,235.6 L1997.7,235.6 L1996.1,235.1 L1994.5,234.9 L1993.0,235.1 L1991.4,235.2 L1989.9,235.4 L1988.3,235.2 L1986.8,235.2 L1985.2,235.4 L1983.7,235.5 L1982.1,235.2 L1980.5,235.0 L1979.0,235.0 L1977.4,234.7 L1975.9,234.5 L1974.3,234.8 L1972.8,234.5 L1971.2,234.4 L1969.7,234.9 L1968.1,234.5 L1966.5,234.6 L1965.0,234.9 L1963.4,234.7 L1961.9,234.5 L1960.3,234.9 L1958.8,234.9 L1957.2,235.0 L1955.7,235.2 L1954.1,235.5 L1952.5,235.5 L1951.0,235.8 L1949.4,235.4 L1947.9,235.6 L1946.3,235.8 L1944.8,235.8 L1943.2,235.8 L1941.7,236.1 L1940.1,236.2 L1938.5,236.2 L1937.0,236.5 L1935.4,236.8 L1933.9,237.0 L1932.3,237.4 L1930.8,237.4 L1929.2,237.2 L1927.6,237.1 L1926.1,238.0 L1924.5,238.2 L1923.0,238.4 L1921.4,238.3 L1919.9,238.7 L1918.3,238.7 L1916.8,238.4 L1915.2,238.7 L1913.6,239.0 L1912.1,238.8 L1910.5,239.0 L1909.0,239.8 L1907.4,240.2 L1905.9,240.3 L1904.3,240.3 L1902.8,240.2 L1901.2,240.3 L1899.6,240.3 L1898.1,239.9 L1896.5,240.2 L1895.0,240.3 L1893.4,240.1 L1891.9,239.9 L1890.3,240.5 L1888.8,240.9 L1887.2,240.5 L1885.6,239.8 L1884.1,239.9 L1882.5,239.9 L1881.0,239.8 L1879.4,240.0 L1877.9,240.1 L1876.3,240.1 L1874.8,240.1 L1873.2,239.9 L1871.6,239.7 L1870.1,240.3 L1868.5,240.3 L1867.0,240.2 L1865.4,240.4 L1863.9,240.0 L1862.3,240.0 L1860.7,240.0 L1859.2,240.0 L1857.6,240.5 L1856.1,240.5 L1854.5,240.7 L1853.0,240.7 L1851.4,240.5 L1849.9,240.0 L1848.3,240.5 L1846.7,240.5 L1845.2,240.9 L1843.6,241.2 L1842.1,241.3 L1840.5,241.3 L1839.0,241.3 L1837.4,241.0 L1835.9,241.0 L1834.3,241.4 L1832.7,241.8 L1831.2,241.7 L1829.6,242.1 L1828.1,242.2 L1826.5,242.3 L1825.0,242.8 L1823.4,242.3 L1821.9,241.4 L1820.3,241.6 L1818.7,242.1 L1817.2,242.6 L1815.6,243.1 L1814.1,243.2 L1812.5,243.1 L1811.0,243.1 L1809.4,242.6 L1807.9,243.0 L1806.3,243.6 L1804.7,243.9 L1803.2,244.1 L1801.6,244.5 L1800.1,244.9 L1798.5,244.9 L1797.0,245.3 L1795.4,245.7 L1793.8,246.7 L1792.3,246.6 L1790.7,247.5 L1789.2,247.9 L1787.6,248.0 L1786.1,248.0 L1784.5,247.9 L1783.0,248.2 L1781.4,249.0 L1779.8,249.0 L1778.3,248.6 L1776.7,249.0 L1775.2,249.6 L1773.6,250.1 L1772.1,250.0 L1770.5,249.8 L1769.0,250.4 L1767.4,250.5 L1765.8,250.7 L1764.3,250.6 L1762.7,249.8 L1761.2,250.0 L1759.6,250.9 L1758.1,251.3 L1756.5,251.1 L1755.0,250.5 L1753.4,250.2 L1751.8,249.7 L1750.3,249.3 L1748.7,249.8 L1747.2,250.1 L1745.6,250.0 L1744.1,249.5 L1742.5,249.4 L1741.0,249.8 L1739.4,249.7 L1737.8,249.8 L1736.3,249.0 L1734.7,249.3 L1733.2,249.8 L1731.6,250.2 L1730.1,250.6 L1728.5,251.4 L1726.9,251.6 L1725.4,252.1 L1723.8,252.3 L1722.3,252.4 L1720.7,252.5 L1719.2,254.1 L1717.6,255.2 L1716.1,255.0 L1714.5,255.1 L1712.9,255.5 L1711.4,256.7 L1709.8,257.0 L1708.3,256.7 L1706.7,258.0 L1705.2,259.0 L1703.6,260.3 L1702.1,261.3 L1700.5,263.0 L1698.9,263.9 L1697.4,265.0 L1695.8,266.2 L1694.3,267.1 L1692.7,268.2 L1691.2,268.6 L1689.6,269.6 L1688.1,270.6 L1686.5,272.0 L1684.9,272.9 L1683.4,274.0 L1681.8,273.8 L1680.3,274.0 L1678.7,274.6 L1677.2,274.7 L1675.6,275.7 L1674.1,276.0 L1672.5,276.1 L1670.9,276.4 L1669.4,276.8 L1667.8,278.0 L1666.3,279.1 L1664.7,280.0 L1663.2,282.8 L1661.6,283.6 L1660.1,283.6 L1658.5,285.1 L1656.9,286.4 L1655.4,286.5 L1653.8,287.0 L1652.3,287.5 L1650.7,288.5 L1649.2,289.4 L1647.6,290.5 L1646.0,290.2 L1644.5,291.9 L1642.9,292.2 L1641.4,293.1 L1639.8,294.5 L1638.3,293.5 L1636.7,293.9 L1635.2,294.8 L1633.6,295.0 L1632.0,294.7 L1630.5,295.4 L1628.9,297.6 L1627.4,299.5 L1625.8,299.7 L1624.3,300.2 L1622.7,300.1 L1621.2,301.8 L1619.6,302.7 L1618.0,304.3 L1616.5,303.0 L1614.9,305.4 L1613.4,307.7 L1611.8,308.6 L1610.3,308.0 L1608.7,309.3 L1607.2,311.6 L1605.6,311.8 L1604.0,313.3 L1602.5,312.1 L1600.9,312.0 L1599.4,311.1 L1597.8,314.1 L1596.3,315.8 L1594.7,316.7 L1593.2,315.2 L1591.6,317.5 L1590.0,318.6 L1588.5,319.3 L1586.9,320.5 L1585.4,322.1 L1583.8,322.2 L1583.0,323.6 L1582.3,323.7 L1581.5,324.6 L1580.7,327.6 L1579.9,330.9 L1579.1,334.2 L1578.4,335.8 L1577.6,339.4 L1576.8,340.5 L1576.0,337.9 L1575.3,336.4 L1574.5,335.8 L1573.7,336.7 L1572.9,339.2 L1572.1,335.6 L1571.4,331.6 L1570.6,335.3 L1569.8,343.6 L1569.0,351.7 L1568.3,355.6 L1567.5,361.7 L1566.7,364.6 L1565.9,375.8 L1565.1,378.8 L1564.4,378.7 L1563.6,383.5 L1562.8,384.0 L1562.0,383.3 L1561.3,382.4 L1560.5,386.8 L1559.7,389.5 L1558.9,394.1 L1558.1,398.8 L1557.4,403.3 L1556.6,411.3 L1555.8,423.0 L1555.0,426.7 L1554.3,434.3 L1553.5,443.6 L1552.7,447.5Z" fill="#008000" fill-opacity="0.3" stroke="#008000" stroke-opacity="0.35" stroke-width="1.1" stroke-linejoin="round"/>
<path d="M1552.7,152.0 L1553.5,145.5 L1554.3,144.9 L1555.0,151.7 L1555.8,167.0 L1556.6,179.8 L1557.4,193.0 L1558.1,200.6 L1558.9,194.4 L1559.7,190.4 L1560.5,193.2 L1561.3,194.1 L1562.0,195.7 L1562.8,197.8 L1563.6,200.9 L1564.4,201.9 L1565.1,205.1 L1565.9,208.2 L1566.7,209.5 L1567.5,212.4 L1568.3,214.5 L1569.0,217.7 L1569.8,219.9 L1570.6,219.6 L1571.4,218.9 L1572.1,222.2 L1572.9,224.9 L1573.7,226.2 L1574.5,227.2 L1575.3,228.3 L1576.0,229.1 L1576.8,230.1 L1577.6,231.7 L1578.4,231.7 L1579.1,235.4 L1579.9,235.4 L1580.7,237.8 L1581.5,238.8 L1582.3,238.3 L1583.0,237.3 L1583.8,238.3 L1585.4,241.6 L1586.9,241.6 L1588.5,242.1 L1590.0,241.5 L1591.6,243.1 L1593.2,244.1 L1594.7,245.5 L1596.3,245.0 L1597.8,243.9 L1599.4,244.2 L1600.9,245.9 L1602.5,245.4 L1604.0,244.9 L1605.6,246.9 L1607.2,248.5 L1608.7,250.9 L1610.3,252.5 L1611.8,252.2 L1613.4,254.6 L1614.9,256.4 L1616.5,256.8 L1618.0,257.3 L1619.6,257.4 L1621.2,257.9 L1622.7,259.2 L1624.3,260.3 L1625.8,261.1 L1627.4,262.1 L1628.9,263.3 L1630.5,264.2 L1632.0,264.6 L1633.6,265.4 L1635.2,267.0 L1636.7,267.8 L1638.3,269.2 L1639.8,269.5 L1641.4,270.6 L1642.9,272.1 L1644.5,273.4 L1646.0,273.7 L1647.6,273.2 L1649.2,273.6 L1650.7,274.1 L1652.3,275.4 L1653.8,276.7 L1655.4,277.3 L1656.9,276.1 L1658.5,277.2 L1660.1,278.6 L1661.6,278.6 L1663.2,279.5 L1664.7,280.8 L1666.3,282.0 L1667.8,282.5 L1669.4,283.9 L1670.9,283.9 L1672.5,285.1 L1674.1,286.2 L1675.6,287.1 L1677.2,288.7 L1678.7,289.3 L1680.3,289.3 L1681.8,288.9 L1683.4,289.0 L1684.9,289.3 L1686.5,291.1 L1688.1,291.5 L1689.6,292.4 L1691.2,292.3 L1692.7,293.1 L1694.3,294.3 L1695.8,295.1 L1697.4,297.0 L1698.9,298.3 L1700.5,299.9 L1702.1,301.3 L1703.6,301.6 L1705.2,301.6 L1706.7,303.1 L1708.3,304.1 L1709.8,304.3 L1711.4,305.2 L1712.9,305.9 L1714.5,306.2 L1716.1,306.7 L1717.6,307.1 L1719.2,307.9 L1720.7,307.8 L1722.3,309.1 L1723.8,309.9 L1725.4,310.2 L1726.9,310.6 L1728.5,311.6 L1730.1,312.0 L1731.6,311.8 L1733.2,311.8 L1734.7,312.2 L1736.3,312.8 L1737.8,313.5 L1739.4,314.1 L1741.0,314.7 L1742.5,314.8 L1744.1,314.4 L1745.6,315.2 L1747.2,315.8 L1748.7,316.2 L1750.3,316.4 L1751.8,316.2 L1753.4,316.0 L1755.0,316.6 L1756.5,317.6 L1758.1,318.2 L1759.6,318.9 L1761.2,318.6 L1762.7,318.4 L1764.3,318.5 L1765.8,319.0 L1767.4,319.3 L1769.0,319.8 L1770.5,320.0 L1772.1,320.3 L1773.6,320.8 L1775.2,321.3 L1776.7,321.5 L1778.3,321.8 L1779.8,322.0 L1781.4,322.1 L1783.0,322.8 L1784.5,323.0 L1786.1,322.8 L1787.6,323.0 L1789.2,323.3 L1790.7,323.7 L1792.3,324.2 L1793.8,324.6 L1795.4,324.3 L1797.0,324.7 L1798.5,325.7 L1800.1,326.3 L1801.6,326.5 L1803.2,326.6 L1804.7,326.9 L1806.3,327.0 L1807.9,327.5 L1809.4,328.0 L1811.0,328.5 L1812.5,328.6 L1814.1,329.0 L1815.6,329.2 L1817.2,329.3 L1818.7,329.6 L1820.3,329.6 L1821.9,330.1 L1823.4,330.6 L1825.0,330.8 L1826.5,331.2 L1828.1,331.7 L1829.6,332.1 L1831.2,332.6 L1832.7,333.5 L1834.3,333.9 L1835.9,333.8 L1837.4,333.8 L1839.0,334.0 L1840.5,334.2 L1842.1,334.5 L1843.6,334.3 L1845.2,334.2 L1846.7,334.5 L1848.3,335.0 L1849.9,335.2 L1851.4,335.5 L1853.0,335.7 L1854.5,336.0 L1856.1,336.2 L1857.6,336.6 L1859.2,337.4 L1860.7,337.8 L1862.3,337.6 L1863.9,337.8 L1865.4,337.9 L1867.0,337.8 L1868.5,337.8 L1870.1,338.3 L1871.6,338.6 L1873.2,338.2 L1874.8,338.0 L1876.3,338.6 L1877.9,338.8 L1879.4,338.7 L1881.0,338.5 L1882.5,338.6 L1884.1,338.2 L1885.6,338.9 L1887.2,339.4 L1888.8,339.2 L1890.3,338.8 L1891.9,339.1 L1893.4,339.4 L1895.0,339.8 L1896.5,339.6 L1898.1,339.6 L1899.6,339.9 L1901.2,340.1 L1902.8,339.9 L1904.3,340.2 L1905.9,340.3 L1907.4,340.6 L1909.0,340.4 L1910.5,340.7 L1912.1,340.7 L1913.6,340.5 L1915.2,341.0 L1916.8,341.1 L1918.3,340.9 L1919.9,340.6 L1921.4,340.7 L1923.0,341.0 L1924.5,341.2 L1926.1,341.2 L1927.6,341.4 L1929.2,341.5 L1930.8,341.4 L1932.3,341.3 L1933.9,341.4 L1935.4,341.9 L1937.0,342.1 L1938.5,342.2 L1940.1,342.4 L1941.7,342.3 L1943.2,342.1 L1944.8,342.0 L1946.3,341.9 L1947.9,341.9 L1949.4,342.2 L1951.0,342.3 L1952.5,342.0 L1954.1,341.9 L1955.7,341.6 L1957.2,341.6 L1958.8,342.2 L1960.3,342.1 L1961.9,341.9 L1963.4,341.9 L1965.0,342.2 L1966.5,342.0 L1968.1,341.9 L1969.7,341.9 L1971.2,341.8 L1972.8,341.6 L1974.3,341.9 L1975.9,342.3 L1977.4,342.3 L1979.0,341.9 L1980.5,341.7 L1982.1,341.6 L1983.7,341.8 L1985.2,341.5 L1986.8,341.4 L1988.3,341.2 L1989.9,341.2 L1991.4,341.6 L1993.0,341.9 L1994.5,341.8 L1996.1,341.8 L1997.7,341.6 L1999.2,341.7 L2000.8,341.8 L2002.3,341.8 L2003.9,341.5 L2005.4,341.5 L2007.0,341.4 L2008.5,341.4 L2010.1,341.7 L2011.7,341.7 L2013.2,341.7 L2014.8,341.6 L2016.3,341.8 L2017.9,341.8 L2019.4,342.0 L2021.0,342.1 L2022.6,341.8 L2024.1,341.8 L2025.7,341.8 L2027.2,341.5 L2028.8,341.4 L2030.3,341.3 L2031.9,341.5 L2033.4,341.7 L2035.0,341.7 L2036.6,341.8 L2038.1,341.7 L2039.7,341.9 L2041.2,341.8 L2042.8,341.7 L2044.3,341.6 L2045.9,341.5 L2047.4,341.7 L2049.0,341.5 L2050.6,341.4 L2052.1,341.6 L2053.7,342.0 L2055.2,342.0 L2056.8,341.7 L2058.3,341.6 L2059.9,342.1 L2061.4,342.2 L2063.0,341.9 L2064.6,341.7 L2066.1,341.8 L2067.7,341.7 L2069.2,341.7 L2070.8,341.6 L2072.3,341.9 L2073.9,342.2 L2075.4,342.3 L2077.0,342.1 L2078.6,341.9 L2080.1,341.5 L2081.7,341.5 L2083.2,341.6 L2084.8,341.6 L2086.3,341.8 L2087.9,341.9 L2089.5,342.1 L2091.0,342.3 L2092.6,342.3 L2094.1,342.3 L2095.7,342.3 L2097.2,342.4 L2098.8,342.5 L2100.3,342.2 L2101.9,342.2 L2103.5,342.0 L2105.0,341.9 L2106.6,341.8 L2108.1,342.2 L2109.7,342.0 L2111.2,342.2 L2112.8,342.1 L2114.3,342.3 L2115.9,342.4 L2117.5,342.4 L2119.0,342.6 L2120.6,342.7 L2122.1,342.6 L2123.7,342.9 L2125.2,342.7 L2126.8,342.6 L2128.3,342.2 L2129.9,342.3 L2131.5,342.3 L2133.0,342.4 L2134.6,342.8 L2136.1,342.4 L2137.7,342.6 L2139.2,342.5 L2140.8,342.6 L2142.3,342.6 L2143.9,342.8 L2145.5,342.6 L2147.0,342.5 L2148.6,342.5 L2150.1,342.7 L2151.7,342.7 L2153.2,342.6 L2154.8,342.7 L2156.4,342.9 L2157.9,342.6 L2159.5,342.9 L2161.0,342.9 L2162.6,342.9 L2164.1,343.0 L2165.7,343.0 L2167.2,342.9 L2168.8,342.9 L2170.4,343.1 L2171.9,343.2 L2173.5,342.9 L2175.0,343.0 L2175.0,377.4 L2173.5,377.4 L2171.9,377.5 L2170.4,377.2 L2168.8,376.9 L2167.2,376.9 L2165.7,377.0 L2164.1,376.8 L2162.6,376.8 L2161.0,376.8 L2159.5,376.9 L2157.9,376.7 L2156.4,376.8 L2154.8,376.6 L2153.2,376.2 L2151.7,376.0 L2150.1,375.9 L2148.6,375.9 L2147.0,375.9 L2145.5,375.8 L2143.9,375.9 L2142.3,375.7 L2140.8,375.7 L2139.2,375.5 L2137.7,375.7 L2136.1,375.4 L2134.6,375.3 L2133.0,374.9 L2131.5,374.7 L2129.9,374.7 L2128.3,374.8 L2126.8,375.0 L2125.2,374.9 L2123.7,375.1 L2122.1,374.8 L2120.6,374.6 L2119.0,374.4 L2117.5,374.3 L2115.9,374.3 L2114.3,374.2 L2112.8,373.7 L2111.2,373.7 L2109.7,373.7 L2108.1,373.8 L2106.6,373.5 L2105.0,373.5 L2103.5,373.6 L2101.9,373.7 L2100.3,373.3 L2098.8,373.4 L2097.2,373.3 L2095.7,373.3 L2094.1,373.2 L2092.6,373.1 L2091.0,373.1 L2089.5,373.3 L2087.9,372.9 L2086.3,372.6 L2084.8,372.5 L2083.2,372.4 L2081.7,372.6 L2080.1,372.7 L2078.6,372.8 L2077.0,372.9 L2075.4,372.8 L2073.9,372.7 L2072.3,372.9 L2070.8,372.7 L2069.2,372.6 L2067.7,372.3 L2066.1,372.4 L2064.6,372.5 L2063.0,372.6 L2061.4,372.6 L2059.9,372.8 L2058.3,372.4 L2056.8,372.0 L2055.2,372.3 L2053.7,372.4 L2052.1,372.1 L2050.6,372.0 L2049.0,371.8 L2047.4,372.0 L2045.9,371.9 L2044.3,371.8 L2042.8,372.1 L2041.2,372.3 L2039.7,372.3 L2038.1,372.1 L2036.6,371.9 L2035.0,371.8 L2033.4,371.7 L2031.9,371.7 L2030.3,371.6 L2028.8,371.8 L2027.2,371.9 L2025.7,371.9 L2024.1,372.1 L2022.6,371.9 L2021.0,371.5 L2019.4,371.3 L2017.9,371.3 L2016.3,371.4 L2014.8,371.4 L2013.2,371.5 L2011.7,371.4 L2010.1,371.5 L2008.5,371.6 L2007.0,371.8 L2005.4,371.9 L2003.9,371.5 L2002.3,371.4 L2000.8,371.2 L1999.2,371.3 L1997.7,371.4 L1996.1,371.7 L1994.5,371.7 L1993.0,371.7 L1991.4,371.3 L1989.9,370.9 L1988.3,370.7 L1986.8,370.8 L1985.2,370.9 L1983.7,370.8 L1982.1,371.0 L1980.5,371.4 L1979.0,371.4 L1977.4,371.5 L1975.9,371.2 L1974.3,371.0 L1972.8,370.9 L1971.2,370.9 L1969.7,370.8 L1968.1,371.2 L1966.5,371.3 L1965.0,371.1 L1963.4,371.2 L1961.9,371.3 L1960.3,371.0 L1958.8,370.8 L1957.2,370.6 L1955.7,370.5 L1954.1,370.5 L1952.5,370.2 L1951.0,370.3 L1949.4,370.4 L1947.9,370.3 L1946.3,370.1 L1944.8,369.8 L1943.2,369.7 L1941.7,370.0 L1940.1,369.9 L1938.5,369.8 L1937.0,369.5 L1935.4,369.0 L1933.9,368.8 L1932.3,368.7 L1930.8,368.7 L1929.2,368.4 L1927.6,368.4 L1926.1,368.1 L1924.5,367.6 L1923.0,367.3 L1921.4,367.4 L1919.9,367.2 L1918.3,367.3 L1916.8,367.3 L1915.2,366.8 L1913.6,366.1 L1912.1,365.9 L1910.5,366.0 L1909.0,365.9 L1907.4,366.0 L1905.9,365.3 L1904.3,365.0 L1902.8,364.8 L1901.2,365.2 L1899.6,365.2 L1898.1,365.1 L1896.5,364.9 L1895.0,365.0 L1893.4,364.6 L1891.9,364.4 L1890.3,364.3 L1888.8,364.7 L1887.2,364.8 L1885.6,364.6 L1884.1,364.1 L1882.5,364.2 L1881.0,364.3 L1879.4,364.8 L1877.9,364.6 L1876.3,364.7 L1874.8,364.4 L1873.2,364.6 L1871.6,364.7 L1870.1,364.7 L1868.5,364.8 L1867.0,364.8 L1865.4,364.7 L1863.9,364.5 L1862.3,364.4 L1860.7,364.9 L1859.2,364.9 L1857.6,364.2 L1856.1,364.1 L1854.5,363.9 L1853.0,364.1 L1851.4,364.2 L1849.9,363.6 L1848.3,363.4 L1846.7,363.3 L1845.2,363.7 L1843.6,363.5 L1842.1,363.4 L1840.5,363.6 L1839.0,363.6 L1837.4,363.0 L1835.9,363.1 L1834.3,363.3 L1832.7,363.2 L1831.2,362.4 L1829.6,362.2 L1828.1,361.9 L1826.5,361.6 L1825.0,361.2 L1823.4,361.1 L1821.9,361.0 L1820.3,360.7 L1818.7,360.5 L1817.2,360.3 L1815.6,360.3 L1814.1,360.0 L1812.5,359.8 L1811.0,359.7 L1809.4,359.5 L1807.9,359.1 L1806.3,358.7 L1804.7,358.7 L1803.2,358.4 L1801.6,358.2 L1800.1,357.6 L1798.5,357.2 L1797.0,356.6 L1795.4,356.2 L1793.8,356.0 L1792.3,356.0 L1790.7,355.8 L1789.2,355.3 L1787.6,355.2 L1786.1,355.2 L1784.5,354.9 L1783.0,354.9 L1781.4,354.9 L1779.8,354.5 L1778.3,354.2 L1776.7,353.8 L1775.2,353.3 L1773.6,353.3 L1772.1,352.8 L1770.5,352.5 L1769.0,352.7 L1767.4,352.3 L1765.8,352.0 L1764.3,351.3 L1762.7,351.3 L1761.2,351.5 L1759.6,351.6 L1758.1,351.4 L1756.5,350.3 L1755.0,349.4 L1753.4,349.3 L1751.8,349.6 L1750.3,349.7 L1748.7,349.8 L1747.2,350.0 L1745.6,349.4 L1744.1,349.0 L1742.5,349.7 L1741.0,350.7 L1739.4,351.8 L1737.8,352.4 L1736.3,353.0 L1734.7,353.4 L1733.2,354.0 L1731.6,354.6 L1730.1,354.9 L1728.5,355.4 L1726.9,356.1 L1725.4,356.7 L1723.8,357.0 L1722.3,357.8 L1720.7,358.4 L1719.2,358.8 L1717.6,358.6 L1716.1,359.8 L1714.5,359.9 L1712.9,360.4 L1711.4,360.7 L1709.8,361.1 L1708.3,361.6 L1706.7,361.6 L1705.2,361.8 L1703.6,362.1 L1702.1,363.0 L1700.5,363.9 L1698.9,363.5 L1697.4,363.4 L1695.8,363.2 L1694.3,363.0 L1692.7,362.7 L1691.2,363.4 L1689.6,363.9 L1688.1,364.0 L1686.5,364.8 L1684.9,364.0 L1683.4,364.4 L1681.8,364.4 L1680.3,365.4 L1678.7,365.7 L1677.2,365.8 L1675.6,365.6 L1674.1,365.5 L1672.5,366.2 L1670.9,365.9 L1669.4,366.4 L1667.8,366.4 L1666.3,366.9 L1664.7,366.7 L1663.2,367.1 L1661.6,367.3 L1660.1,367.7 L1658.5,368.2 L1656.9,368.5 L1655.4,369.4 L1653.8,369.1 L1652.3,368.8 L1650.7,368.2 L1649.2,368.6 L1647.6,368.6 L1646.0,368.9 L1644.5,368.4 L1642.9,368.5 L1641.4,368.0 L1639.8,366.9 L1638.3,366.9 L1636.7,365.7 L1635.2,366.4 L1633.6,366.2 L1632.0,366.5 L1630.5,365.8 L1628.9,365.2 L1627.4,364.7 L1625.8,363.6 L1624.3,364.0 L1622.7,363.4 L1621.2,362.7 L1619.6,363.8 L1618.0,363.8 L1616.5,364.2 L1614.9,365.0 L1613.4,365.3 L1611.8,364.9 L1610.3,365.6 L1608.7,364.9 L1607.2,362.9 L1605.6,360.9 L1604.0,359.6 L1602.5,361.4 L1600.9,361.5 L1599.4,359.9 L1597.8,358.9 L1596.3,359.7 L1594.7,361.3 L1593.2,360.8 L1591.6,361.3 L1590.0,360.8 L1588.5,361.8 L1586.9,362.0 L1585.4,362.4 L1583.8,361.9 L1583.0,361.0 L1582.3,362.4 L1581.5,363.3 L1580.7,364.8 L1579.9,365.9 L1579.1,365.0 L1578.4,363.8 L1577.6,365.1 L1576.8,363.6 L1576.0,364.5 L1575.3,366.5 L1574.5,368.0 L1573.7,366.7 L1572.9,365.6 L1572.1,367.5 L1571.4,369.1 L1570.6,372.1 L1569.8,373.5 L1569.0,373.9 L1568.3,375.0 L1567.5,375.7 L1566.7,377.2 L1565.9,379.3 L1565.1,379.5 L1564.4,381.1 L1563.6,382.6 L1562.8,383.0 L1562.0,388.0 L1561.3,389.3 L1560.5,387.9 L1559.7,387.9 L1558.9,392.6 L1558.1,392.5 L1557.4,391.4 L1556.6,385.6 L1555.8,380.8 L1555.0,378.6 L1554.3,378.4 L1553.5,378.4 L1552.7,379.4Z" fill="#ff0000" fill-opacity="0.3" stroke="#ff0000" stroke-opacity="0.35" stroke-width="1.1" stroke-linejoin="round"/>
<path d="M1552.7,6.1 L1553.5,54.2 L1554.3,75.9 L1555.0,90.9 L1555.8,98.5 L1556.6,83.2 L1557.4,71.5 L1558.1,69.0 L1558.9,77.0 L1559.7,82.2 L1560.5,83.6 L1561.3,80.4 L1562.0,90.5 L1562.8,98.5 L1563.6,105.5 L1564.4,109.7 L1565.1,112.7 L1565.9,112.7 L1566.7,114.7 L1567.5,116.3 L1568.3,114.7 L1569.0,114.3 L1569.8,118.7 L1570.6,125.4 L1571.4,129.9 L1572.1,133.5 L1572.9,139.2 L1573.7,137.9 L1574.5,135.8 L1575.3,134.9 L1576.0,134.8 L1576.8,133.4 L1577.6,129.4 L1578.4,129.4 L1579.1,133.8 L1579.9,136.3 L1580.7,137.3 L1581.5,137.5 L1582.3,137.4 L1583.0,139.5 L1583.8,141.0 L1585.4,143.5 L1586.9,145.9 L1588.5,145.0 L1590.0,145.3 L1591.6,144.9 L1593.2,145.6 L1594.7,144.8 L1596.3,146.5 L1597.8,146.2 L1599.4,146.5 L1600.9,147.5 L1602.5,145.1 L1604.0,141.4 L1605.6,141.6 L1607.2,143.5 L1608.7,142.4 L1610.3,142.8 L1611.8,142.5 L1613.4,143.3 L1614.9,144.9 L1616.5,146.0 L1618.0,146.3 L1619.6,146.1 L1621.2,144.7 L1622.7,146.6 L1624.3,148.4 L1625.8,150.8 L1627.4,153.9 L1628.9,154.8 L1630.5,153.8 L1632.0,153.4 L1633.6,152.2 L1635.2,151.8 L1636.7,151.2 L1638.3,151.2 L1639.8,151.0 L1641.4,151.2 L1642.9,152.0 L1644.5,153.2 L1646.0,153.5 L1647.6,154.1 L1649.2,155.5 L1650.7,155.4 L1652.3,155.0 L1653.8,154.7 L1655.4,157.2 L1656.9,158.7 L1658.5,159.9 L1660.1,161.1 L1661.6,162.0 L1663.2,161.8 L1664.7,160.7 L1666.3,161.0 L1667.8,161.6 L1669.4,162.8 L1670.9,164.2 L1672.5,165.3 L1674.1,164.2 L1675.6,164.2 L1677.2,165.3 L1678.7,166.8 L1680.3,167.2 L1681.8,168.8 L1683.4,168.9 L1684.9,169.4 L1686.5,170.5 L1688.1,171.2 L1689.6,170.4 L1691.2,170.5 L1692.7,171.7 L1694.3,171.3 L1695.8,171.5 L1697.4,172.2 L1698.9,172.8 L1700.5,172.8 L1702.1,172.9 L1703.6,173.1 L1705.2,174.6 L1706.7,175.8 L1708.3,176.4 L1709.8,175.9 L1711.4,176.1 L1712.9,176.3 L1714.5,176.4 L1716.1,176.7 L1717.6,176.2 L1719.2,176.1 L1720.7,176.3 L1722.3,177.2 L1723.8,177.5 L1725.4,177.9 L1726.9,178.7 L1728.5,178.8 L1730.1,178.7 L1731.6,178.9 L1733.2,179.3 L1734.7,179.7 L1736.3,180.2 L1737.8,179.8 L1739.4,179.7 L1741.0,180.0 L1742.5,180.1 L1744.1,180.7 L1745.6,181.3 L1747.2,181.8 L1748.7,181.0 L1750.3,181.7 L1751.8,182.0 L1753.4,182.0 L1755.0,182.0 L1756.5,182.1 L1758.1,182.0 L1759.6,182.2 L1761.2,182.6 L1762.7,182.5 L1764.3,182.7 L1765.8,183.5 L1767.4,183.7 L1769.0,183.8 L1770.5,183.4 L1772.1,183.9 L1773.6,184.8 L1775.2,185.9 L1776.7,186.3 L1778.3,186.9 L1779.8,187.3 L1781.4,187.6 L1783.0,187.8 L1784.5,188.6 L1786.1,189.3 L1787.6,189.7 L1789.2,190.3 L1790.7,190.5 L1792.3,190.4 L1793.8,190.4 L1795.4,191.2 L1797.0,191.2 L1798.5,191.4 L1800.1,191.6 L1801.6,191.8 L1803.2,192.1 L1804.7,192.5 L1806.3,192.7 L1807.9,192.7 L1809.4,192.4 L1811.0,193.0 L1812.5,193.5 L1814.1,194.0 L1815.6,194.3 L1817.2,194.6 L1818.7,194.8 L1820.3,195.1 L1821.9,195.3 L1823.4,195.4 L1825.0,195.9 L1826.5,196.2 L1828.1,196.9 L1829.6,197.0 L1831.2,196.7 L1832.7,196.6 L1834.3,197.2 L1835.9,197.5 L1837.4,197.5 L1839.0,197.2 L1840.5,197.1 L1842.1,197.5 L1843.6,197.6 L1845.2,197.6 L1846.7,197.7 L1848.3,197.7 L1849.9,198.0 L1851.4,198.0 L1853.0,198.3 L1854.5,197.9 L1856.1,198.5 L1857.6,199.0 L1859.2,199.0 L1860.7,198.5 L1862.3,198.7 L1863.9,199.0 L1865.4,198.8 L1867.0,199.0 L1868.5,198.8 L1870.1,198.7 L1871.6,199.4 L1873.2,199.5 L1874.8,199.5 L1876.3,199.3 L1877.9,200.0 L1879.4,200.3 L1881.0,199.5 L1882.5,199.4 L1884.1,199.2 L1885.6,199.6 L1887.2,199.7 L1888.8,199.0 L1890.3,198.8 L1891.9,199.3 L1893.4,199.6 L1895.0,199.9 L1896.5,199.7 L1898.1,199.6 L1899.6,199.5 L1901.2,200.0 L1902.8,200.1 L1904.3,200.1 L1905.9,200.2 L1907.4,200.1 L1909.0,200.3 L1910.5,200.3 L1912.1,200.6 L1913.6,200.8 L1915.2,201.2 L1916.8,201.0 L1918.3,201.1 L1919.9,201.2 L1921.4,200.7 L1923.0,200.7 L1924.5,201.1 L1926.1,201.6 L1927.6,201.7 L1929.2,201.6 L1930.8,201.5 L1932.3,201.4 L1933.9,201.6 L1935.4,201.5 L1937.0,201.7 L1938.5,201.3 L1940.1,201.9 L1941.7,201.6 L1943.2,201.5 L1944.8,201.8 L1946.3,202.0 L1947.9,202.4 L1949.4,202.9 L1951.0,202.3 L1952.5,202.2 L1954.1,202.6 L1955.7,202.8 L1957.2,202.7 L1958.8,202.7 L1960.3,202.8 L1961.9,202.9 L1963.4,203.2 L1965.0,203.3 L1966.5,203.4 L1968.1,202.9 L1969.7,202.6 L1971.2,202.4 L1972.8,202.2 L1974.3,201.9 L1975.9,201.9 L1977.4,201.5 L1979.0,201.4 L1980.5,201.4 L1982.1,201.4 L1983.7,201.6 L1985.2,201.7 L1986.8,201.4 L1988.3,200.8 L1989.9,200.7 L1991.4,200.6 L1993.0,200.4 L1994.5,200.1 L1996.1,199.6 L1997.7,199.9 L1999.2,200.6 L2000.8,200.5 L2002.3,200.1 L2003.9,200.4 L2005.4,200.8 L2007.0,200.6 L2008.5,200.6 L2010.1,200.7 L2011.7,200.8 L2013.2,200.4 L2014.8,200.6 L2016.3,200.6 L2017.9,200.7 L2019.4,201.2 L2021.0,201.4 L2022.6,201.0 L2024.1,200.8 L2025.7,201.0 L2027.2,201.0 L2028.8,201.1 L2030.3,200.9 L2031.9,200.6 L2033.4,200.7 L2035.0,200.5 L2036.6,200.4 L2038.1,200.3 L2039.7,200.4 L2041.2,200.8 L2042.8,200.8 L2044.3,200.6 L2045.9,200.3 L2047.4,200.4 L2049.0,200.9 L2050.6,200.8 L2052.1,201.0 L2053.7,201.1 L2055.2,201.2 L2056.8,201.1 L2058.3,201.1 L2059.9,201.1 L2061.4,201.5 L2063.0,202.0 L2064.6,201.7 L2066.1,201.6 L2067.7,201.8 L2069.2,201.7 L2070.8,201.8 L2072.3,201.7 L2073.9,201.9 L2075.4,202.3 L2077.0,202.8 L2078.6,202.7 L2080.1,202.5 L2081.7,202.8 L2083.2,202.8 L2084.8,203.0 L2086.3,203.1 L2087.9,202.9 L2089.5,202.9 L2091.0,203.3 L2092.6,203.4 L2094.1,203.6 L2095.7,204.1 L2097.2,204.2 L2098.8,204.0 L2100.3,203.9 L2101.9,203.9 L2103.5,203.9 L2105.0,204.3 L2106.6,203.9 L2108.1,203.9 L2109.7,204.0 L2111.2,204.3 L2112.8,204.1 L2114.3,204.1 L2115.9,204.2 L2117.5,204.5 L2119.0,204.6 L2120.6,204.9 L2122.1,204.5 L2123.7,204.5 L2125.2,204.9 L2126.8,205.2 L2128.3,205.6 L2129.9,205.2 L2131.5,205.2 L2133.0,205.3 L2134.6,205.2 L2136.1,205.3 L2137.7,205.6 L2139.2,205.8 L2140.8,205.8 L2142.3,205.9 L2143.9,206.0 L2145.5,205.7 L2147.0,205.8 L2148.6,205.6 L2150.1,206.0 L2151.7,206.7 L2153.2,206.8 L2154.8,206.4 L2156.4,206.7 L2157.9,207.1 L2159.5,207.4 L2161.0,207.4 L2162.6,207.4 L2164.1,207.3 L2165.7,207.0 L2167.2,207.2 L2168.8,207.4 L2170.4,207.6 L2171.9,207.3 L2173.5,207.0 L2175.0,207.2 L2175.0,365.6 L2173.5,365.4 L2171.9,365.6 L2170.4,365.8 L2168.8,365.3 L2167.2,364.9 L2165.7,365.0 L2164.1,365.3 L2162.6,365.1 L2161.0,365.2 L2159.5,365.2 L2157.9,364.6 L2156.4,364.2 L2154.8,364.3 L2153.2,364.9 L2151.7,364.5 L2150.1,364.0 L2148.6,363.7 L2147.0,363.7 L2145.5,363.3 L2143.9,363.4 L2142.3,363.5 L2140.8,363.6 L2139.2,363.4 L2137.7,363.3 L2136.1,363.5 L2134.6,363.6 L2133.0,363.2 L2131.5,362.9 L2129.9,363.0 L2128.3,363.1 L2126.8,362.8 L2125.2,362.7 L2123.7,362.6 L2122.1,362.0 L2120.6,362.0 L2119.0,362.3 L2117.5,362.5 L2115.9,362.1 L2114.3,362.1 L2112.8,362.0 L2111.2,361.6 L2109.7,361.1 L2108.1,361.4 L2106.6,361.7 L2105.0,361.9 L2103.5,361.5 L2101.9,361.6 L2100.3,361.3 L2098.8,361.4 L2097.2,361.3 L2095.7,361.2 L2094.1,360.8 L2092.6,360.7 L2091.0,360.8 L2089.5,361.0 L2087.9,361.0 L2086.3,360.5 L2084.8,360.5 L2083.2,360.4 L2081.7,360.1 L2080.1,360.1 L2078.6,360.4 L2077.0,360.3 L2075.4,360.1 L2073.9,360.0 L2072.3,359.8 L2070.8,360.1 L2069.2,359.9 L2067.7,359.8 L2066.1,360.0 L2064.6,359.9 L2063.0,359.8 L2061.4,360.0 L2059.9,360.0 L2058.3,359.6 L2056.8,359.7 L2055.2,359.9 L2053.7,359.4 L2052.1,359.4 L2050.6,359.4 L2049.0,359.2 L2047.4,359.1 L2045.9,358.9 L2044.3,358.4 L2042.8,358.7 L2041.2,358.9 L2039.7,358.8 L2038.1,358.6 L2036.6,358.3 L2035.0,358.2 L2033.4,358.7 L2031.9,358.6 L2030.3,358.3 L2028.8,358.2 L2027.2,358.2 L2025.7,358.3 L2024.1,358.5 L2022.6,358.6 L2021.0,358.5 L2019.4,358.0 L2017.9,357.3 L2016.3,357.2 L2014.8,357.6 L2013.2,357.4 L2011.7,357.5 L2010.1,357.3 L2008.5,357.2 L2007.0,357.1 L2005.4,357.0 L2003.9,356.8 L2002.3,356.5 L2000.8,356.6 L1999.2,356.7 L1997.7,356.3 L1996.1,355.8 L1994.5,356.2 L1993.0,356.1 L1991.4,355.8 L1989.9,355.4 L1988.3,355.4 L1986.8,356.2 L1985.2,356.0 L1983.7,355.6 L1982.1,355.1 L1980.5,354.9 L1979.0,354.5 L1977.4,354.5 L1975.9,354.8 L1974.3,354.1 L1972.8,353.9 L1971.2,354.0 L1969.7,354.4 L1968.1,354.1 L1966.5,353.4 L1965.0,353.4 L1963.4,353.7 L1961.9,353.3 L1960.3,353.4 L1958.8,352.9 L1957.2,352.8 L1955.7,352.6 L1954.1,352.6 L1952.5,352.3 L1951.0,352.3 L1949.4,352.6 L1947.9,351.9 L1946.3,351.3 L1944.8,350.9 L1943.2,351.0 L1941.7,350.8 L1940.1,351.0 L1938.5,350.4 L1937.0,350.3 L1935.4,349.9 L1933.9,349.8 L1932.3,349.2 L1930.8,349.1 L1929.2,349.2 L1927.6,349.2 L1926.1,348.9 L1924.5,348.2 L1923.0,348.1 L1921.4,348.2 L1919.9,348.0 L1918.3,347.5 L1916.8,347.1 L1915.2,347.2 L1913.6,346.6 L1912.1,346.2 L1910.5,346.2 L1909.0,346.2 L1907.4,345.8 L1905.9,345.9 L1904.3,345.5 L1902.8,345.1 L1901.2,344.8 L1899.6,344.5 L1898.1,344.3 L1896.5,343.8 L1895.0,343.8 L1893.4,343.4 L1891.9,343.4 L1890.3,342.5 L1888.8,342.2 L1887.2,342.4 L1885.6,342.6 L1884.1,342.4 L1882.5,342.6 L1881.0,342.1 L1879.4,341.8 L1877.9,341.6 L1876.3,340.9 L1874.8,340.7 L1873.2,340.3 L1871.6,340.1 L1870.1,339.8 L1868.5,339.7 L1867.0,339.7 L1865.4,339.5 L1863.9,339.2 L1862.3,338.7 L1860.7,338.5 L1859.2,338.2 L1857.6,337.7 L1856.1,337.4 L1854.5,337.0 L1853.0,337.1 L1851.4,336.5 L1849.9,336.5 L1848.3,335.8 L1846.7,335.5 L1845.2,335.2 L1843.6,334.9 L1842.1,334.8 L1840.5,334.5 L1839.0,334.3 L1837.4,333.6 L1835.9,333.4 L1834.3,333.9 L1832.7,333.0 L1831.2,332.5 L1829.6,332.3 L1828.1,332.6 L1826.5,331.8 L1825.0,330.9 L1823.4,330.5 L1821.9,330.5 L1820.3,330.5 L1818.7,329.7 L1817.2,328.9 L1815.6,328.7 L1814.1,329.2 L1812.5,328.6 L1811.0,327.8 L1809.4,327.1 L1807.9,327.2 L1806.3,327.2 L1804.7,326.9 L1803.2,325.8 L1801.6,325.3 L1800.1,324.6 L1798.5,324.1 L1797.0,323.5 L1795.4,322.9 L1793.8,322.4 L1792.3,322.3 L1790.7,321.7 L1789.2,321.8 L1787.6,321.4 L1786.1,320.3 L1784.5,319.3 L1783.0,318.1 L1781.4,317.9 L1779.8,317.1 L1778.3,316.5 L1776.7,315.9 L1775.2,315.2 L1773.6,314.2 L1772.1,313.7 L1770.5,313.1 L1769.0,313.0 L1767.4,312.5 L1765.8,311.8 L1764.3,311.0 L1762.7,309.7 L1761.2,308.7 L1759.6,307.9 L1758.1,307.6 L1756.5,307.3 L1755.0,306.4 L1753.4,306.3 L1751.8,305.2 L1750.3,304.5 L1748.7,303.8 L1747.2,302.8 L1745.6,302.1 L1744.1,302.3 L1742.5,301.1 L1741.0,300.7 L1739.4,300.3 L1737.8,299.8 L1736.3,299.3 L1734.7,299.1 L1733.2,299.6 L1731.6,298.9 L1730.1,299.1 L1728.5,299.4 L1726.9,298.3 L1725.4,297.6 L1723.8,297.1 L1722.3,297.3 L1720.7,297.1 L1719.2,297.0 L1717.6,297.5 L1716.1,298.0 L1714.5,297.9 L1712.9,297.2 L1711.4,297.2 L1709.8,297.1 L1708.3,297.2 L1706.7,297.3 L1705.2,296.1 L1703.6,295.5 L1702.1,296.2 L1700.5,296.4 L1698.9,295.5 L1697.4,294.2 L1695.8,294.9 L1694.3,294.9 L1692.7,295.0 L1691.2,294.9 L1689.6,295.3 L1688.1,295.6 L1686.5,295.0 L1684.9,295.0 L1683.4,295.0 L1681.8,295.4 L1680.3,294.8 L1678.7,294.3 L1677.2,293.2 L1675.6,293.3 L1674.1,293.4 L1672.5,293.5 L1670.9,291.8 L1669.4,291.2 L1667.8,290.0 L1666.3,288.4 L1664.7,286.8 L1663.2,288.0 L1661.6,287.5 L1660.1,285.8 L1658.5,285.9 L1656.9,284.3 L1655.4,282.1 L1653.8,281.2 L1652.3,281.0 L1650.7,279.3 L1649.2,278.6 L1647.6,278.1 L1646.0,278.0 L1644.5,275.4 L1642.9,273.8 L1641.4,273.9 L1639.8,272.3 L1638.3,270.6 L1636.7,269.8 L1635.2,269.8 L1633.6,268.5 L1632.0,268.4 L1630.5,265.8 L1628.9,263.1 L1627.4,262.3 L1625.8,261.5 L1624.3,260.5 L1622.7,259.7 L1621.2,259.4 L1619.6,259.6 L1618.0,258.8 L1616.5,258.5 L1614.9,256.5 L1613.4,255.1 L1611.8,253.9 L1610.3,254.1 L1608.7,254.5 L1607.2,254.9 L1605.6,251.1 L1604.0,249.3 L1602.5,248.3 L1600.9,246.9 L1599.4,245.4 L1597.8,244.4 L1596.3,243.3 L1594.7,242.1 L1593.2,241.2 L1591.6,237.7 L1590.0,237.3 L1588.5,234.5 L1586.9,231.9 L1585.4,230.0 L1583.8,229.7 L1583.0,229.5 L1582.3,230.0 L1581.5,231.5 L1580.7,230.5 L1579.9,227.1 L1579.1,224.7 L1578.4,223.1 L1577.6,220.1 L1576.8,217.0 L1576.0,217.9 L1575.3,218.6 L1574.5,220.6 L1573.7,222.2 L1572.9,221.0 L1572.1,221.2 L1571.4,219.6 L1570.6,219.0 L1569.8,217.8 L1569.0,216.7 L1568.3,218.6 L1567.5,225.4 L1566.7,228.8 L1565.9,229.6 L1565.1,231.9 L1564.4,229.0 L1563.6,227.1 L1562.8,218.8 L1562.0,212.5 L1561.3,203.4 L1560.5,203.3 L1559.7,212.8 L1558.9,223.9 L1558.1,228.6 L1557.4,236.8 L1556.6,232.6 L1555.8,235.5 L1555.0,230.3 L1554.3,227.9 L1553.5,222.9 L1552.7,221.1Z" fill="#0000ff" fill-opacity="0.3" stroke="#0000ff" stroke-opacity="0.35" stroke-width="1.1" stroke-linejoin="round"/>
<line x1="1552.7" x2="1552.7" y1="7.3" y2="469.3" stroke="#b0b0b0" stroke-width="1.25"/>
<line x1="1630.5" x2="1630.5" y1="7.3" y2="469.3" stroke="#b0b0b0" stroke-width="1.25"/>
<line x1="1708.3" x2="1708.3" y1="7.3" y2="469.3" stroke="#b0b0b0" stroke-width="1.25"/>
<line x1="1786.1" x2="1786.1" y1="7.3" y2="469.3" stroke="#b0b0b0" stroke-width="1.25"/>
<line x1="1863.9" x2="1863.9" y1="7.3" y2="469.3" stroke="#b0b0b0" stroke-width="1.25"/>
<line x1="1941.7" x2="1941.7" y1="7.3" y2="469.3" stroke="#b0b0b0" stroke-width="1.25"/>
<line x1="2019.4" x2="2019.4" y1="7.3" y2="469.3" stroke="#b0b0b0" stroke-width="1.25"/>
<line x1="2097.2" x2="2097.2" y1="7.3" y2="469.3" stroke="#b0b0b0" stroke-width="1.25"/>
<line x1="2175.0" x2="2175.0" y1="7.3" y2="469.3" stroke="#b0b0b0" stroke-width="1.25"/>
<line x1="1552.7" x2="2175.0" y1="448.3" y2="448.3" stroke="#b6b6b6" stroke-width="1.5"/>
<line x1="1552.7" x2="2175.0" y1="391.7" y2="391.7" stroke="#b6b6b6" stroke-width="1.5"/>
<line x1="1552.7" x2="2175.0" y1="335.2" y2="335.2" stroke="#b6b6b6" stroke-width="1.5"/>
<line x1="1552.7" x2="2175.0" y1="278.6" y2="278.6" stroke="#b6b6b6" stroke-width="1.5"/>
<line x1="1552.7" x2="2175.0" y1="222.0" y2="222.0" stroke="#b6b6b6" stroke-width="1.5"/>
<line x1="1552.7" x2="2175.0" y1="165.4" y2="165.4" stroke="#b6b6b6" stroke-width="1.5"/>
<line x1="1552.7" x2="2175.0" y1="108.9" y2="108.9" stroke="#b6b6b6" stroke-width="1.5"/>
<line x1="1552.7" x2="2175.0" y1="52.3" y2="52.3" stroke="#b6b6b6" stroke-width="1.5"/>
<path d="M1552.7,450.2 L1553.5,433.3 L1554.3,416.6 L1555.0,400.0 L1555.8,386.8 L1556.6,374.4 L1557.4,365.9 L1558.1,362.8 L1558.9,360.2 L1559.7,358.6 L1560.5,357.9 L1561.3,354.5 L1562.0,354.0 L1562.8,349.8 L1563.6,347.1 L1564.4,343.4 L1565.1,340.4 L1565.9,337.6 L1566.7,330.8 L1567.5,327.7 L1568.3,324.9 L1569.0,324.1 L1569.8,318.9 L1570.6,314.8 L1571.4,313.4 L1572.1,314.2 L1572.9,314.4 L1573.7,311.5 L1574.5,309.5 L1575.3,307.5 L1576.0,305.8 L1576.8,304.5 L1577.6,303.9 L1578.4,303.4 L1579.1,302.3 L1579.9,299.7 L1580.7,298.4 L1581.5,297.5 L1582.3,297.6 L1583.0,297.5 L1583.8,295.6 L1585.4,293.4 L1586.9,290.5 L1588.5,288.8 L1590.0,286.4 L1591.6,284.8 L1593.2,282.7 L1594.7,281.9 L1596.3,279.7 L1597.8,278.1 L1599.4,274.8 L1600.9,273.7 L1602.5,272.1 L1604.0,272.1 L1605.6,270.7 L1607.2,269.5 L1608.7,267.6 L1610.3,266.8 L1611.8,266.2 L1613.4,264.8 L1614.9,263.5 L1616.5,261.2 L1618.0,260.3 L1619.6,258.1 L1621.2,257.2 L1622.7,255.2 L1624.3,254.2 L1625.8,252.7 L1627.4,251.6 L1628.9,249.6 L1630.5,247.6 L1632.0,245.9 L1633.6,244.9 L1635.2,244.1 L1636.7,243.0 L1638.3,241.3 L1639.8,239.6 L1641.4,237.4 L1642.9,235.5 L1644.5,234.2 L1646.0,232.8 L1647.6,231.8 L1649.2,229.8 L1650.7,229.2 L1652.3,228.3 L1653.8,227.6 L1655.4,226.7 L1656.9,225.5 L1658.5,223.9 L1660.1,222.9 L1661.6,222.2 L1663.2,221.5 L1664.7,220.2 L1666.3,219.3 L1667.8,218.6 L1669.4,217.9 L1670.9,217.1 L1672.5,216.6 L1674.1,216.1 L1675.6,215.4 L1677.2,214.3 L1678.7,213.7 L1680.3,213.3 L1681.8,212.9 L1683.4,212.2 L1684.9,211.1 L1686.5,210.6 L1688.1,209.6 L1689.6,209.0 L1691.2,208.0 L1692.7,207.6 L1694.3,207.0 L1695.8,206.5 L1697.4,205.9 L1698.9,205.1 L1700.5,204.6 L1702.1,203.4 L1703.6,202.9 L1705.2,202.1 L1706.7,201.7 L1708.3,201.0 L1709.8,200.5 L1711.4,200.1 L1712.9,199.6 L1714.5,199.3 L1716.1,198.9 L1717.6,198.4 L1719.2,197.9 L1720.7,197.3 L1722.3,197.0 L1723.8,196.4 L1725.4,196.1 L1726.9,195.4 L1728.5,194.8 L1730.1,194.4 L1731.6,194.1 L1733.2,193.5 L1734.7,192.7 L1736.3,192.1 L1737.8,192.1 L1739.4,191.7 L1741.0,191.1 L1742.5,190.5 L1744.1,190.2 L1745.6,189.9 L1747.2,189.5 L1748.7,188.8 L1750.3,188.3 L1751.8,188.0 L1753.4,187.8 L1755.0,187.5 L1756.5,187.3 L1758.1,187.0 L1759.6,186.4 L1761.2,185.9 L1762.7,185.5 L1764.3,185.5 L1765.8,185.1 L1767.4,184.5 L1769.0,184.0 L1770.5,183.2 L1772.1,182.8 L1773.6,182.3 L1775.2,181.8 L1776.7,180.9 L1778.3,180.4 L1779.8,180.0 L1781.4,179.5 L1783.0,178.8 L1784.5,178.2 L1786.1,177.8 L1787.6,177.4 L1789.2,177.0 L1790.7,176.6 L1792.3,175.9 L1793.8,175.5 L1795.4,174.6 L1797.0,174.3 L1798.5,173.5 L1800.1,173.1 L1801.6,172.6 L1803.2,172.1 L1804.7,171.7 L1806.3,171.3 L1807.9,170.8 L1809.4,170.1 L1811.0,169.6 L1812.5,169.2 L1814.1,169.0 L1815.6,168.4 L1817.2,167.8 L1818.7,166.7 L1820.3,166.0 L1821.9,165.5 L1823.4,165.5 L1825.0,165.2 L1826.5,164.8 L1828.1,164.5 L1829.6,164.0 L1831.2,163.6 L1832.7,163.3 L1834.3,162.7 L1835.9,162.4 L1837.4,162.0 L1839.0,161.9 L1840.5,161.7 L1842.1,161.4 L1843.6,161.0 L1845.2,160.8 L1846.7,160.1 L1848.3,159.9 L1849.9,159.4 L1851.4,159.5 L1853.0,159.4 L1854.5,159.2 L1856.1,158.7 L1857.6,158.3 L1859.2,157.7 L1860.7,157.3 L1862.3,156.9 L1863.9,156.9 L1865.4,156.9 L1867.0,156.6 L1868.5,156.2 L1870.1,155.8 L1871.6,155.5 L1873.2,155.3 L1874.8,154.9 L1876.3,154.7 L1877.9,154.4 L1879.4,154.2 L1881.0,153.8 L1882.5,153.5 L1884.1,153.2 L1885.6,153.0 L1887.2,153.0 L1888.8,152.8 L1890.3,152.6 L1891.9,152.2 L1893.4,152.0 L1895.0,151.6 L1896.5,151.2 L1898.1,150.8 L1899.6,150.8 L1901.2,150.6 L1902.8,150.4 L1904.3,150.1 L1905.9,149.8 L1907.4,149.5 L1909.0,149.0 L1910.5,148.5 L1912.1,148.1 L1913.6,147.9 L1915.2,147.8 L1916.8,147.5 L1918.3,147.2 L1919.9,147.1 L1921.4,146.8 L1923.0,146.7 L1924.5,146.2 L1926.1,145.9 L1927.6,145.3 L1929.2,145.1 L1930.8,144.8 L1932.3,144.7 L1933.9,144.4 L1935.4,144.2 L1937.0,143.9 L1938.5,143.5 L1940.1,143.1 L1941.7,142.8 L1943.2,142.6 L1944.8,142.4 L1946.3,142.2 L1947.9,142.0 L1949.4,141.5 L1951.0,141.4 L1952.5,141.1 L1954.1,140.8 L1955.7,140.4 L1957.2,140.1 L1958.8,139.8 L1960.3,139.5 L1961.9,139.3 L1963.4,139.1 L1965.0,138.7 L1966.5,138.4 L1968.1,138.0 L1969.7,137.9 L1971.2,137.8 L1972.8,137.6 L1974.3,137.4 L1975.9,137.3 L1977.4,137.3 L1979.0,137.3 L1980.5,137.1 L1982.1,137.0 L1983.7,136.8 L1985.2,136.6 L1986.8,136.4 L1988.3,136.2 L1989.9,136.0 L1991.4,135.7 L1993.0,135.5 L1994.5,135.3 L1996.1,135.2 L1997.7,135.2 L1999.2,135.1 L2000.8,134.9 L2002.3,134.5 L2003.9,134.2 L2005.4,134.0 L2007.0,134.0 L2008.5,134.0 L2010.1,134.0 L2011.7,133.9 L2013.2,133.8 L2014.8,133.6 L2016.3,133.4 L2017.9,133.2 L2019.4,133.0 L2021.0,132.7 L2022.6,132.6 L2024.1,132.6 L2025.7,132.6 L2027.2,132.3 L2028.8,132.0 L2030.3,131.8 L2031.9,131.7 L2033.4,131.7 L2035.0,131.6 L2036.6,131.5 L2038.1,131.2 L2039.7,130.9 L2041.2,130.8 L2042.8,131.0 L2044.3,130.9 L2045.9,130.7 L2047.4,130.3 L2049.0,130.0 L2050.6,129.8 L2052.1,129.6 L2053.7,129.7 L2055.2,129.6 L2056.8,129.4 L2058.3,129.2 L2059.9,129.1 L2061.4,129.0 L2063.0,128.9 L2064.6,128.8 L2066.1,128.7 L2067.7,128.5 L2069.2,128.2 L2070.8,128.0 L2072.3,127.9 L2073.9,127.7 L2075.4,127.6 L2077.0,127.4 L2078.6,127.2 L2080.1,127.1 L2081.7,126.9 L2083.2,126.9 L2084.8,126.7 L2086.3,126.5 L2087.9,126.4 L2089.5,126.2 L2091.0,126.2 L2092.6,126.0 L2094.1,125.9 L2095.7,125.7 L2097.2,125.4 L2098.8,125.3 L2100.3,125.3 L2101.9,125.3 L2103.5,125.1 L2105.0,125.0 L2106.6,124.8 L2108.1,124.6 L2109.7,124.4 L2111.2,124.1 L2112.8,124.1 L2114.3,124.0 L2115.9,124.0 L2117.5,123.8 L2119.0,123.6 L2120.6,123.3 L2122.1,123.3 L2123.7,123.1 L2125.2,123.1 L2126.8,122.8 L2128.3,122.7 L2129.9,122.6 L2131.5,122.6 L2133.0,122.5 L2134.6,122.3 L2136.1,122.1 L2137.7,122.1 L2139.2,121.8 L2140.8,121.7 L2142.3,121.4 L2143.9,121.5 L2145.5,121.2 L2147.0,121.2 L2148.6,120.9 L2150.1,120.8 L2151.7,120.6 L2153.2,120.5 L2154.8,120.3 L2156.4,120.1 L2157.9,119.8 L2159.5,119.7 L2161.0,119.7 L2162.6,119.7 L2164.1,119.5 L2165.7,119.4 L2167.2,119.3 L2168.8,119.0 L2170.4,118.8 L2171.9,118.5 L2173.5,118.6 L2175.0,118.5" fill="none" stroke="#008000" stroke-width="1.15" stroke-linejoin="round" stroke-opacity="0.85"/>
<path d="M1552.7,211.0 L1553.5,211.7 L1554.3,213.5 L1555.0,218.3 L1555.8,227.1 L1556.6,234.4 L1557.4,242.8 L1558.1,243.0 L1558.9,243.0 L1559.7,242.2 L1560.5,244.5 L1561.3,246.6 L1562.0,248.6 L1562.8,249.3 L1563.6,250.5 L1564.4,250.8 L1565.1,252.5 L1565.9,254.6 L1566.7,255.6 L1567.5,256.7 L1568.3,257.8 L1569.0,260.7 L1569.8,262.6 L1570.6,264.5 L1571.4,265.7 L1572.1,267.0 L1572.9,269.3 L1573.7,271.6 L1574.5,273.2 L1575.3,273.5 L1576.0,273.9 L1576.8,274.2 L1577.6,275.4 L1578.4,275.6 L1579.1,276.3 L1579.9,276.2 L1580.7,278.1 L1581.5,278.7 L1582.3,279.3 L1583.0,278.7 L1583.8,279.8 L1585.4,282.6 L1586.9,283.9 L1588.5,285.4 L1590.0,285.5 L1591.6,287.5 L1593.2,288.7 L1594.7,289.6 L1596.3,289.5 L1597.8,290.0 L1599.4,291.2 L1600.9,292.6 L1602.5,293.9 L1604.0,294.1 L1605.6,295.2 L1607.2,296.6 L1608.7,297.7 L1610.3,298.4 L1611.8,299.2 L1613.4,300.8 L1614.9,301.9 L1616.5,302.7 L1618.0,303.1 L1619.6,303.9 L1621.2,305.1 L1622.7,306.2 L1624.3,307.1 L1625.8,307.8 L1627.4,308.8 L1628.9,309.8 L1630.5,311.0 L1632.0,312.1 L1633.6,312.4 L1635.2,313.2 L1636.7,313.7 L1638.3,315.1 L1639.8,315.9 L1641.4,317.1 L1642.9,317.9 L1644.5,318.8 L1646.0,319.4 L1647.6,319.8 L1649.2,320.4 L1650.7,320.7 L1652.3,321.5 L1653.8,321.8 L1655.4,322.1 L1656.9,322.3 L1658.5,323.2 L1660.1,323.7 L1661.6,323.8 L1663.2,324.2 L1664.7,324.8 L1666.3,325.9 L1667.8,326.0 L1669.4,326.7 L1670.9,326.5 L1672.5,326.8 L1674.1,327.1 L1675.6,327.8 L1677.2,328.4 L1678.7,328.6 L1680.3,329.0 L1681.8,328.9 L1683.4,329.1 L1684.9,329.3 L1686.5,330.3 L1688.1,330.5 L1689.6,330.7 L1691.2,330.4 L1692.7,330.6 L1694.3,330.9 L1695.8,331.3 L1697.4,332.0 L1698.9,332.3 L1700.5,332.9 L1702.1,333.0 L1703.6,332.9 L1705.2,332.9 L1706.7,333.2 L1708.3,333.5 L1709.8,333.6 L1711.4,333.7 L1712.9,334.1 L1714.5,334.3 L1716.1,334.6 L1717.6,334.5 L1719.2,334.9 L1720.7,334.9 L1722.3,335.3 L1723.8,335.4 L1725.4,335.7 L1726.9,335.9 L1728.5,336.2 L1730.1,336.5 L1731.6,336.6 L1733.2,336.6 L1734.7,336.6 L1736.3,336.9 L1737.8,337.3 L1739.4,337.6 L1741.0,337.5 L1742.5,337.3 L1744.1,337.2 L1745.6,337.6 L1747.2,337.8 L1748.7,337.9 L1750.3,337.8 L1751.8,337.6 L1753.4,337.6 L1755.0,337.8 L1756.5,338.2 L1758.1,338.5 L1759.6,338.5 L1761.2,338.2 L1762.7,337.8 L1764.3,337.6 L1765.8,337.8 L1767.4,338.1 L1769.0,338.4 L1770.5,338.3 L1772.1,338.5 L1773.6,338.9 L1775.2,339.2 L1776.7,339.3 L1778.3,339.3 L1779.8,339.6 L1781.4,339.9 L1783.0,340.1 L1784.5,340.0 L1786.1,340.0 L1787.6,340.0 L1789.2,340.2 L1790.7,340.5 L1792.3,340.7 L1793.8,341.0 L1795.4,341.0 L1797.0,341.1 L1798.5,341.6 L1800.1,341.9 L1801.6,342.1 L1803.2,342.1 L1804.7,342.3 L1806.3,342.5 L1807.9,342.8 L1809.4,343.0 L1811.0,343.2 L1812.5,343.3 L1814.1,343.5 L1815.6,343.7 L1817.2,343.8 L1818.7,344.0 L1820.3,344.3 L1821.9,344.6 L1823.4,344.6 L1825.0,344.7 L1826.5,344.9 L1828.1,345.4 L1829.6,345.6 L1831.2,345.6 L1832.7,345.9 L1834.3,345.9 L1835.9,346.0 L1837.4,346.0 L1839.0,346.2 L1840.5,346.3 L1842.1,346.3 L1843.6,346.3 L1845.2,346.5 L1846.7,346.7 L1848.3,347.0 L1849.9,347.2 L1851.4,347.5 L1853.0,347.6 L1854.5,347.5 L1856.1,347.7 L1857.6,348.0 L1859.2,348.5 L1860.7,348.5 L1862.3,348.5 L1863.9,348.6 L1865.4,348.6 L1867.0,348.8 L1868.5,348.9 L1870.1,349.1 L1871.6,349.2 L1873.2,349.1 L1874.8,349.1 L1876.3,349.4 L1877.9,349.5 L1879.4,349.8 L1881.0,349.6 L1882.5,349.7 L1884.1,349.7 L1885.6,350.0 L1887.2,350.1 L1888.8,350.2 L1890.3,350.2 L1891.9,350.4 L1893.4,350.5 L1895.0,350.8 L1896.5,350.9 L1898.1,351.1 L1899.6,351.2 L1901.2,351.3 L1902.8,351.2 L1904.3,351.5 L1905.9,351.6 L1907.4,351.9 L1909.0,351.9 L1910.5,352.0 L1912.1,352.0 L1913.6,352.1 L1915.2,352.5 L1916.8,352.6 L1918.3,352.7 L1919.9,352.6 L1921.4,352.7 L1923.0,352.9 L1924.5,353.1 L1926.1,353.3 L1927.6,353.5 L1929.2,353.7 L1930.8,353.6 L1932.3,353.6 L1933.9,353.8 L1935.4,354.0 L1937.0,354.3 L1938.5,354.4 L1940.1,354.5 L1941.7,354.5 L1943.2,354.5 L1944.8,354.5 L1946.3,354.7 L1947.9,354.7 L1949.4,354.9 L1951.0,355.0 L1952.5,355.0 L1954.1,355.0 L1955.7,355.0 L1957.2,355.1 L1958.8,355.4 L1960.3,355.5 L1961.9,355.6 L1963.4,355.5 L1965.0,355.7 L1966.5,355.7 L1968.1,355.8 L1969.7,355.8 L1971.2,355.8 L1972.8,355.7 L1974.3,355.9 L1975.9,356.1 L1977.4,356.4 L1979.0,356.4 L1980.5,356.4 L1982.1,356.3 L1983.7,356.3 L1985.2,356.4 L1986.8,356.4 L1988.3,356.4 L1989.9,356.5 L1991.4,356.9 L1993.0,357.2 L1994.5,357.2 L1996.1,357.3 L1997.7,357.2 L1999.2,357.3 L2000.8,357.4 L2002.3,357.6 L2003.9,357.6 L2005.4,357.6 L2007.0,357.7 L2008.5,357.8 L2010.1,358.0 L2011.7,358.0 L2013.2,358.1 L2014.8,358.1 L2016.3,358.3 L2017.9,358.4 L2019.4,358.4 L2021.0,358.5 L2022.6,358.6 L2024.1,358.7 L2025.7,358.7 L2027.2,358.7 L2028.8,358.6 L2030.3,358.6 L2031.9,358.7 L2033.4,358.8 L2035.0,358.9 L2036.6,358.9 L2038.1,359.0 L2039.7,359.2 L2041.2,359.2 L2042.8,359.1 L2044.3,359.1 L2045.9,359.1 L2047.4,359.2 L2049.0,359.1 L2050.6,359.2 L2052.1,359.4 L2053.7,359.6 L2055.2,359.6 L2056.8,359.6 L2058.3,359.8 L2059.9,359.9 L2061.4,360.0 L2063.0,360.0 L2064.6,359.8 L2066.1,359.9 L2067.7,359.9 L2069.2,360.1 L2070.8,360.1 L2072.3,360.2 L2073.9,360.3 L2075.4,360.5 L2077.0,360.4 L2078.6,360.5 L2080.1,360.4 L2081.7,360.4 L2083.2,360.3 L2084.8,360.3 L2086.3,360.6 L2087.9,360.8 L2089.5,360.9 L2091.0,361.0 L2092.6,361.0 L2094.1,361.0 L2095.7,361.1 L2097.2,361.2 L2098.8,361.3 L2100.3,361.2 L2101.9,361.3 L2103.5,361.2 L2105.0,361.4 L2106.6,361.4 L2108.1,361.5 L2109.7,361.5 L2111.2,361.6 L2112.8,361.6 L2114.3,361.8 L2115.9,362.0 L2117.5,362.0 L2119.0,362.0 L2120.6,362.2 L2122.1,362.2 L2123.7,362.4 L2125.2,362.3 L2126.8,362.4 L2128.3,362.3 L2129.9,362.3 L2131.5,362.3 L2133.0,362.5 L2134.6,362.8 L2136.1,362.8 L2137.7,362.9 L2139.2,362.8 L2140.8,363.0 L2142.3,362.9 L2143.9,363.1 L2145.5,363.1 L2147.0,363.2 L2148.6,363.2 L2150.1,363.3 L2151.7,363.3 L2153.2,363.5 L2154.8,363.6 L2156.4,363.7 L2157.9,363.6 L2159.5,363.7 L2161.0,363.8 L2162.6,363.8 L2164.1,363.9 L2165.7,363.9 L2167.2,363.9 L2168.8,364.1 L2170.4,364.1 L2171.9,364.3 L2173.5,364.1 L2175.0,364.2" fill="none" stroke="#ff0000" stroke-width="1.05" stroke-linejoin="round" stroke-opacity="0.85"/>
<path d="M1552.7,151.6 L1553.5,162.9 L1554.3,178.4 L1555.0,180.4 L1555.8,179.1 L1556.6,171.9 L1557.4,169.6 L1558.1,167.4 L1558.9,170.2 L1559.7,169.1 L1560.5,172.2 L1561.3,171.9 L1562.0,177.4 L1562.8,181.1 L1563.6,187.1 L1564.4,188.5 L1565.1,189.3 L1565.9,188.8 L1566.7,188.8 L1567.5,188.6 L1568.3,187.7 L1569.0,188.7 L1569.8,191.2 L1570.6,193.9 L1571.4,194.9 L1572.1,194.4 L1572.9,194.1 L1573.7,193.2 L1574.5,191.4 L1575.3,190.1 L1576.0,189.3 L1576.8,189.6 L1577.6,191.3 L1578.4,192.8 L1579.1,194.6 L1579.9,196.4 L1580.7,197.5 L1581.5,198.2 L1582.3,198.1 L1583.0,198.3 L1583.8,199.2 L1585.4,200.7 L1586.9,202.8 L1588.5,203.7 L1590.0,204.9 L1591.6,204.2 L1593.2,205.2 L1594.7,205.7 L1596.3,207.5 L1597.8,208.9 L1599.4,209.0 L1600.9,207.4 L1602.5,206.8 L1604.0,208.0 L1605.6,209.3 L1607.2,211.1 L1608.7,211.2 L1610.3,211.9 L1611.8,211.8 L1613.4,213.3 L1614.9,213.8 L1616.5,212.9 L1618.0,211.7 L1619.6,212.6 L1621.2,213.1 L1622.7,214.0 L1624.3,215.1 L1625.8,216.4 L1627.4,217.8 L1628.9,219.5 L1630.5,221.1 L1632.0,221.9 L1633.6,222.1 L1635.2,222.2 L1636.7,222.6 L1638.3,223.2 L1639.8,223.5 L1641.4,224.1 L1642.9,224.4 L1644.5,225.2 L1646.0,225.9 L1647.6,226.3 L1649.2,227.0 L1650.7,226.9 L1652.3,227.0 L1653.8,227.0 L1655.4,228.5 L1656.9,229.3 L1658.5,230.4 L1660.1,230.8 L1661.6,231.4 L1663.2,231.8 L1664.7,231.8 L1666.3,232.1 L1667.8,232.2 L1669.4,233.2 L1670.9,233.6 L1672.5,234.4 L1674.1,233.9 L1675.6,234.1 L1677.2,234.4 L1678.7,235.3 L1680.3,236.0 L1681.8,236.4 L1683.4,236.3 L1684.9,236.9 L1686.5,237.2 L1688.1,237.8 L1689.6,238.2 L1691.2,238.5 L1692.7,239.1 L1694.3,239.2 L1695.8,239.6 L1697.4,239.7 L1698.9,240.6 L1700.5,241.1 L1702.1,241.3 L1703.6,241.4 L1705.2,242.1 L1706.7,242.9 L1708.3,243.4 L1709.8,243.6 L1711.4,243.9 L1712.9,244.2 L1714.5,244.6 L1716.1,244.6 L1717.6,244.3 L1719.2,244.3 L1720.7,244.6 L1722.3,245.3 L1723.8,245.6 L1725.4,246.1 L1726.9,246.6 L1728.5,247.0 L1730.1,247.5 L1731.6,247.7 L1733.2,248.1 L1734.7,248.1 L1736.3,248.5 L1737.8,248.7 L1739.4,248.7 L1741.0,249.0 L1742.5,249.4 L1744.1,250.2 L1745.6,250.2 L1747.2,250.4 L1748.7,250.6 L1750.3,251.2 L1751.8,251.5 L1753.4,251.9 L1755.0,251.9 L1756.5,252.3 L1758.1,252.4 L1759.6,252.6 L1761.2,252.8 L1762.7,253.1 L1764.3,253.6 L1765.8,254.0 L1767.4,254.5 L1769.0,255.0 L1770.5,254.9 L1772.1,255.2 L1773.6,255.6 L1775.2,256.3 L1776.7,256.6 L1778.3,257.0 L1779.8,257.2 L1781.4,257.7 L1783.0,258.0 L1784.5,258.6 L1786.1,259.1 L1787.6,259.7 L1789.2,260.2 L1790.7,260.1 L1792.3,260.2 L1793.8,260.3 L1795.4,260.7 L1797.0,260.8 L1798.5,261.0 L1800.1,261.2 L1801.6,261.7 L1803.2,262.0 L1804.7,262.4 L1806.3,262.5 L1807.9,262.5 L1809.4,262.5 L1811.0,263.2 L1812.5,263.8 L1814.1,264.1 L1815.6,264.1 L1817.2,264.4 L1818.7,264.8 L1820.3,265.3 L1821.9,265.5 L1823.4,265.8 L1825.0,266.1 L1826.5,266.5 L1828.1,267.0 L1829.6,267.0 L1831.2,267.3 L1832.7,267.4 L1834.3,267.8 L1835.9,267.7 L1837.4,267.7 L1839.0,267.8 L1840.5,268.0 L1842.1,268.3 L1843.6,268.4 L1845.2,268.6 L1846.7,268.8 L1848.3,269.0 L1849.9,269.3 L1851.4,269.3 L1853.0,269.8 L1854.5,269.8 L1856.1,270.3 L1857.6,270.5 L1859.2,270.4 L1860.7,270.4 L1862.3,270.6 L1863.9,270.9 L1865.4,271.2 L1867.0,271.3 L1868.5,271.3 L1870.1,271.5 L1871.6,271.9 L1873.2,272.0 L1874.8,272.3 L1876.3,272.4 L1877.9,273.0 L1879.4,273.3 L1881.0,273.3 L1882.5,273.5 L1884.1,273.6 L1885.6,273.9 L1887.2,273.8 L1888.8,273.9 L1890.3,273.9 L1891.9,274.3 L1893.4,274.5 L1895.0,274.8 L1896.5,274.8 L1898.1,275.1 L1899.6,275.3 L1901.2,275.7 L1902.8,275.8 L1904.3,276.0 L1905.9,276.2 L1907.4,276.2 L1909.0,276.3 L1910.5,276.2 L1912.1,276.5 L1913.6,276.7 L1915.2,276.9 L1916.8,277.1 L1918.3,277.3 L1919.9,277.4 L1921.4,277.4 L1923.0,277.3 L1924.5,277.4 L1926.1,277.9 L1927.6,278.1 L1929.2,278.2 L1930.8,278.3 L1932.3,278.3 L1933.9,278.6 L1935.4,278.4 L1937.0,278.7 L1938.5,278.7 L1940.1,279.0 L1941.7,278.9 L1943.2,279.1 L1944.8,279.2 L1946.3,279.6 L1947.9,279.9 L1949.4,280.2 L1951.0,280.1 L1952.5,280.1 L1954.1,280.2 L1955.7,280.5 L1957.2,280.6 L1958.8,280.7 L1960.3,281.2 L1961.9,281.2 L1963.4,281.3 L1965.0,281.3 L1966.5,281.5 L1968.1,281.6 L1969.7,281.9 L1971.2,281.9 L1972.8,282.0 L1974.3,281.8 L1975.9,282.1 L1977.4,282.2 L1979.0,282.3 L1980.5,282.4 L1982.1,282.6 L1983.7,283.0 L1985.2,283.0 L1986.8,283.1 L1988.3,282.9 L1989.9,282.9 L1991.4,283.0 L1993.0,283.2 L1994.5,283.3 L1996.1,283.2 L1997.7,283.4 L1999.2,283.5 L2000.8,283.6 L2002.3,283.6 L2003.9,283.6 L2005.4,283.8 L2007.0,283.8 L2008.5,283.9 L2010.1,284.0 L2011.7,284.1 L2013.2,284.1 L2014.8,284.0 L2016.3,283.8 L2017.9,283.9 L2019.4,284.3 L2021.0,284.7 L2022.6,284.8 L2024.1,284.7 L2025.7,284.8 L2027.2,285.0 L2028.8,285.1 L2030.3,285.3 L2031.9,285.3 L2033.4,285.5 L2035.0,285.4 L2036.6,285.4 L2038.1,285.5 L2039.7,285.7 L2041.2,286.0 L2042.8,286.1 L2044.3,286.1 L2045.9,286.2 L2047.4,286.3 L2049.0,286.6 L2050.6,286.7 L2052.1,286.9 L2053.7,287.0 L2055.2,287.2 L2056.8,287.2 L2058.3,287.3 L2059.9,287.4 L2061.4,287.6 L2063.0,287.8 L2064.6,287.8 L2066.1,287.8 L2067.7,287.8 L2069.2,287.9 L2070.8,288.2 L2072.3,288.2 L2073.9,288.2 L2075.4,288.4 L2077.0,288.7 L2078.6,288.9 L2080.1,288.8 L2081.7,289.0 L2083.2,288.9 L2084.8,289.1 L2086.3,289.2 L2087.9,289.5 L2089.5,289.5 L2091.0,289.5 L2092.6,289.6 L2094.1,289.8 L2095.7,290.0 L2097.2,290.2 L2098.8,290.2 L2100.3,290.2 L2101.9,290.4 L2103.5,290.5 L2105.0,290.7 L2106.6,290.6 L2108.1,290.5 L2109.7,290.5 L2111.2,290.7 L2112.8,290.9 L2114.3,291.1 L2115.9,291.1 L2117.5,291.5 L2119.0,291.4 L2120.6,291.5 L2122.1,291.6 L2123.7,291.7 L2125.2,291.8 L2126.8,292.0 L2128.3,292.3 L2129.9,292.2 L2131.5,292.2 L2133.0,292.3 L2134.6,292.7 L2136.1,292.8 L2137.7,292.8 L2139.2,292.9 L2140.8,293.0 L2142.3,293.1 L2143.9,293.2 L2145.5,293.2 L2147.0,293.4 L2148.6,293.4 L2150.1,293.7 L2151.7,294.1 L2153.2,294.3 L2154.8,294.0 L2156.4,294.1 L2157.9,294.3 L2159.5,294.6 L2161.0,294.8 L2162.6,294.8 L2164.1,294.9 L2165.7,294.8 L2167.2,294.9 L2168.8,295.0 L2170.4,295.2 L2171.9,295.2 L2173.5,295.2 L2175.0,295.3" fill="none" stroke="#0000ff" stroke-width="1.2" stroke-linejoin="round" stroke-opacity="0.85"/>
</g>
<rect x="1552.7" y="7.3" width="622.3" height="462.0" fill="none" stroke="#262626" stroke-width="1.8"/>
<line x1="1552.7" x2="1552.7" y1="469.3" y2="475.6" stroke="#262626" stroke-width="1.6"/>
<text class="tk" transform="translate(1552.7,497.7) scale(1,1.08)" text-anchor="middle">0</text>
<line x1="1630.5" x2="1630.5" y1="469.3" y2="475.6" stroke="#262626" stroke-width="1.6"/>
<text class="tk" transform="translate(1630.5,497.7) scale(1,1.08)" text-anchor="middle">50</text>
<line x1="1708.3" x2="1708.3" y1="469.3" y2="475.6" stroke="#262626" stroke-width="1.6"/>
<text class="tk" transform="translate(1708.3,497.7) scale(1,1.08)" text-anchor="middle">100</text>
<line x1="1786.1" x2="1786.1" y1="469.3" y2="475.6" stroke="#262626" stroke-width="1.6"/>
<text class="tk" transform="translate(1786.1,497.7) scale(1,1.08)" text-anchor="middle">150</text>
<line x1="1863.9" x2="1863.9" y1="469.3" y2="475.6" stroke="#262626" stroke-width="1.6"/>
<text class="tk" transform="translate(1863.9,497.7) scale(1,1.08)" text-anchor="middle">200</text>
<line x1="1941.7" x2="1941.7" y1="469.3" y2="475.6" stroke="#262626" stroke-width="1.6"/>
<text class="tk" transform="translate(1941.7,497.7) scale(1,1.08)" text-anchor="middle">250</text>
<line x1="2019.4" x2="2019.4" y1="469.3" y2="475.6" stroke="#262626" stroke-width="1.6"/>
<text class="tk" transform="translate(2019.4,497.7) scale(1,1.08)" text-anchor="middle">300</text>
<line x1="2097.2" x2="2097.2" y1="469.3" y2="475.6" stroke="#262626" stroke-width="1.6"/>
<text class="tk" transform="translate(2097.2,497.7) scale(1,1.08)" text-anchor="middle">350</text>
<line x1="2175.0" x2="2175.0" y1="469.3" y2="475.6" stroke="#262626" stroke-width="1.6"/>
<text class="tk" transform="translate(2175.0,497.7) scale(1,1.08)" text-anchor="middle">400</text>
<line x1="1546.2" x2="1552.7" y1="448.3" y2="448.3" stroke="#262626" stroke-width="1.6"/>
<text class="tk" transform="translate(1538.4,456.6) scale(1,1.06)" text-anchor="end">0.0</text>
<line x1="1546.2" x2="1552.7" y1="391.7" y2="391.7" stroke="#262626" stroke-width="1.6"/>
<text class="tk" transform="translate(1538.4,400.0) scale(1,1.06)" text-anchor="end">0.1</text>
<line x1="1546.2" x2="1552.7" y1="335.2" y2="335.2" stroke="#262626" stroke-width="1.6"/>
<text class="tk" transform="translate(1538.4,343.5) scale(1,1.06)" text-anchor="end">0.2</text>
<line x1="1546.2" x2="1552.7" y1="278.6" y2="278.6" stroke="#262626" stroke-width="1.6"/>
<text class="tk" transform="translate(1538.4,286.9) scale(1,1.06)" text-anchor="end">0.3</text>
<line x1="1546.2" x2="1552.7" y1="222.0" y2="222.0" stroke="#262626" stroke-width="1.6"/>
<text class="tk" transform="translate(1538.4,230.3) scale(1,1.06)" text-anchor="end">0.4</text>
<line x1="1546.2" x2="1552.7" y1="165.4" y2="165.4" stroke="#262626" stroke-width="1.6"/>
<text class="tk" transform="translate(1538.4,173.8) scale(1,1.06)" text-anchor="end">0.5</text>
<line x1="1546.2" x2="1552.7" y1="108.9" y2="108.9" stroke="#262626" stroke-width="1.6"/>
<text class="tk" transform="translate(1538.4,117.2) scale(1,1.06)" text-anchor="end">0.6</text>
<line x1="1546.2" x2="1552.7" y1="52.3" y2="52.3" stroke="#262626" stroke-width="1.6"/>
<text class="tk" transform="translate(1538.4,60.6) scale(1,1.06)" text-anchor="end">0.7</text>
<text class="al" x="1863.3" y="526.6" text-anchor="middle">Round</text>
<text class="al" transform="translate(1499.5,237.5) rotate(-90)" text-anchor="middle">Ratio</text>
<rect x="2015.7" y="15.6" width="151.6" height="78" rx="3.5" fill="#fff" fill-opacity="0.8" stroke="#cccccc" stroke-width="1.2"/>
<line x1="2022.0" x2="2057.9" y1="28.2" y2="28.2" stroke="#008000" stroke-width="1.15" stroke-opacity="0.8"/>
<text class="lg" x="2071.7" y="33.2">Win Ratio</text>
<line x1="2022.0" x2="2057.9" y1="52.4" y2="52.4" stroke="#ff0000" stroke-width="1.05" stroke-opacity="0.8"/>
<text class="lg" x="2071.7" y="57.4">Loss Ratio</text>
<line x1="2022.0" x2="2057.9" y1="77.1" y2="77.1" stroke="#0000ff" stroke-width="1.2" stroke-opacity="0.8"/>
<text class="lg" x="2071.7" y="82.1">Draw Ratio</text>
</g>
</g>
</svg>
<div class="cap lab" style="left:13.2px;">(a)</div><div class="cap" style="left:68.6px;">The change of the winning rate of POL method.</div>
<div class="cap lab" style="left:764.5px;">(b)</div><div class="cap" style="left:822.3px;">The change of the winning rate of IL method.</div>
<div class="cap lab" style="left:1487.9px;">(c)</div><div class="cap" style="left:1542.6px;">The change of the winning rate of SGL method.</div>
<div class="main" style="left:529.9px;letter-spacing:1.35px;"><b>Fig. 7.</b></div><div class="main" style="left:628.6px;">Changes of the winning percentage of different opponents’ learning methods.</div>
</body></html>
